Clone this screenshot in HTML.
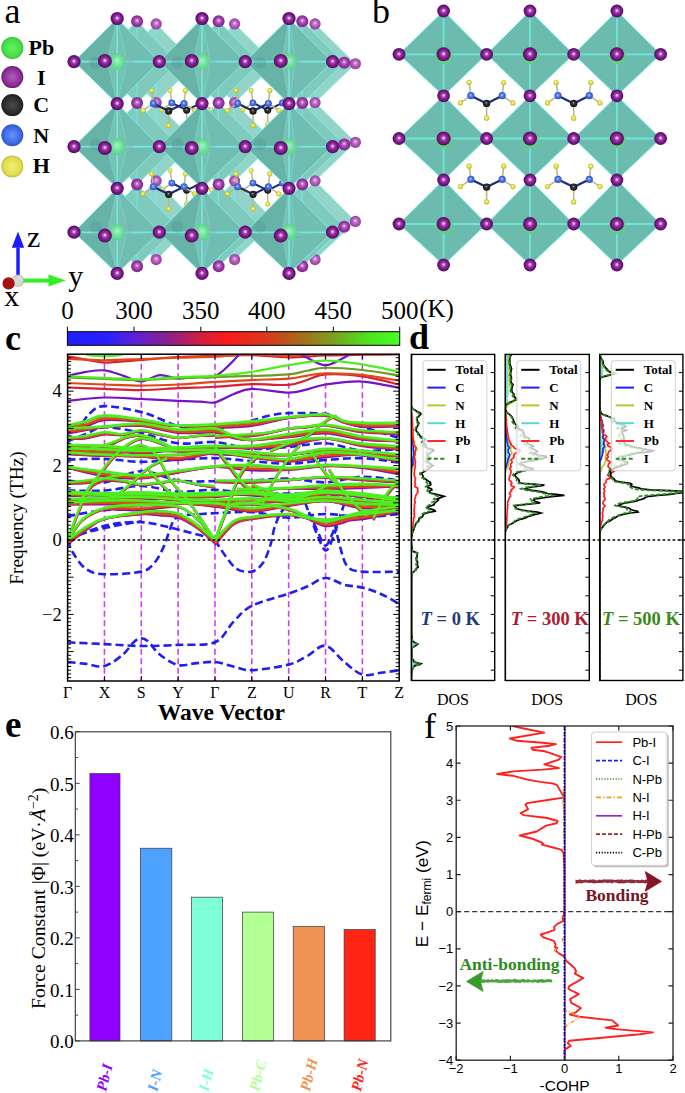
<!DOCTYPE html>
<html><head><meta charset="utf-8"><style>
html,body{margin:0;padding:0;background:#fff;}
svg{display:block;}
text{font-family:"Liberation Serif",serif;}
.sans{font-family:"Liberation Sans",sans-serif;}
</style></head><body>
<svg width="685" height="1093" viewBox="0 0 685 1093">

<defs>
<radialGradient id="gI" cx="0.5" cy="0.5" r="0.52" fx="0.5" fy="0.46">
 <stop offset="0" stop-color="#ffeaff"/><stop offset="0.1" stop-color="#f2b4f6"/><stop offset="0.3" stop-color="#a442b2"/>
 <stop offset="0.6" stop-color="#7c1c8a"/><stop offset="0.88" stop-color="#5e0e6c"/><stop offset="1" stop-color="#4a0858"/>
</radialGradient>
<radialGradient id="gIr" cx="0.5" cy="0.5" r="0.55" fx="0.5" fy="0.42">
 <stop offset="0" stop-color="#fbe6fb"/><stop offset="0.2" stop-color="#c878d0"/>
 <stop offset="0.55" stop-color="#9a38a6"/><stop offset="1" stop-color="#7a2088"/>
</radialGradient>
<radialGradient id="gIr2" cx="0.5" cy="0.5" r="0.55" fx="0.5" fy="0.42">
 <stop offset="0" stop-color="#f8e4f8"/><stop offset="0.22" stop-color="#cc88d2"/>
 <stop offset="0.6" stop-color="#ab52b4"/><stop offset="1" stop-color="#8e3a9a"/>
</radialGradient>
<radialGradient id="gPb" cx="0.5" cy="0.5" r="0.55" fx="0.5" fy="0.42">
 <stop offset="0" stop-color="#a4f8c6"/><stop offset="0.5" stop-color="#70e49c"/><stop offset="1" stop-color="#58d084"/>
</radialGradient>
<radialGradient id="gN" cx="0.5" cy="0.5" r="0.55" fx="0.45" fy="0.4">
 <stop offset="0" stop-color="#d8e4ff"/><stop offset="0.3" stop-color="#5a86f0"/><stop offset="1" stop-color="#2a48b8"/>
</radialGradient>
<radialGradient id="gC" cx="0.5" cy="0.5" r="0.55" fx="0.45" fy="0.4">
 <stop offset="0" stop-color="#b0b0b0"/><stop offset="0.3" stop-color="#3a3a3a"/><stop offset="1" stop-color="#0a0a0a"/>
</radialGradient>
<radialGradient id="gH" cx="0.5" cy="0.5" r="0.55" fx="0.45" fy="0.4">
 <stop offset="0" stop-color="#ffffd8"/><stop offset="0.35" stop-color="#ecec50"/><stop offset="1" stop-color="#b8b020"/>
</radialGradient>
<radialGradient id="lPb" cx="0.5" cy="0.5" r="0.5">
 <stop offset="0" stop-color="#66f066"/><stop offset="0.8" stop-color="#44e044"/><stop offset="1" stop-color="#38b838"/>
</radialGradient>
<radialGradient id="lI" cx="0.5" cy="0.5" r="0.5">
 <stop offset="0" stop-color="#b060b8"/><stop offset="0.8" stop-color="#8a2a96"/><stop offset="1" stop-color="#6a1a76"/>
</radialGradient>
<radialGradient id="lC" cx="0.5" cy="0.5" r="0.5">
 <stop offset="0" stop-color="#4a4a4a"/><stop offset="0.8" stop-color="#2a2a2a"/><stop offset="1" stop-color="#1a1a1a"/>
</radialGradient>
<radialGradient id="lN" cx="0.5" cy="0.5" r="0.5">
 <stop offset="0" stop-color="#6a90ff"/><stop offset="0.8" stop-color="#3a68e0"/><stop offset="1" stop-color="#2a50c0"/>
</radialGradient>
<radialGradient id="lH" cx="0.5" cy="0.5" r="0.5">
 <stop offset="0" stop-color="#f0f070"/><stop offset="0.8" stop-color="#e0dc50"/><stop offset="1" stop-color="#c0bc38"/>
</radialGradient>
<linearGradient id="cbar" x1="0" y1="0" x2="1" y2="0">
 <stop offset="0" stop-color="#1f1fff"/><stop offset="0.12" stop-color="#2a20f8"/><stop offset="0.2" stop-color="#5a22d8"/>
 <stop offset="0.3" stop-color="#8a2090"/><stop offset="0.4" stop-color="#d02040"/><stop offset="0.48" stop-color="#f81c1c"/>
 <stop offset="0.6" stop-color="#d83a1c"/><stop offset="0.7" stop-color="#a86a1c"/><stop offset="0.8" stop-color="#7aa020"/>
 <stop offset="0.9" stop-color="#50e020"/><stop offset="1" stop-color="#44ff22"/>
</linearGradient>
</defs>
<g id="pa">
<path d="M156.2,23.93 L195.13,63.77 L156.2,102.59 L116.26,63.77 Z" fill="#93d3c8"/>
<path d="M156.2,23.93 L195.13,63.77 L156.2,102.59 L116.26,63.77 Z" fill="none" stroke="#80efe6" stroke-width="1" opacity="0.9"/>
<path d="M116.26,63.77 L195.13,63.77 M156.2,23.93 L156.2,102.59" fill="none" stroke="#74ece2" stroke-width="1.1" opacity="0.9"/>
<path d="M146.74,63.24 L156.2,23.93 M146.74,63.24 L156.2,102.59 M146.74,63.24 L116.26,63.77 M146.74,63.24 L195.13,63.77" fill="none" stroke="#7fe6de" stroke-width="0.7" opacity="0.6"/>
<path d="M156.2,102.59 L195.13,142.33 L156.2,180.87 L116.26,142.33 Z" fill="#93d3c8"/>
<path d="M156.2,102.59 L195.13,142.33 L156.2,180.87 L116.26,142.33 Z" fill="none" stroke="#80efe6" stroke-width="1" opacity="0.9"/>
<path d="M116.26,142.33 L195.13,142.33 M156.2,102.59 L156.2,180.87" fill="none" stroke="#74ece2" stroke-width="1.1" opacity="0.9"/>
<path d="M146.74,143.37 L156.2,102.59 M146.74,143.37 L156.2,180.87 M146.74,143.37 L116.26,142.33 M146.74,143.37 L195.13,142.33" fill="none" stroke="#7fe6de" stroke-width="0.7" opacity="0.6"/>
<path d="M156.2,180.87 L195.13,221.45 L156.2,259.53 L116.26,221.45 Z" fill="#93d3c8"/>
<path d="M156.2,180.87 L195.13,221.45 L156.2,259.53 L116.26,221.45 Z" fill="none" stroke="#80efe6" stroke-width="1" opacity="0.9"/>
<path d="M116.26,221.45 L195.13,221.45 M156.2,180.87 L156.2,259.53" fill="none" stroke="#74ece2" stroke-width="1.1" opacity="0.9"/>
<path d="M146.74,224.06 L156.2,180.87 M146.74,224.06 L156.2,259.53 M146.74,224.06 L116.26,221.45 M146.74,224.06 L195.13,221.45" fill="none" stroke="#7fe6de" stroke-width="0.7" opacity="0.6"/>
<path d="M234.62,23.93 L274.56,63.77 L234.62,102.59 L195.13,63.77 Z" fill="#93d3c8"/>
<path d="M234.62,23.93 L274.56,63.77 L234.62,102.59 L195.13,63.77 Z" fill="none" stroke="#80efe6" stroke-width="1" opacity="0.9"/>
<path d="M195.13,63.77 L274.56,63.77 M234.62,23.93 L234.62,102.59" fill="none" stroke="#74ece2" stroke-width="1.1" opacity="0.9"/>
<path d="M226.7,63.24 L234.62,23.93 M226.7,63.24 L234.62,102.59 M226.7,63.24 L195.13,63.77 M226.7,63.24 L274.56,63.77" fill="none" stroke="#7fe6de" stroke-width="0.7" opacity="0.6"/>
<path d="M234.62,102.59 L274.56,142.33 L234.62,180.87 L195.13,142.33 Z" fill="#93d3c8"/>
<path d="M234.62,102.59 L274.56,142.33 L234.62,180.87 L195.13,142.33 Z" fill="none" stroke="#80efe6" stroke-width="1" opacity="0.9"/>
<path d="M195.13,142.33 L274.56,142.33 M234.62,102.59 L234.62,180.87" fill="none" stroke="#74ece2" stroke-width="1.1" opacity="0.9"/>
<path d="M226.7,143.37 L234.62,102.59 M226.7,143.37 L234.62,180.87 M226.7,143.37 L195.13,142.33 M226.7,143.37 L274.56,142.33" fill="none" stroke="#7fe6de" stroke-width="0.7" opacity="0.6"/>
<path d="M234.62,180.87 L274.56,221.45 L234.62,259.53 L195.13,221.45 Z" fill="#93d3c8"/>
<path d="M234.62,180.87 L274.56,221.45 L234.62,259.53 L195.13,221.45 Z" fill="none" stroke="#80efe6" stroke-width="1" opacity="0.9"/>
<path d="M195.13,221.45 L274.56,221.45 M234.62,180.87 L234.62,259.53" fill="none" stroke="#74ece2" stroke-width="1.1" opacity="0.9"/>
<path d="M226.7,224.06 L234.62,180.87 M226.7,224.06 L234.62,259.53 M226.7,224.06 L195.13,221.45 M226.7,224.06 L274.56,221.45" fill="none" stroke="#7fe6de" stroke-width="0.7" opacity="0.6"/>
<path d="M315.06,23.93 L355.38,63.77 L315.06,102.59 L274.56,63.77 Z" fill="#93d3c8"/>
<path d="M315.06,23.93 L355.38,63.77 L315.06,102.59 L274.56,63.77 Z" fill="none" stroke="#80efe6" stroke-width="1" opacity="0.9"/>
<path d="M274.56,63.77 L355.38,63.77 M315.06,23.93 L315.06,102.59" fill="none" stroke="#74ece2" stroke-width="1.1" opacity="0.9"/>
<path d="M308.74,63.24 L315.06,23.93 M308.74,63.24 L315.06,102.59 M308.74,63.24 L274.56,63.77 M308.74,63.24 L355.38,63.77" fill="none" stroke="#7fe6de" stroke-width="0.7" opacity="0.6"/>
<path d="M315.06,102.59 L355.38,142.33 L315.06,180.87 L274.56,142.33 Z" fill="#93d3c8"/>
<path d="M315.06,102.59 L355.38,142.33 L315.06,180.87 L274.56,142.33 Z" fill="none" stroke="#80efe6" stroke-width="1" opacity="0.9"/>
<path d="M274.56,142.33 L355.38,142.33 M315.06,102.59 L315.06,180.87" fill="none" stroke="#74ece2" stroke-width="1.1" opacity="0.9"/>
<path d="M308.74,143.37 L315.06,102.59 M308.74,143.37 L315.06,180.87 M308.74,143.37 L274.56,142.33 M308.74,143.37 L355.38,142.33" fill="none" stroke="#7fe6de" stroke-width="0.7" opacity="0.6"/>
<path d="M315.06,180.87 L355.38,221.45 L315.06,259.53 L274.56,221.45 Z" fill="#93d3c8"/>
<path d="M315.06,180.87 L355.38,221.45 L315.06,259.53 L274.56,221.45 Z" fill="none" stroke="#80efe6" stroke-width="1" opacity="0.9"/>
<path d="M274.56,221.45 L355.38,221.45 M315.06,180.87 L315.06,259.53" fill="none" stroke="#74ece2" stroke-width="1.1" opacity="0.9"/>
<path d="M308.74,224.06 L315.06,180.87 M308.74,224.06 L315.06,259.53 M308.74,224.06 L274.56,221.45 M308.74,224.06 L355.38,221.45" fill="none" stroke="#7fe6de" stroke-width="0.7" opacity="0.6"/>
<circle cx="116.26" cy="63.77" r="5.6" fill="url(#gIr2)"/>
<circle cx="116.26" cy="142.33" r="5.6" fill="url(#gIr2)"/>
<circle cx="116.26" cy="221.45" r="5.6" fill="url(#gIr2)"/>
<circle cx="156.2" cy="23.93" r="5.6" fill="url(#gIr2)"/>
<circle cx="156.2" cy="102.59" r="5.6" fill="url(#gIr2)"/>
<circle cx="156.2" cy="180.87" r="5.6" fill="url(#gIr2)"/>
<circle cx="156.2" cy="259.53" r="5.6" fill="url(#gIr2)"/>
<circle cx="234.62" cy="23.93" r="5.6" fill="url(#gIr2)"/>
<circle cx="234.62" cy="102.59" r="5.6" fill="url(#gIr2)"/>
<circle cx="234.62" cy="180.87" r="5.6" fill="url(#gIr2)"/>
<circle cx="234.62" cy="259.53" r="5.6" fill="url(#gIr2)"/>
<circle cx="315.06" cy="23.93" r="5.6" fill="url(#gIr2)"/>
<circle cx="315.06" cy="102.59" r="5.6" fill="url(#gIr2)"/>
<circle cx="315.06" cy="180.87" r="5.6" fill="url(#gIr2)"/>
<circle cx="315.06" cy="259.53" r="5.6" fill="url(#gIr2)"/>
<circle cx="355.38" cy="63.77" r="5.6" fill="url(#gIr2)"/>
<circle cx="355.38" cy="142.33" r="5.6" fill="url(#gIr2)"/>
<circle cx="355.38" cy="221.45" r="5.6" fill="url(#gIr2)"/>
<line x1="171.82" y1="102.92" x2="170.12" y2="90.48" stroke="#b8b890" stroke-width="1.51"/>
<line x1="171.82" y1="102.92" x2="161.92" y2="109.71" stroke="#b8b890" stroke-width="1.51"/>
<line x1="201.33" y1="102.92" x2="202.75" y2="90.48" stroke="#b8b890" stroke-width="1.51"/>
<line x1="201.33" y1="102.92" x2="211.42" y2="109.71" stroke="#b8b890" stroke-width="1.51"/>
<line x1="186.62" y1="110.18" x2="186.62" y2="124.14" stroke="#b8b890" stroke-width="1.51"/>
<path d="M171.82,102.92 L186.62,110.18 L201.33,102.92" fill="none" stroke="#1c2c7c" stroke-width="2.07"/>
<circle cx="170.12" cy="90.48" r="2.45" fill="url(#gH)"/>
<circle cx="161.92" cy="109.71" r="2.45" fill="url(#gH)"/>
<circle cx="202.75" cy="90.48" r="2.45" fill="url(#gH)"/>
<circle cx="211.42" cy="109.71" r="2.45" fill="url(#gH)"/>
<circle cx="186.62" cy="124.14" r="2.45" fill="url(#gH)"/>
<circle cx="171.82" cy="102.92" r="3.39" fill="url(#gN)"/>
<circle cx="201.33" cy="102.92" r="3.39" fill="url(#gN)"/>
<circle cx="186.62" cy="110.18" r="3.49" fill="url(#gC)"/>
<line x1="171.82" y1="183.05" x2="170.12" y2="170.6" stroke="#b8b890" stroke-width="1.51"/>
<line x1="171.82" y1="183.05" x2="161.92" y2="189.84" stroke="#b8b890" stroke-width="1.51"/>
<line x1="201.33" y1="183.05" x2="202.75" y2="170.6" stroke="#b8b890" stroke-width="1.51"/>
<line x1="201.33" y1="183.05" x2="211.42" y2="189.84" stroke="#b8b890" stroke-width="1.51"/>
<line x1="186.62" y1="190.31" x2="186.62" y2="204.27" stroke="#b8b890" stroke-width="1.51"/>
<path d="M171.82,183.05 L186.62,190.31 L201.33,183.05" fill="none" stroke="#1c2c7c" stroke-width="2.07"/>
<circle cx="170.12" cy="170.6" r="2.45" fill="url(#gH)"/>
<circle cx="161.92" cy="189.84" r="2.45" fill="url(#gH)"/>
<circle cx="202.75" cy="170.6" r="2.45" fill="url(#gH)"/>
<circle cx="211.42" cy="189.84" r="2.45" fill="url(#gH)"/>
<circle cx="186.62" cy="204.27" r="2.45" fill="url(#gH)"/>
<circle cx="171.82" cy="183.05" r="3.39" fill="url(#gN)"/>
<circle cx="201.33" cy="183.05" r="3.39" fill="url(#gN)"/>
<circle cx="186.62" cy="190.31" r="3.49" fill="url(#gC)"/>
<line x1="252.91" y1="102.92" x2="251.22" y2="90.48" stroke="#b8b890" stroke-width="1.51"/>
<line x1="252.91" y1="102.92" x2="243.01" y2="109.71" stroke="#b8b890" stroke-width="1.51"/>
<line x1="282.43" y1="102.92" x2="283.84" y2="90.48" stroke="#b8b890" stroke-width="1.51"/>
<line x1="282.43" y1="102.92" x2="292.52" y2="109.71" stroke="#b8b890" stroke-width="1.51"/>
<line x1="267.72" y1="110.18" x2="267.72" y2="124.14" stroke="#b8b890" stroke-width="1.51"/>
<path d="M252.91,102.92 L267.72,110.18 L282.43,102.92" fill="none" stroke="#1c2c7c" stroke-width="2.07"/>
<circle cx="251.22" cy="90.48" r="2.45" fill="url(#gH)"/>
<circle cx="243.01" cy="109.71" r="2.45" fill="url(#gH)"/>
<circle cx="283.84" cy="90.48" r="2.45" fill="url(#gH)"/>
<circle cx="292.52" cy="109.71" r="2.45" fill="url(#gH)"/>
<circle cx="267.72" cy="124.14" r="2.45" fill="url(#gH)"/>
<circle cx="252.91" cy="102.92" r="3.39" fill="url(#gN)"/>
<circle cx="282.43" cy="102.92" r="3.39" fill="url(#gN)"/>
<circle cx="267.72" cy="110.18" r="3.49" fill="url(#gC)"/>
<line x1="252.91" y1="183.05" x2="251.22" y2="170.6" stroke="#b8b890" stroke-width="1.51"/>
<line x1="252.91" y1="183.05" x2="243.01" y2="189.84" stroke="#b8b890" stroke-width="1.51"/>
<line x1="282.43" y1="183.05" x2="283.84" y2="170.6" stroke="#b8b890" stroke-width="1.51"/>
<line x1="282.43" y1="183.05" x2="292.52" y2="189.84" stroke="#b8b890" stroke-width="1.51"/>
<line x1="267.72" y1="190.31" x2="267.72" y2="204.27" stroke="#b8b890" stroke-width="1.51"/>
<path d="M252.91,183.05 L267.72,190.31 L282.43,183.05" fill="none" stroke="#1c2c7c" stroke-width="2.07"/>
<circle cx="251.22" cy="170.6" r="2.45" fill="url(#gH)"/>
<circle cx="243.01" cy="189.84" r="2.45" fill="url(#gH)"/>
<circle cx="283.84" cy="170.6" r="2.45" fill="url(#gH)"/>
<circle cx="292.52" cy="189.84" r="2.45" fill="url(#gH)"/>
<circle cx="267.72" cy="204.27" r="2.45" fill="url(#gH)"/>
<circle cx="252.91" cy="183.05" r="3.39" fill="url(#gN)"/>
<circle cx="282.43" cy="183.05" r="3.39" fill="url(#gN)"/>
<circle cx="267.72" cy="190.31" r="3.49" fill="url(#gC)"/>
<path d="M137.08,21.27 L177.57,62.7 L137.08,103.08 L95.54,62.7 Z" fill="#80c9bd"/>
<path d="M137.08,21.27 L177.57,62.7 L137.08,103.08 L95.54,62.7 Z" fill="none" stroke="#80efe6" stroke-width="1" opacity="0.9"/>
<path d="M95.54,62.7 L177.57,62.7 M137.08,21.27 L137.08,103.08" fill="none" stroke="#74ece2" stroke-width="1.1" opacity="0.9"/>
<path d="M127.24,62.16 L137.08,21.27 M127.24,62.16 L137.08,103.08 M127.24,62.16 L95.54,62.7 M127.24,62.16 L177.57,62.7" fill="none" stroke="#7fe6de" stroke-width="0.7" opacity="0.6"/>
<path d="M137.08,103.08 L177.57,144.42 L137.08,184.51 L95.54,144.42 Z" fill="#80c9bd"/>
<path d="M137.08,103.08 L177.57,144.42 L137.08,184.51 L95.54,144.42 Z" fill="none" stroke="#80efe6" stroke-width="1" opacity="0.9"/>
<path d="M95.54,144.42 L177.57,144.42 M137.08,103.08 L137.08,184.51" fill="none" stroke="#74ece2" stroke-width="1.1" opacity="0.9"/>
<path d="M127.24,145.5 L137.08,103.08 M127.24,145.5 L137.08,184.51 M127.24,145.5 L95.54,144.42 M127.24,145.5 L177.57,144.42" fill="none" stroke="#7fe6de" stroke-width="0.7" opacity="0.6"/>
<path d="M137.08,184.51 L177.57,226.72 L137.08,266.33 L95.54,226.72 Z" fill="#80c9bd"/>
<path d="M137.08,184.51 L177.57,226.72 L137.08,266.33 L95.54,226.72 Z" fill="none" stroke="#80efe6" stroke-width="1" opacity="0.9"/>
<path d="M95.54,226.72 L177.57,226.72 M137.08,184.51 L137.08,266.33" fill="none" stroke="#74ece2" stroke-width="1.1" opacity="0.9"/>
<path d="M127.24,229.43 L137.08,184.51 M127.24,229.43 L137.08,266.33 M127.24,229.43 L95.54,226.72 M127.24,229.43 L177.57,226.72" fill="none" stroke="#7fe6de" stroke-width="0.7" opacity="0.6"/>
<path d="M218.63,21.27 L260.17,62.7 L218.63,103.08 L177.57,62.7 Z" fill="#80c9bd"/>
<path d="M218.63,21.27 L260.17,62.7 L218.63,103.08 L177.57,62.7 Z" fill="none" stroke="#80efe6" stroke-width="1" opacity="0.9"/>
<path d="M177.57,62.7 L260.17,62.7 M218.63,21.27 L218.63,103.08" fill="none" stroke="#74ece2" stroke-width="1.1" opacity="0.9"/>
<path d="M210.39,62.16 L218.63,21.27 M210.39,62.16 L218.63,103.08 M210.39,62.16 L177.57,62.7 M210.39,62.16 L260.17,62.7" fill="none" stroke="#7fe6de" stroke-width="0.7" opacity="0.6"/>
<path d="M218.63,103.08 L260.17,144.42 L218.63,184.51 L177.57,144.42 Z" fill="#80c9bd"/>
<path d="M218.63,103.08 L260.17,144.42 L218.63,184.51 L177.57,144.42 Z" fill="none" stroke="#80efe6" stroke-width="1" opacity="0.9"/>
<path d="M177.57,144.42 L260.17,144.42 M218.63,103.08 L218.63,184.51" fill="none" stroke="#74ece2" stroke-width="1.1" opacity="0.9"/>
<path d="M210.39,145.5 L218.63,103.08 M210.39,145.5 L218.63,184.51 M210.39,145.5 L177.57,144.42 M210.39,145.5 L260.17,144.42" fill="none" stroke="#7fe6de" stroke-width="0.7" opacity="0.6"/>
<path d="M218.63,184.51 L260.17,226.72 L218.63,266.33 L177.57,226.72 Z" fill="#80c9bd"/>
<path d="M218.63,184.51 L260.17,226.72 L218.63,266.33 L177.57,226.72 Z" fill="none" stroke="#80efe6" stroke-width="1" opacity="0.9"/>
<path d="M177.57,226.72 L260.17,226.72 M218.63,184.51 L218.63,266.33" fill="none" stroke="#74ece2" stroke-width="1.1" opacity="0.9"/>
<path d="M210.39,229.43 L218.63,184.51 M210.39,229.43 L218.63,266.33 M210.39,229.43 L177.57,226.72 M210.39,229.43 L260.17,226.72" fill="none" stroke="#7fe6de" stroke-width="0.7" opacity="0.6"/>
<path d="M302.29,21.27 L344.21,62.7 L302.29,103.08 L260.17,62.7 Z" fill="#80c9bd"/>
<path d="M302.29,21.27 L344.21,62.7 L302.29,103.08 L260.17,62.7 Z" fill="none" stroke="#80efe6" stroke-width="1" opacity="0.9"/>
<path d="M260.17,62.7 L344.21,62.7 M302.29,21.27 L302.29,103.08" fill="none" stroke="#74ece2" stroke-width="1.1" opacity="0.9"/>
<path d="M295.71,62.16 L302.29,21.27 M295.71,62.16 L302.29,103.08 M295.71,62.16 L260.17,62.7 M295.71,62.16 L344.21,62.7" fill="none" stroke="#7fe6de" stroke-width="0.7" opacity="0.6"/>
<path d="M302.29,103.08 L344.21,144.42 L302.29,184.51 L260.17,144.42 Z" fill="#80c9bd"/>
<path d="M302.29,103.08 L344.21,144.42 L302.29,184.51 L260.17,144.42 Z" fill="none" stroke="#80efe6" stroke-width="1" opacity="0.9"/>
<path d="M260.17,144.42 L344.21,144.42 M302.29,103.08 L302.29,184.51" fill="none" stroke="#74ece2" stroke-width="1.1" opacity="0.9"/>
<path d="M295.71,145.5 L302.29,103.08 M295.71,145.5 L302.29,184.51 M295.71,145.5 L260.17,144.42 M295.71,145.5 L344.21,144.42" fill="none" stroke="#7fe6de" stroke-width="0.7" opacity="0.6"/>
<path d="M302.29,184.51 L344.21,226.72 L302.29,266.33 L260.17,226.72 Z" fill="#80c9bd"/>
<path d="M302.29,184.51 L344.21,226.72 L302.29,266.33 L260.17,226.72 Z" fill="none" stroke="#80efe6" stroke-width="1" opacity="0.9"/>
<path d="M260.17,226.72 L344.21,226.72 M302.29,184.51 L302.29,266.33" fill="none" stroke="#74ece2" stroke-width="1.1" opacity="0.9"/>
<path d="M295.71,229.43 L302.29,184.51 M295.71,229.43 L302.29,266.33 M295.71,229.43 L260.17,226.72 M295.71,229.43 L344.21,226.72" fill="none" stroke="#7fe6de" stroke-width="0.7" opacity="0.6"/>
<circle cx="95.54" cy="62.7" r="6" fill="url(#gIr)"/>
<circle cx="95.54" cy="144.42" r="6" fill="url(#gIr)"/>
<circle cx="95.54" cy="226.72" r="6" fill="url(#gIr)"/>
<circle cx="137.08" cy="21.27" r="6" fill="url(#gIr)"/>
<circle cx="137.08" cy="103.08" r="6" fill="url(#gIr)"/>
<circle cx="137.08" cy="184.51" r="6" fill="url(#gIr)"/>
<circle cx="137.08" cy="266.33" r="6" fill="url(#gIr)"/>
<circle cx="218.63" cy="21.27" r="6" fill="url(#gIr)"/>
<circle cx="218.63" cy="103.08" r="6" fill="url(#gIr)"/>
<circle cx="218.63" cy="184.51" r="6" fill="url(#gIr)"/>
<circle cx="218.63" cy="266.33" r="6" fill="url(#gIr)"/>
<circle cx="302.29" cy="21.27" r="6" fill="url(#gIr)"/>
<circle cx="302.29" cy="103.08" r="6" fill="url(#gIr)"/>
<circle cx="302.29" cy="184.51" r="6" fill="url(#gIr)"/>
<circle cx="302.29" cy="266.33" r="6" fill="url(#gIr)"/>
<circle cx="344.21" cy="62.7" r="6" fill="url(#gIr)"/>
<circle cx="344.21" cy="144.42" r="6" fill="url(#gIr)"/>
<circle cx="344.21" cy="226.72" r="6" fill="url(#gIr)"/>
<line x1="153.32" y1="103.44" x2="151.56" y2="90.49" stroke="#b8b890" stroke-width="1.57"/>
<line x1="153.32" y1="103.44" x2="143.03" y2="110.5" stroke="#b8b890" stroke-width="1.57"/>
<line x1="184.02" y1="103.44" x2="185.49" y2="90.49" stroke="#b8b890" stroke-width="1.57"/>
<line x1="184.02" y1="103.44" x2="194.51" y2="110.5" stroke="#b8b890" stroke-width="1.57"/>
<line x1="168.72" y1="110.99" x2="168.72" y2="125.5" stroke="#b8b890" stroke-width="1.57"/>
<path d="M153.32,103.44 L168.72,110.99 L184.02,103.44" fill="none" stroke="#1c2c7c" stroke-width="2.16"/>
<circle cx="151.56" cy="90.49" r="2.55" fill="url(#gH)"/>
<circle cx="143.03" cy="110.5" r="2.55" fill="url(#gH)"/>
<circle cx="185.49" cy="90.49" r="2.55" fill="url(#gH)"/>
<circle cx="194.51" cy="110.5" r="2.55" fill="url(#gH)"/>
<circle cx="168.72" cy="125.5" r="2.55" fill="url(#gH)"/>
<circle cx="153.32" cy="103.44" r="3.53" fill="url(#gN)"/>
<circle cx="184.02" cy="103.44" r="3.53" fill="url(#gN)"/>
<circle cx="168.72" cy="110.99" r="3.63" fill="url(#gC)"/>
<line x1="153.32" y1="186.78" x2="151.56" y2="173.84" stroke="#b8b890" stroke-width="1.57"/>
<line x1="153.32" y1="186.78" x2="143.03" y2="193.84" stroke="#b8b890" stroke-width="1.57"/>
<line x1="184.02" y1="186.78" x2="185.49" y2="173.84" stroke="#b8b890" stroke-width="1.57"/>
<line x1="184.02" y1="186.78" x2="194.51" y2="193.84" stroke="#b8b890" stroke-width="1.57"/>
<line x1="168.72" y1="194.33" x2="168.72" y2="208.84" stroke="#b8b890" stroke-width="1.57"/>
<path d="M153.32,186.78 L168.72,194.33 L184.02,186.78" fill="none" stroke="#1c2c7c" stroke-width="2.16"/>
<circle cx="151.56" cy="173.84" r="2.55" fill="url(#gH)"/>
<circle cx="143.03" cy="193.84" r="2.55" fill="url(#gH)"/>
<circle cx="185.49" cy="173.84" r="2.55" fill="url(#gH)"/>
<circle cx="194.51" cy="193.84" r="2.55" fill="url(#gH)"/>
<circle cx="168.72" cy="208.84" r="2.55" fill="url(#gH)"/>
<circle cx="153.32" cy="186.78" r="3.53" fill="url(#gN)"/>
<circle cx="184.02" cy="186.78" r="3.53" fill="url(#gN)"/>
<circle cx="168.72" cy="194.33" r="3.63" fill="url(#gC)"/>
<line x1="237.66" y1="103.44" x2="235.89" y2="90.49" stroke="#b8b890" stroke-width="1.57"/>
<line x1="237.66" y1="103.44" x2="227.36" y2="110.5" stroke="#b8b890" stroke-width="1.57"/>
<line x1="268.35" y1="103.44" x2="269.82" y2="90.49" stroke="#b8b890" stroke-width="1.57"/>
<line x1="268.35" y1="103.44" x2="278.84" y2="110.5" stroke="#b8b890" stroke-width="1.57"/>
<line x1="253.05" y1="110.99" x2="253.05" y2="125.5" stroke="#b8b890" stroke-width="1.57"/>
<path d="M237.66,103.44 L253.05,110.99 L268.35,103.44" fill="none" stroke="#1c2c7c" stroke-width="2.16"/>
<circle cx="235.89" cy="90.49" r="2.55" fill="url(#gH)"/>
<circle cx="227.36" cy="110.5" r="2.55" fill="url(#gH)"/>
<circle cx="269.82" cy="90.49" r="2.55" fill="url(#gH)"/>
<circle cx="278.84" cy="110.5" r="2.55" fill="url(#gH)"/>
<circle cx="253.05" cy="125.5" r="2.55" fill="url(#gH)"/>
<circle cx="237.66" cy="103.44" r="3.53" fill="url(#gN)"/>
<circle cx="268.35" cy="103.44" r="3.53" fill="url(#gN)"/>
<circle cx="253.05" cy="110.99" r="3.63" fill="url(#gC)"/>
<line x1="237.66" y1="186.78" x2="235.89" y2="173.84" stroke="#b8b890" stroke-width="1.57"/>
<line x1="237.66" y1="186.78" x2="227.36" y2="193.84" stroke="#b8b890" stroke-width="1.57"/>
<line x1="268.35" y1="186.78" x2="269.82" y2="173.84" stroke="#b8b890" stroke-width="1.57"/>
<line x1="268.35" y1="186.78" x2="278.84" y2="193.84" stroke="#b8b890" stroke-width="1.57"/>
<line x1="253.05" y1="194.33" x2="253.05" y2="208.84" stroke="#b8b890" stroke-width="1.57"/>
<path d="M237.66,186.78 L253.05,194.33 L268.35,186.78" fill="none" stroke="#1c2c7c" stroke-width="2.16"/>
<circle cx="235.89" cy="173.84" r="2.55" fill="url(#gH)"/>
<circle cx="227.36" cy="193.84" r="2.55" fill="url(#gH)"/>
<circle cx="269.82" cy="173.84" r="2.55" fill="url(#gH)"/>
<circle cx="278.84" cy="193.84" r="2.55" fill="url(#gH)"/>
<circle cx="253.05" cy="208.84" r="2.55" fill="url(#gH)"/>
<circle cx="237.66" cy="186.78" r="3.53" fill="url(#gN)"/>
<circle cx="268.35" cy="186.78" r="3.53" fill="url(#gN)"/>
<circle cx="253.05" cy="194.33" r="3.63" fill="url(#gC)"/>
<path d="M117.2,18.5 L159.3,61.6 L117.2,103.6 L74,61.6 Z" fill="#6cbcaf"/>
<path d="M117.2,18.5 L74,61.6 L117.2,103.6 L106.96,61.03 Z" fill="#000000" opacity="0.045"/>
<path d="M117.2,18.5 L106.96,61.03 L117.2,103.6 L127.24,62.16 Z" fill="#ffffff" opacity="0.07"/>
<path d="M117.2,18.5 L127.24,62.16 L117.2,103.6 L159.3,61.6 Z" fill="#ffffff" opacity="0.03"/>
<path d="M117.2,18.5 L127.24,62.16 L117.2,103.6" fill="none" stroke="#7fe6de" stroke-width="0.7" opacity="0.6"/>
<path d="M117.2,18.5 L159.3,61.6 L117.2,103.6 L74,61.6 Z" fill="none" stroke="#80efe6" stroke-width="1" opacity="0.9"/>
<path d="M74,61.6 L159.3,61.6 M117.2,18.5 L117.2,103.6" fill="none" stroke="#74ece2" stroke-width="1.6" opacity="0.9"/>
<path d="M106.96,61.03 L117.2,18.5 M106.96,61.03 L117.2,103.6 M106.96,61.03 L74,61.6 M106.96,61.03 L159.3,61.6" fill="none" stroke="#7fe6de" stroke-width="0.7" opacity="0.6"/>
<path d="M117.2,103.6 L159.3,146.6 L117.2,188.3 L74,146.6 Z" fill="#6cbcaf"/>
<path d="M117.2,103.6 L74,146.6 L117.2,188.3 L106.96,147.72 Z" fill="#000000" opacity="0.045"/>
<path d="M117.2,103.6 L106.96,147.72 L117.2,188.3 L127.24,145.5 Z" fill="#ffffff" opacity="0.07"/>
<path d="M117.2,103.6 L127.24,145.5 L117.2,188.3 L159.3,146.6 Z" fill="#ffffff" opacity="0.03"/>
<path d="M117.2,103.6 L127.24,145.5 L117.2,188.3" fill="none" stroke="#7fe6de" stroke-width="0.7" opacity="0.6"/>
<path d="M117.2,103.6 L159.3,146.6 L117.2,188.3 L74,146.6 Z" fill="none" stroke="#80efe6" stroke-width="1" opacity="0.9"/>
<path d="M74,146.6 L159.3,146.6 M117.2,103.6 L117.2,188.3" fill="none" stroke="#74ece2" stroke-width="1.6" opacity="0.9"/>
<path d="M106.96,147.72 L117.2,103.6 M106.96,147.72 L117.2,188.3 M106.96,147.72 L74,146.6 M106.96,147.72 L159.3,146.6" fill="none" stroke="#7fe6de" stroke-width="0.7" opacity="0.6"/>
<path d="M117.2,188.3 L159.3,232.2 L117.2,273.4 L74,232.2 Z" fill="#6cbcaf"/>
<path d="M117.2,188.3 L74,232.2 L117.2,273.4 L106.96,235.02 Z" fill="#000000" opacity="0.045"/>
<path d="M117.2,188.3 L106.96,235.02 L117.2,273.4 L127.24,229.43 Z" fill="#ffffff" opacity="0.07"/>
<path d="M117.2,188.3 L127.24,229.43 L117.2,273.4 L159.3,232.2 Z" fill="#ffffff" opacity="0.03"/>
<path d="M117.2,188.3 L127.24,229.43 L117.2,273.4" fill="none" stroke="#7fe6de" stroke-width="0.7" opacity="0.6"/>
<path d="M117.2,188.3 L159.3,232.2 L117.2,273.4 L74,232.2 Z" fill="none" stroke="#80efe6" stroke-width="1" opacity="0.9"/>
<path d="M74,232.2 L159.3,232.2 M117.2,188.3 L117.2,273.4" fill="none" stroke="#74ece2" stroke-width="1.6" opacity="0.9"/>
<path d="M106.96,235.02 L117.2,188.3 M106.96,235.02 L117.2,273.4 M106.96,235.02 L74,232.2 M106.96,235.02 L159.3,232.2" fill="none" stroke="#7fe6de" stroke-width="0.7" opacity="0.6"/>
<path d="M202,18.5 L245.2,61.6 L202,103.6 L159.3,61.6 Z" fill="#6cbcaf"/>
<path d="M202,18.5 L159.3,61.6 L202,103.6 L193.44,61.03 Z" fill="#000000" opacity="0.045"/>
<path d="M202,18.5 L193.44,61.03 L202,103.6 L210.39,62.16 Z" fill="#ffffff" opacity="0.07"/>
<path d="M202,18.5 L210.39,62.16 L202,103.6 L245.2,61.6 Z" fill="#ffffff" opacity="0.03"/>
<path d="M202,18.5 L210.39,62.16 L202,103.6" fill="none" stroke="#7fe6de" stroke-width="0.7" opacity="0.6"/>
<path d="M202,18.5 L245.2,61.6 L202,103.6 L159.3,61.6 Z" fill="none" stroke="#80efe6" stroke-width="1" opacity="0.9"/>
<path d="M159.3,61.6 L245.2,61.6 M202,18.5 L202,103.6" fill="none" stroke="#74ece2" stroke-width="1.6" opacity="0.9"/>
<path d="M193.44,61.03 L202,18.5 M193.44,61.03 L202,103.6 M193.44,61.03 L159.3,61.6 M193.44,61.03 L245.2,61.6" fill="none" stroke="#7fe6de" stroke-width="0.7" opacity="0.6"/>
<path d="M202,103.6 L245.2,146.6 L202,188.3 L159.3,146.6 Z" fill="#6cbcaf"/>
<path d="M202,103.6 L159.3,146.6 L202,188.3 L193.44,147.72 Z" fill="#000000" opacity="0.045"/>
<path d="M202,103.6 L193.44,147.72 L202,188.3 L210.39,145.5 Z" fill="#ffffff" opacity="0.07"/>
<path d="M202,103.6 L210.39,145.5 L202,188.3 L245.2,146.6 Z" fill="#ffffff" opacity="0.03"/>
<path d="M202,103.6 L210.39,145.5 L202,188.3" fill="none" stroke="#7fe6de" stroke-width="0.7" opacity="0.6"/>
<path d="M202,103.6 L245.2,146.6 L202,188.3 L159.3,146.6 Z" fill="none" stroke="#80efe6" stroke-width="1" opacity="0.9"/>
<path d="M159.3,146.6 L245.2,146.6 M202,103.6 L202,188.3" fill="none" stroke="#74ece2" stroke-width="1.6" opacity="0.9"/>
<path d="M193.44,147.72 L202,103.6 M193.44,147.72 L202,188.3 M193.44,147.72 L159.3,146.6 M193.44,147.72 L245.2,146.6" fill="none" stroke="#7fe6de" stroke-width="0.7" opacity="0.6"/>
<path d="M202,188.3 L245.2,232.2 L202,273.4 L159.3,232.2 Z" fill="#6cbcaf"/>
<path d="M202,188.3 L159.3,232.2 L202,273.4 L193.44,235.02 Z" fill="#000000" opacity="0.045"/>
<path d="M202,188.3 L193.44,235.02 L202,273.4 L210.39,229.43 Z" fill="#ffffff" opacity="0.07"/>
<path d="M202,188.3 L210.39,229.43 L202,273.4 L245.2,232.2 Z" fill="#ffffff" opacity="0.03"/>
<path d="M202,188.3 L210.39,229.43 L202,273.4" fill="none" stroke="#7fe6de" stroke-width="0.7" opacity="0.6"/>
<path d="M202,188.3 L245.2,232.2 L202,273.4 L159.3,232.2 Z" fill="none" stroke="#80efe6" stroke-width="1" opacity="0.9"/>
<path d="M159.3,232.2 L245.2,232.2 M202,188.3 L202,273.4" fill="none" stroke="#74ece2" stroke-width="1.6" opacity="0.9"/>
<path d="M193.44,235.02 L202,188.3 M193.44,235.02 L202,273.4 M193.44,235.02 L159.3,232.2 M193.44,235.02 L245.2,232.2" fill="none" stroke="#7fe6de" stroke-width="0.7" opacity="0.6"/>
<path d="M289,18.5 L332.6,61.6 L289,103.6 L245.2,61.6 Z" fill="#6cbcaf"/>
<path d="M289,18.5 L245.2,61.6 L289,103.6 L282.16,61.03 Z" fill="#000000" opacity="0.045"/>
<path d="M289,18.5 L282.16,61.03 L289,103.6 L295.71,62.16 Z" fill="#ffffff" opacity="0.07"/>
<path d="M289,18.5 L295.71,62.16 L289,103.6 L332.6,61.6 Z" fill="#ffffff" opacity="0.03"/>
<path d="M289,18.5 L295.71,62.16 L289,103.6" fill="none" stroke="#7fe6de" stroke-width="0.7" opacity="0.6"/>
<path d="M289,18.5 L332.6,61.6 L289,103.6 L245.2,61.6 Z" fill="none" stroke="#80efe6" stroke-width="1" opacity="0.9"/>
<path d="M245.2,61.6 L332.6,61.6 M289,18.5 L289,103.6" fill="none" stroke="#74ece2" stroke-width="1.6" opacity="0.9"/>
<path d="M282.16,61.03 L289,18.5 M282.16,61.03 L289,103.6 M282.16,61.03 L245.2,61.6 M282.16,61.03 L332.6,61.6" fill="none" stroke="#7fe6de" stroke-width="0.7" opacity="0.6"/>
<path d="M289,103.6 L332.6,146.6 L289,188.3 L245.2,146.6 Z" fill="#6cbcaf"/>
<path d="M289,103.6 L245.2,146.6 L289,188.3 L282.16,147.72 Z" fill="#000000" opacity="0.045"/>
<path d="M289,103.6 L282.16,147.72 L289,188.3 L295.71,145.5 Z" fill="#ffffff" opacity="0.07"/>
<path d="M289,103.6 L295.71,145.5 L289,188.3 L332.6,146.6 Z" fill="#ffffff" opacity="0.03"/>
<path d="M289,103.6 L295.71,145.5 L289,188.3" fill="none" stroke="#7fe6de" stroke-width="0.7" opacity="0.6"/>
<path d="M289,103.6 L332.6,146.6 L289,188.3 L245.2,146.6 Z" fill="none" stroke="#80efe6" stroke-width="1" opacity="0.9"/>
<path d="M245.2,146.6 L332.6,146.6 M289,103.6 L289,188.3" fill="none" stroke="#74ece2" stroke-width="1.6" opacity="0.9"/>
<path d="M282.16,147.72 L289,103.6 M282.16,147.72 L289,188.3 M282.16,147.72 L245.2,146.6 M282.16,147.72 L332.6,146.6" fill="none" stroke="#7fe6de" stroke-width="0.7" opacity="0.6"/>
<path d="M289,188.3 L332.6,232.2 L289,273.4 L245.2,232.2 Z" fill="#6cbcaf"/>
<path d="M289,188.3 L245.2,232.2 L289,273.4 L282.16,235.02 Z" fill="#000000" opacity="0.045"/>
<path d="M289,188.3 L282.16,235.02 L289,273.4 L295.71,229.43 Z" fill="#ffffff" opacity="0.07"/>
<path d="M289,188.3 L295.71,229.43 L289,273.4 L332.6,232.2 Z" fill="#ffffff" opacity="0.03"/>
<path d="M289,188.3 L295.71,229.43 L289,273.4" fill="none" stroke="#7fe6de" stroke-width="0.7" opacity="0.6"/>
<path d="M289,188.3 L332.6,232.2 L289,273.4 L245.2,232.2 Z" fill="none" stroke="#80efe6" stroke-width="1" opacity="0.9"/>
<path d="M245.2,232.2 L332.6,232.2 M289,188.3 L289,273.4" fill="none" stroke="#74ece2" stroke-width="1.6" opacity="0.9"/>
<path d="M282.16,235.02 L289,188.3 M282.16,235.02 L289,273.4 M282.16,235.02 L245.2,232.2 M282.16,235.02 L332.6,232.2" fill="none" stroke="#7fe6de" stroke-width="0.7" opacity="0.6"/>
<circle cx="177.57" cy="62.7" r="6" fill="#4a8c94" opacity="0.28"/>
<circle cx="177.57" cy="144.42" r="6" fill="#4a8c94" opacity="0.28"/>
<circle cx="177.57" cy="226.72" r="6" fill="#4a8c94" opacity="0.28"/>
<circle cx="260.17" cy="62.7" r="6" fill="#4a8c94" opacity="0.28"/>
<circle cx="260.17" cy="144.42" r="6" fill="#4a8c94" opacity="0.28"/>
<circle cx="260.17" cy="226.72" r="6" fill="#4a8c94" opacity="0.28"/>
<circle cx="95.54" cy="62.7" r="6" fill="#4a8c94" opacity="0.28"/>
<circle cx="95.54" cy="144.42" r="6" fill="#4a8c94" opacity="0.28"/>
<circle cx="95.54" cy="226.72" r="6" fill="#4a8c94" opacity="0.28"/>
<circle cx="127.24" cy="62.16" r="6" fill="#8aa8c0" opacity="0.35"/>
<circle cx="117.2" cy="61.6" r="8.1" fill="url(#gPb)" opacity="0.95"/>
<circle cx="104.89" cy="60.92" r="7.0" fill="url(#gI)"/>
<circle cx="127.24" cy="145.5" r="6" fill="#8aa8c0" opacity="0.35"/>
<circle cx="117.2" cy="146.6" r="8.1" fill="url(#gPb)" opacity="0.95"/>
<circle cx="104.89" cy="147.95" r="7.0" fill="url(#gI)"/>
<circle cx="127.24" cy="229.43" r="6" fill="#8aa8c0" opacity="0.35"/>
<circle cx="117.2" cy="232.2" r="8.1" fill="url(#gPb)" opacity="0.95"/>
<circle cx="104.89" cy="235.59" r="7.0" fill="url(#gI)"/>
<circle cx="210.39" cy="62.16" r="6" fill="#8aa8c0" opacity="0.35"/>
<circle cx="202" cy="61.6" r="8.1" fill="url(#gPb)" opacity="0.95"/>
<circle cx="191.71" cy="60.92" r="7.0" fill="url(#gI)"/>
<circle cx="210.39" cy="145.5" r="6" fill="#8aa8c0" opacity="0.35"/>
<circle cx="202" cy="146.6" r="8.1" fill="url(#gPb)" opacity="0.95"/>
<circle cx="191.71" cy="147.95" r="7.0" fill="url(#gI)"/>
<circle cx="210.39" cy="229.43" r="6" fill="#8aa8c0" opacity="0.35"/>
<circle cx="202" cy="232.2" r="8.1" fill="url(#gPb)" opacity="0.95"/>
<circle cx="191.71" cy="235.59" r="7.0" fill="url(#gI)"/>
<circle cx="295.71" cy="62.16" r="6" fill="#8aa8c0" opacity="0.35"/>
<circle cx="289" cy="61.6" r="8.1" fill="url(#gPb)" opacity="0.95"/>
<circle cx="280.77" cy="60.92" r="7.0" fill="url(#gI)"/>
<circle cx="295.71" cy="145.5" r="6" fill="#8aa8c0" opacity="0.35"/>
<circle cx="289" cy="146.6" r="8.1" fill="url(#gPb)" opacity="0.95"/>
<circle cx="280.77" cy="147.95" r="7.0" fill="url(#gI)"/>
<circle cx="295.71" cy="229.43" r="6" fill="#8aa8c0" opacity="0.35"/>
<circle cx="289" cy="232.2" r="8.1" fill="url(#gPb)" opacity="0.95"/>
<circle cx="280.77" cy="235.59" r="7.0" fill="url(#gI)"/>
<circle cx="74" cy="61.6" r="6.6" fill="url(#gI)"/>
<circle cx="74" cy="146.6" r="6.6" fill="url(#gI)"/>
<circle cx="74" cy="232.2" r="6.6" fill="url(#gI)"/>
<circle cx="117.2" cy="18.5" r="6.6" fill="url(#gI)"/>
<circle cx="117.2" cy="103.6" r="6.6" fill="url(#gI)"/>
<circle cx="117.2" cy="188.3" r="6.6" fill="url(#gI)"/>
<circle cx="117.2" cy="273.4" r="6.6" fill="url(#gI)"/>
<circle cx="159.3" cy="61.6" r="6.6" fill="url(#gI)"/>
<circle cx="159.3" cy="146.6" r="6.6" fill="url(#gI)"/>
<circle cx="159.3" cy="232.2" r="6.6" fill="url(#gI)"/>
<circle cx="202" cy="18.5" r="6.6" fill="url(#gI)"/>
<circle cx="202" cy="103.6" r="6.6" fill="url(#gI)"/>
<circle cx="202" cy="188.3" r="6.6" fill="url(#gI)"/>
<circle cx="202" cy="273.4" r="6.6" fill="url(#gI)"/>
<circle cx="245.2" cy="61.6" r="6.6" fill="url(#gI)"/>
<circle cx="245.2" cy="146.6" r="6.6" fill="url(#gI)"/>
<circle cx="245.2" cy="232.2" r="6.6" fill="url(#gI)"/>
<circle cx="289" cy="18.5" r="6.6" fill="url(#gI)"/>
<circle cx="289" cy="103.6" r="6.6" fill="url(#gI)"/>
<circle cx="289" cy="188.3" r="6.6" fill="url(#gI)"/>
<circle cx="289" cy="273.4" r="6.6" fill="url(#gI)"/>
<circle cx="332.6" cy="61.6" r="6.6" fill="url(#gI)"/>
<circle cx="332.6" cy="146.6" r="6.6" fill="url(#gI)"/>
<circle cx="332.6" cy="232.2" r="6.6" fill="url(#gI)"/>
<circle cx="12.3" cy="47.9" r="11" fill="url(#lPb)"/>
<text x="41.3" y="54.8" font-size="22" font-weight="bold" text-anchor="middle">Pb</text>
<circle cx="12.3" cy="77.1" r="11" fill="url(#lI)"/>
<text x="41.3" y="84.5" font-size="22" font-weight="bold" text-anchor="middle">I</text>
<circle cx="12.3" cy="105.1" r="11" fill="url(#lC)"/>
<text x="41.3" y="111.5" font-size="22" font-weight="bold" text-anchor="middle">C</text>
<circle cx="12.3" cy="135.3" r="11" fill="url(#lN)"/>
<text x="41.3" y="142.6" font-size="22" font-weight="bold" text-anchor="middle">N</text>
<circle cx="12.3" cy="166.4" r="11" fill="url(#lH)"/>
<text x="41.3" y="172.8" font-size="22" font-weight="bold" text-anchor="middle">H</text>
<path d="M16.3,276 L16.3,247.5 L19.7,247.5 L19.7,276 Z" fill="#1a1aff"/>
<path d="M11.8,247.8 L18,231.4 L24.2,247.8 Z" fill="#1a1aff"/>
<path d="M23,278.6 L49,278.6 L49,282.6 L23,282.6 Z" fill="#33ee22"/>
<path d="M48.5,274.6 L65.8,280.6 L48.5,286.6 Z" fill="#33ee22"/>
<circle cx="18" cy="280.6" r="5.8" fill="#d8d8d8" stroke="#999" stroke-width="0.6"/>
<circle cx="8.6" cy="283.4" r="6.1" fill="#a81010"/>
<text x="27" y="247.4" font-size="30">z</text>
<text x="68.3" y="286.4" font-size="30">y</text>
<text x="4.2" y="305.9" font-size="30">x</text>
<text x="4.5" y="23" font-size="36">a</text>
<text x="372" y="23.3" font-size="36">b</text>
</g>
<g id="pb">
<path d="M443.6,11 L486.6,54.3 L443.6,95.8 L399,54.3 Z" fill="#6bbcaf" stroke="#80efe6" stroke-width="1"/>
<path d="M399,54.3 L486.6,54.3 M443.6,11 L443.6,95.8" stroke="#72e4d6" stroke-width="1.8"/>
<path d="M443.6,95.8 L486.6,138.5 L443.6,180 L399,138.5 Z" fill="#6bbcaf" stroke="#80efe6" stroke-width="1"/>
<path d="M399,138.5 L486.6,138.5 M443.6,95.8 L443.6,180" stroke="#72e4d6" stroke-width="1.8"/>
<path d="M443.6,180 L486.6,224 L443.6,265 L399,224 Z" fill="#6bbcaf" stroke="#80efe6" stroke-width="1"/>
<path d="M399,224 L486.6,224 M443.6,180 L443.6,265" stroke="#72e4d6" stroke-width="1.8"/>
<path d="M530,11 L573.7,54.3 L530,95.8 L486.6,54.3 Z" fill="#6bbcaf" stroke="#80efe6" stroke-width="1"/>
<path d="M486.6,54.3 L573.7,54.3 M530,11 L530,95.8" stroke="#72e4d6" stroke-width="1.8"/>
<path d="M530,95.8 L573.7,138.5 L530,180 L486.6,138.5 Z" fill="#6bbcaf" stroke="#80efe6" stroke-width="1"/>
<path d="M486.6,138.5 L573.7,138.5 M530,95.8 L530,180" stroke="#72e4d6" stroke-width="1.8"/>
<path d="M530,180 L573.7,224 L530,265 L486.6,224 Z" fill="#6bbcaf" stroke="#80efe6" stroke-width="1"/>
<path d="M486.6,224 L573.7,224 M530,180 L530,265" stroke="#72e4d6" stroke-width="1.8"/>
<path d="M616.9,11 L660.6,54.3 L616.9,95.8 L573.7,54.3 Z" fill="#6bbcaf" stroke="#80efe6" stroke-width="1"/>
<path d="M573.7,54.3 L660.6,54.3 M616.9,11 L616.9,95.8" stroke="#72e4d6" stroke-width="1.8"/>
<path d="M616.9,95.8 L660.6,138.5 L616.9,180 L573.7,138.5 Z" fill="#6bbcaf" stroke="#80efe6" stroke-width="1"/>
<path d="M573.7,138.5 L660.6,138.5 M616.9,95.8 L616.9,180" stroke="#72e4d6" stroke-width="1.8"/>
<path d="M616.9,180 L660.6,224 L616.9,265 L573.7,224 Z" fill="#6bbcaf" stroke="#80efe6" stroke-width="1"/>
<path d="M573.7,224 L660.6,224 M616.9,180 L616.9,265" stroke="#72e4d6" stroke-width="1.8"/>
<circle cx="444" cy="55.8" r="8.6" fill="#5ed07e" opacity="0.9"/>
<circle cx="444" cy="140" r="8.6" fill="#5ed07e" opacity="0.9"/>
<circle cx="444" cy="225.5" r="8.6" fill="#5ed07e" opacity="0.9"/>
<circle cx="530.4" cy="55.8" r="8.6" fill="#5ed07e" opacity="0.9"/>
<circle cx="530.4" cy="140" r="8.6" fill="#5ed07e" opacity="0.9"/>
<circle cx="530.4" cy="225.5" r="8.6" fill="#5ed07e" opacity="0.9"/>
<circle cx="617.3" cy="55.8" r="8.6" fill="#5ed07e" opacity="0.9"/>
<circle cx="617.3" cy="140" r="8.6" fill="#5ed07e" opacity="0.9"/>
<circle cx="617.3" cy="225.5" r="8.6" fill="#5ed07e" opacity="0.9"/>
<circle cx="399" cy="54.3" r="6.4" fill="url(#gI)"/>
<circle cx="399" cy="138.5" r="6.4" fill="url(#gI)"/>
<circle cx="399" cy="224" r="6.4" fill="url(#gI)"/>
<circle cx="443.6" cy="11" r="6.4" fill="url(#gI)"/>
<circle cx="443.6" cy="95.8" r="6.4" fill="url(#gI)"/>
<circle cx="443.6" cy="180" r="6.4" fill="url(#gI)"/>
<circle cx="443.6" cy="265" r="6.4" fill="url(#gI)"/>
<circle cx="486.6" cy="54.3" r="6.4" fill="url(#gI)"/>
<circle cx="486.6" cy="138.5" r="6.4" fill="url(#gI)"/>
<circle cx="486.6" cy="224" r="6.4" fill="url(#gI)"/>
<circle cx="530" cy="11" r="6.4" fill="url(#gI)"/>
<circle cx="530" cy="95.8" r="6.4" fill="url(#gI)"/>
<circle cx="530" cy="180" r="6.4" fill="url(#gI)"/>
<circle cx="530" cy="265" r="6.4" fill="url(#gI)"/>
<circle cx="573.7" cy="54.3" r="6.4" fill="url(#gI)"/>
<circle cx="573.7" cy="138.5" r="6.4" fill="url(#gI)"/>
<circle cx="573.7" cy="224" r="6.4" fill="url(#gI)"/>
<circle cx="616.9" cy="11" r="6.4" fill="url(#gI)"/>
<circle cx="616.9" cy="95.8" r="6.4" fill="url(#gI)"/>
<circle cx="616.9" cy="180" r="6.4" fill="url(#gI)"/>
<circle cx="616.9" cy="265" r="6.4" fill="url(#gI)"/>
<circle cx="660.6" cy="54.3" r="6.4" fill="url(#gI)"/>
<circle cx="660.6" cy="138.5" r="6.4" fill="url(#gI)"/>
<circle cx="660.6" cy="224" r="6.4" fill="url(#gI)"/>
<circle cx="443.6" cy="54.3" r="7.0" fill="url(#gI)"/>
<circle cx="443.6" cy="138.5" r="7.0" fill="url(#gI)"/>
<circle cx="443.6" cy="224" r="7.0" fill="url(#gI)"/>
<circle cx="530" cy="54.3" r="7.0" fill="url(#gI)"/>
<circle cx="530" cy="138.5" r="7.0" fill="url(#gI)"/>
<circle cx="530" cy="224" r="7.0" fill="url(#gI)"/>
<circle cx="616.9" cy="54.3" r="7.0" fill="url(#gI)"/>
<circle cx="616.9" cy="138.5" r="7.0" fill="url(#gI)"/>
<circle cx="616.9" cy="224" r="7.0" fill="url(#gI)"/>
<line x1="470.9" y1="95.7" x2="469.1" y2="82.5" stroke="#b8b890" stroke-width="1.6"/>
<line x1="470.9" y1="95.7" x2="460.4" y2="102.9" stroke="#b8b890" stroke-width="1.6"/>
<line x1="502.2" y1="95.7" x2="503.7" y2="82.5" stroke="#b8b890" stroke-width="1.6"/>
<line x1="502.2" y1="95.7" x2="512.9" y2="102.9" stroke="#b8b890" stroke-width="1.6"/>
<line x1="486.6" y1="103.4" x2="486.6" y2="118.2" stroke="#b8b890" stroke-width="1.6"/>
<path d="M470.9,95.7 L486.6,103.4 L502.2,95.7" fill="none" stroke="#1c2c7c" stroke-width="2.2"/>
<circle cx="469.1" cy="82.5" r="2.6" fill="url(#gH)"/>
<circle cx="460.4" cy="102.9" r="2.6" fill="url(#gH)"/>
<circle cx="503.7" cy="82.5" r="2.6" fill="url(#gH)"/>
<circle cx="512.9" cy="102.9" r="2.6" fill="url(#gH)"/>
<circle cx="486.6" cy="118.2" r="2.6" fill="url(#gH)"/>
<circle cx="470.9" cy="95.7" r="3.6" fill="url(#gN)"/>
<circle cx="502.2" cy="95.7" r="3.6" fill="url(#gN)"/>
<circle cx="486.6" cy="103.4" r="3.7" fill="url(#gC)"/>
<line x1="470.9" y1="179.4" x2="469.1" y2="166.2" stroke="#b8b890" stroke-width="1.6"/>
<line x1="470.9" y1="179.4" x2="460.4" y2="186.6" stroke="#b8b890" stroke-width="1.6"/>
<line x1="502.2" y1="179.4" x2="503.7" y2="166.2" stroke="#b8b890" stroke-width="1.6"/>
<line x1="502.2" y1="179.4" x2="512.9" y2="186.6" stroke="#b8b890" stroke-width="1.6"/>
<line x1="486.6" y1="187.1" x2="486.6" y2="201.9" stroke="#b8b890" stroke-width="1.6"/>
<path d="M470.9,179.4 L486.6,187.1 L502.2,179.4" fill="none" stroke="#1c2c7c" stroke-width="2.2"/>
<circle cx="469.1" cy="166.2" r="2.6" fill="url(#gH)"/>
<circle cx="460.4" cy="186.6" r="2.6" fill="url(#gH)"/>
<circle cx="503.7" cy="166.2" r="2.6" fill="url(#gH)"/>
<circle cx="512.9" cy="186.6" r="2.6" fill="url(#gH)"/>
<circle cx="486.6" cy="201.9" r="2.6" fill="url(#gH)"/>
<circle cx="470.9" cy="179.4" r="3.6" fill="url(#gN)"/>
<circle cx="502.2" cy="179.4" r="3.6" fill="url(#gN)"/>
<circle cx="486.6" cy="187.1" r="3.7" fill="url(#gC)"/>
<line x1="558" y1="95.7" x2="556.2" y2="82.5" stroke="#b8b890" stroke-width="1.6"/>
<line x1="558" y1="95.7" x2="547.5" y2="102.9" stroke="#b8b890" stroke-width="1.6"/>
<line x1="589.3" y1="95.7" x2="590.8" y2="82.5" stroke="#b8b890" stroke-width="1.6"/>
<line x1="589.3" y1="95.7" x2="600" y2="102.9" stroke="#b8b890" stroke-width="1.6"/>
<line x1="573.7" y1="103.4" x2="573.7" y2="118.2" stroke="#b8b890" stroke-width="1.6"/>
<path d="M558,95.7 L573.7,103.4 L589.3,95.7" fill="none" stroke="#1c2c7c" stroke-width="2.2"/>
<circle cx="556.2" cy="82.5" r="2.6" fill="url(#gH)"/>
<circle cx="547.5" cy="102.9" r="2.6" fill="url(#gH)"/>
<circle cx="590.8" cy="82.5" r="2.6" fill="url(#gH)"/>
<circle cx="600" cy="102.9" r="2.6" fill="url(#gH)"/>
<circle cx="573.7" cy="118.2" r="2.6" fill="url(#gH)"/>
<circle cx="558" cy="95.7" r="3.6" fill="url(#gN)"/>
<circle cx="589.3" cy="95.7" r="3.6" fill="url(#gN)"/>
<circle cx="573.7" cy="103.4" r="3.7" fill="url(#gC)"/>
<line x1="558" y1="179.4" x2="556.2" y2="166.2" stroke="#b8b890" stroke-width="1.6"/>
<line x1="558" y1="179.4" x2="547.5" y2="186.6" stroke="#b8b890" stroke-width="1.6"/>
<line x1="589.3" y1="179.4" x2="590.8" y2="166.2" stroke="#b8b890" stroke-width="1.6"/>
<line x1="589.3" y1="179.4" x2="600" y2="186.6" stroke="#b8b890" stroke-width="1.6"/>
<line x1="573.7" y1="187.1" x2="573.7" y2="201.9" stroke="#b8b890" stroke-width="1.6"/>
<path d="M558,179.4 L573.7,187.1 L589.3,179.4" fill="none" stroke="#1c2c7c" stroke-width="2.2"/>
<circle cx="556.2" cy="166.2" r="2.6" fill="url(#gH)"/>
<circle cx="547.5" cy="186.6" r="2.6" fill="url(#gH)"/>
<circle cx="590.8" cy="166.2" r="2.6" fill="url(#gH)"/>
<circle cx="600" cy="186.6" r="2.6" fill="url(#gH)"/>
<circle cx="573.7" cy="201.9" r="2.6" fill="url(#gH)"/>
<circle cx="558" cy="179.4" r="3.6" fill="url(#gN)"/>
<circle cx="589.3" cy="179.4" r="3.6" fill="url(#gN)"/>
<circle cx="573.7" cy="187.1" r="3.7" fill="url(#gC)"/>
</g>
<g id="pc">
<defs><clipPath id="clipc"><rect x="67.6" y="354.2" width="331.6" height="326.8"/></clipPath></defs>
<g clip-path="url(#clipc)">
<path d="M104.44,354.2 V681 M141.29,354.2 V681 M178.13,354.2 V681 M214.98,354.2 V681 M251.82,354.2 V681 M288.67,354.2 V681 M325.51,354.2 V681 M362.36,354.2 V681" stroke="#d23ef0" stroke-width="1.6" stroke-dasharray="6,3.5"/>
<path d="M67.6,662.02C70.67,662.33 79.88,663.19 86.02,663.88C92.16,664.56 98.3,667.66 104.44,666.11C110.59,664.56 117.95,658.61 122.87,654.58C127.78,650.55 130.85,644.66 133.92,641.93C136.99,639.2 138.83,638.21 141.29,638.21C143.75,638.21 145.59,639.2 148.66,641.93C151.73,644.66 154.8,650.73 159.71,654.58C164.62,658.42 171.99,663.57 178.13,664.99C184.27,666.42 190.41,663.63 196.56,663.13C202.7,662.64 208.84,661.46 214.98,662.02C221.12,662.57 227.26,665.12 233.4,666.48C239.54,667.84 242.61,670.51 251.82,670.2C261.03,669.89 279.46,666.98 288.67,664.62C297.88,662.26 300.95,659.23 307.09,656.06C313.23,652.9 319.37,644.72 325.51,645.65C331.65,646.58 337.79,656.81 343.93,661.64C350.07,666.48 356.21,672.8 362.36,674.66C368.5,676.52 374.64,673.55 380.78,672.8C386.92,672.06 396.13,670.63 399.2,670.2" fill="none" stroke="#1f1ff0" stroke-width="2.6" stroke-dasharray="8,4" stroke-linecap="butt"/>
<path d="M67.6,642.3C73.74,642.61 92.16,643.54 104.44,644.16C116.73,644.78 129.01,645.9 141.29,646.02C153.57,646.14 165.85,645.52 178.13,644.9C190.41,644.28 205.77,646.14 214.98,642.3C224.19,638.46 227.26,627.92 233.4,621.84C239.54,615.76 242.61,610.56 251.82,605.84C261.03,601.13 279.46,596.79 288.67,593.57C297.88,590.34 300.95,589.1 307.09,586.5C313.23,583.9 319.37,578.25 325.51,577.94C331.65,577.63 337.79,583.03 343.93,584.64C350.07,586.25 356.21,586.07 362.36,587.62C368.5,589.17 374.64,591.21 380.78,593.94C386.92,596.67 396.13,602.31 399.2,603.98" fill="none" stroke="#1f1ff0" stroke-width="2.6" stroke-dasharray="8,4" stroke-linecap="butt"/>
<path d="M67.6,540C68.52,542.17 70.06,548.18 73.13,553.02C76.2,557.86 80.8,565.48 86.02,569.02C91.24,572.55 95.23,573.79 104.44,574.22C113.66,574.66 133,573.48 141.29,571.62C149.58,569.76 150.5,567.09 154.18,563.06C157.87,559.03 160.94,552.52 163.4,547.44C165.85,542.36 167.08,537.21 168.92,532.56C170.76,527.91 171.69,522.76 174.45,519.54C177.21,516.32 183.66,514.27 185.5,513.22" fill="none" stroke="#1f1ff0" stroke-width="2.6" stroke-dasharray="8,4" stroke-linecap="butt"/>
<path d="M214.98,540C216.82,542.79 222.35,551.9 226.03,556.74C229.72,561.58 232.79,566.54 237.08,569.02C241.38,571.5 247.52,572.61 251.82,571.62C256.12,570.63 259.81,567.4 262.88,563.06C265.95,558.72 268.28,551.59 270.24,545.58C272.21,539.57 272.82,532.56 274.67,526.98C276.51,521.4 278.96,515.82 281.3,512.1C283.63,508.38 287.44,505.9 288.67,504.66" fill="none" stroke="#1f1ff0" stroke-width="2.6" stroke-dasharray="8,4" stroke-linecap="butt"/>
<path d="M308.93,512.1C310.47,515.51 315.38,526.98 318.14,532.56C320.91,538.14 323.05,545.58 325.51,545.58C327.97,545.58 330.42,537.83 332.88,532.56C335.34,527.29 339.02,517.06 340.25,513.96" fill="none" stroke="#1f1ff0" stroke-width="2.6" stroke-dasharray="8,4" stroke-linecap="butt"/>
<path d="M305.25,502.8C307.09,507.76 312.92,524.62 316.3,532.56C319.68,540.5 322.75,549.49 325.51,550.42C328.27,551.35 330.73,542.98 332.88,538.14C335.03,533.3 336.56,526.98 338.41,521.4C340.25,515.82 343.01,507.45 343.93,504.66" fill="none" stroke="#1f1ff0" stroke-width="2.6" stroke-dasharray="8,4" stroke-linecap="butt"/>
<path d="M334.72,523.26C335.64,527.29 338.1,540.19 340.25,547.44C342.4,554.69 343.93,562.75 347.62,566.78C351.3,570.81 353.76,570.81 362.36,571.62C370.95,572.43 393.06,571.62 399.2,571.62" fill="none" stroke="#1f1ff0" stroke-width="2.6" stroke-dasharray="8,4" stroke-linecap="butt"/>
<path d="M67.6,540C73.74,537.64 92.16,528.84 104.44,525.86C116.73,522.89 129.01,521.52 141.29,522.14C153.57,522.76 165.85,526.73 178.13,529.58C190.41,532.44 208.84,537.64 214.98,539.26" fill="none" stroke="#1f1ff0" stroke-width="2.6" stroke-dasharray="8,4" stroke-linecap="butt"/>
<path d="M67.6,538.14C70.67,537.21 79.88,534.23 86.02,532.56C92.16,530.89 98.3,529.46 104.44,528.1C110.59,526.73 116.73,525.49 122.87,524.38C129.01,523.26 138.22,521.9 141.29,521.4" fill="none" stroke="#1f1ff0" stroke-width="2.6" stroke-dasharray="8,4" stroke-linecap="butt"/>
<path d="M67.6,442.16C69.44,439.87 74.97,433.17 78.65,428.4C82.34,423.63 85.41,417.24 89.71,413.52C94.01,409.8 95.85,406.33 104.44,406.08C113.04,405.83 132.08,409.92 141.29,412.03C150.5,414.14 153.57,416.37 159.71,418.73C165.85,421.08 171.99,424.56 178.13,426.17C184.27,427.78 190.41,427.72 196.56,428.4C202.7,429.08 208.84,430.88 214.98,430.26C221.12,429.64 227.26,426.29 233.4,424.68C239.54,423.07 245.68,422.14 251.82,420.59C257.96,419.04 264.1,416.62 270.24,415.38C276.39,414.14 279.46,413.4 288.67,413.15C297.88,412.9 316.3,412.59 325.51,413.89C334.72,415.19 337.79,418.79 343.93,420.96C350.07,423.13 353.14,424.06 362.36,426.91C371.57,429.76 393.06,436.21 399.2,438.07" fill="none" stroke="#1f1ff0" stroke-width="2.6" stroke-dasharray="8,4" stroke-linecap="butt"/>
<path d="M67.6,441.42C70.67,440.18 79.88,436.34 86.02,433.98C92.16,431.62 95.23,427.47 104.44,427.28C113.66,427.1 129.01,430.2 141.29,432.86C153.57,435.53 165.85,441.73 178.13,443.28C190.41,444.83 202.7,441.23 214.98,442.16C227.26,443.09 239.54,448.05 251.82,448.86C264.1,449.67 276.39,447.93 288.67,447C300.95,446.07 313.23,442.66 325.51,443.28C337.79,443.9 350.07,449.79 362.36,450.72C374.64,451.65 393.06,449.17 399.2,448.86" fill="none" stroke="#1f1ff0" stroke-width="2.6" stroke-dasharray="8,4" stroke-linecap="butt"/>
<path d="M67.6,459.65C73.74,459.52 92.16,458.53 104.44,458.9C116.73,459.28 129.01,461.76 141.29,461.88C153.57,462 165.85,460.27 178.13,459.65C190.41,459.03 202.7,457.91 214.98,458.16C227.26,458.41 239.54,460.21 251.82,461.14C264.1,462.07 276.39,463.93 288.67,463.74C300.95,463.55 313.23,460.95 325.51,460.02C337.79,459.09 350.07,457.73 362.36,458.16C374.64,458.59 393.06,461.88 399.2,462.62" fill="none" stroke="#1f1ff0" stroke-width="2.6" stroke-dasharray="8,4" stroke-linecap="butt"/>
<path d="M67.6,490.52C73.74,490.52 92.16,491.27 104.44,490.52C116.73,489.78 129.01,485.87 141.29,486.06C153.57,486.25 165.85,491.02 178.13,491.64C190.41,492.26 202.7,489.47 214.98,489.78C227.26,490.09 239.54,492.88 251.82,493.5C264.1,494.12 276.39,493.19 288.67,493.5C300.95,493.81 313.23,494.43 325.51,495.36C337.79,496.29 350.07,498.77 362.36,499.08C374.64,499.39 393.06,497.53 399.2,497.22" fill="none" stroke="#1f1ff0" stroke-width="2.6" stroke-dasharray="8,4" stroke-linecap="butt"/>
<path d="M67.6,516.19C73.74,515.2 92.16,511.29 104.44,510.24C116.73,509.19 129.01,509.12 141.29,509.87C153.57,510.61 165.85,514.15 178.13,514.7C190.41,515.26 202.7,513.65 214.98,513.22C227.26,512.78 239.54,511.36 251.82,512.1C264.1,512.84 276.39,517.37 288.67,517.68C300.95,517.99 313.23,514.02 325.51,513.96C337.79,513.9 350.07,517.31 362.36,517.31C374.64,517.31 393.06,514.52 399.2,513.96" fill="none" stroke="#1f1ff0" stroke-width="2.6" stroke-dasharray="8,4" stroke-linecap="butt"/>
<path d="M67.6,480.48C73.74,480.79 92.16,483.89 104.44,482.34C116.73,480.79 129.01,471.49 141.29,471.18C153.57,470.87 165.85,478.81 178.13,480.48C190.41,482.15 202.7,481.22 214.98,481.22C227.26,481.22 239.54,480.91 251.82,480.48C264.1,480.05 276.39,478.31 288.67,478.62C300.95,478.93 313.23,482.65 325.51,482.34C337.79,482.03 350.07,477.07 362.36,476.76C374.64,476.45 393.06,479.86 399.2,480.48" fill="none" stroke="#1f1ff0" stroke-width="2.6" stroke-dasharray="8,4" stroke-linecap="butt"/>
<path d="M67.6,356.23C70.67,356.79 79.88,358.53 86.02,359.58C92.16,360.63 98.3,362.25 104.44,362.56C110.59,362.87 116.73,361.87 122.87,361.44C129.01,361.01 132.08,360.7 141.29,359.95C150.5,359.21 165.85,357.66 178.13,356.98C190.41,356.29 202.7,356.17 214.98,355.86C227.26,355.55 239.54,354.87 251.82,355.12C264.1,355.36 276.39,357.29 288.67,357.35C300.95,357.41 313.23,355.92 325.51,355.49C337.79,355.05 350.07,354.93 362.36,354.74C374.64,354.56 393.06,354.43 399.2,354.37" fill="none" stroke="#d82034" stroke-width="2.2" stroke-linecap="butt"/>
<path d="M67.6,358.84C70.67,358.96 79.88,359.33 86.02,359.58C92.16,359.83 95.23,360.39 104.44,360.32C113.66,360.26 129.01,359.64 141.29,359.21C153.57,358.77 165.85,358.15 178.13,357.72C190.41,357.29 202.7,357.16 214.98,356.6C227.26,356.05 239.54,354.5 251.82,354.37C264.1,354.25 276.39,356.05 288.67,355.86C300.95,355.67 319.37,353.69 325.51,353.26" fill="none" stroke="#e04814" stroke-width="2.2" stroke-linecap="butt"/>
<path d="M74.97,350.28C77.43,351.09 84.79,354.12 89.71,355.12C94.62,356.11 99.53,356.23 104.44,356.23C109.36,356.23 114.27,356.11 119.18,355.12C124.09,354.12 131.46,351.09 133.92,350.28" fill="none" stroke="#4cf020" stroke-width="2.2" stroke-linecap="butt"/>
<path d="M67.6,375.95C70.67,375.27 79.88,372.79 86.02,371.86C92.16,370.93 98.3,369.75 104.44,370.37C110.59,370.99 116.73,373.72 122.87,375.58C129.01,377.44 135.15,381.59 141.29,381.53C147.43,381.47 153.57,375.7 159.71,375.2C165.85,374.71 171.99,378.24 178.13,378.55C184.27,378.86 190.41,377.44 196.56,377.06C202.7,376.69 209.45,378.43 214.98,376.32C220.5,374.21 224.8,369.07 229.72,364.42C234.63,359.77 242,351.09 244.45,348.42" fill="none" stroke="#7414c4" stroke-width="2.2" stroke-linecap="butt"/>
<path d="M292.35,348.42C294.81,349.97 301.56,354.93 307.09,357.72C312.62,360.51 319.37,365.16 325.51,365.16C331.65,365.16 338.41,360.51 343.93,357.72C349.46,354.93 356.21,349.97 358.67,348.42" fill="none" stroke="#7414c4" stroke-width="2.2" stroke-linecap="butt"/>
<path d="M67.6,400.87C73.74,400.31 92.16,397.83 104.44,397.52C116.73,397.21 129.01,398.45 141.29,399.01C153.57,399.57 168.31,400.44 178.13,400.87C187.96,401.31 194.1,401.37 200.24,401.62C206.38,401.86 209.45,403.6 214.98,402.36C220.5,401.12 227.26,396.41 233.4,394.18C239.54,391.94 242.61,389.22 251.82,388.97C261.03,388.72 279.46,392.63 288.67,392.69C297.88,392.75 300.95,390.7 307.09,389.34C313.23,387.98 316.3,385.81 325.51,384.5C334.72,383.2 350.07,380.97 362.36,381.53C374.64,382.09 393.06,386.8 399.2,387.85" fill="none" stroke="#7414c4" stroke-width="2.2" stroke-linecap="butt"/>
<path d="M67.6,387.48C73.74,387.73 92.16,388.53 104.44,388.97C116.73,389.4 129.01,390.21 141.29,390.08C153.57,389.96 165.85,388.78 178.13,388.22C190.41,387.67 202.7,387.42 214.98,386.74C227.26,386.05 239.54,384.44 251.82,384.13C264.1,383.82 279.46,385.56 288.67,384.88C297.88,384.19 300.95,381.78 307.09,380.04C313.23,378.3 316.3,375.08 325.51,374.46C334.72,373.84 350.07,374.65 362.36,376.32C374.64,377.99 393.06,383.14 399.2,384.5" fill="none" stroke="#d82034" stroke-width="2.2" stroke-linecap="butt"/>
<path d="M67.6,383.02C73.74,383.26 92.16,384.07 104.44,384.5C116.73,384.94 129.01,385.62 141.29,385.62C153.57,385.62 165.85,385.12 178.13,384.5C190.41,383.88 202.7,382.64 214.98,381.9C227.26,381.16 239.54,380.6 251.82,380.04C264.1,379.48 279.46,379.3 288.67,378.55C297.88,377.81 300.95,376.44 307.09,375.58C313.23,374.71 316.3,373.47 325.51,373.34C334.72,373.22 350.07,373.59 362.36,374.83C374.64,376.07 393.06,379.79 399.2,380.78" fill="none" stroke="#e04814" stroke-width="2.2" stroke-linecap="butt"/>
<path d="M67.6,377.44C73.74,377.68 92.16,378.49 104.44,378.92C116.73,379.36 129.01,380.16 141.29,380.04C153.57,379.92 165.85,378.68 178.13,378.18C190.41,377.68 202.7,377.44 214.98,377.06C227.26,376.69 239.54,376.38 251.82,375.95C264.1,375.51 279.46,375.33 288.67,374.46C297.88,373.59 300.95,371.86 307.09,370.74C313.23,369.62 316.3,367.89 325.51,367.76C334.72,367.64 350.07,368.69 362.36,370C374.64,371.3 393.06,374.65 399.2,375.58" fill="none" stroke="#6c9c20" stroke-width="2.2" stroke-linecap="butt"/>
<path d="M67.6,376.32C73.74,376.57 92.16,377.31 104.44,377.81C116.73,378.3 129.01,379.42 141.29,379.3C153.57,379.17 165.85,377.62 178.13,377.06C190.41,376.51 202.7,376.82 214.98,375.95C227.26,375.08 239.54,373.65 251.82,371.86C264.1,370.06 276.39,367.02 288.67,365.16C300.95,363.3 313.23,360.82 325.51,360.7C337.79,360.57 350.07,362.56 362.36,364.42C374.64,366.28 393.06,370.62 399.2,371.86" fill="none" stroke="#4cf020" stroke-width="2.2" stroke-linecap="butt"/>
<path d="M67.6,427.98C70.67,427.69 79.88,427.57 86.02,426.25C92.16,424.93 95.23,420.87 104.44,420.06C113.66,419.25 132.08,420.63 141.29,421.4C150.5,422.16 153.57,423.86 159.71,424.66C165.85,425.46 168.92,425.68 178.13,426.19C187.34,426.7 202.7,427.77 214.98,427.71C227.26,427.64 239.54,427.41 251.82,425.8C264.1,424.19 276.39,419.7 288.67,418.05C300.95,416.39 316.3,415.07 325.51,415.86C334.72,416.65 337.79,420.97 343.93,422.79C350.07,424.62 353.14,426.16 362.36,426.8C371.57,427.44 393.06,426.66 399.2,426.63" fill="none" stroke="#7414c4" stroke-width="2.2" stroke-linecap="butt"/>
<path d="M67.6,433.55C73.74,432.5 92.16,428.5 104.44,427.24C116.73,425.97 129.01,425 141.29,425.96C153.57,426.92 165.85,431.89 178.13,432.99C190.41,434.09 205.77,431.72 214.98,432.56C224.19,433.4 227.26,436.78 233.4,438.06C239.54,439.34 242.61,440.39 251.82,440.26C261.03,440.13 276.39,438.43 288.67,437.27C300.95,436.12 313.23,432.94 325.51,433.32C337.79,433.7 350.07,438.21 362.36,439.55C374.64,440.89 393.06,441.07 399.2,441.37" fill="none" stroke="#7414c4" stroke-width="2.2" stroke-linecap="butt"/>
<path d="M67.6,446.19C73.74,446.41 92.16,446.19 104.44,447.51C116.73,448.83 129.01,453.97 141.29,454.11C153.57,454.25 165.85,449.43 178.13,448.34C190.41,447.25 202.7,447.54 214.98,447.56C227.26,447.57 239.54,448.71 251.82,448.44C264.1,448.18 276.39,447.58 288.67,445.96C300.95,444.35 313.23,438.75 325.51,438.77C337.79,438.79 350.07,444.27 362.36,446.06C374.64,447.84 393.06,448.93 399.2,449.5" fill="none" stroke="#7414c4" stroke-width="2.2" stroke-linecap="butt"/>
<path d="M67.6,451.7C73.74,451.99 92.16,453.48 104.44,453.46C116.73,453.44 129.01,451.92 141.29,451.58C153.57,451.25 165.85,450.97 178.13,451.45C190.41,451.93 202.7,453.79 214.98,454.44C227.26,455.09 239.54,455.23 251.82,455.34C264.1,455.46 276.39,455.83 288.67,455.14C300.95,454.44 313.23,451.09 325.51,451.16C337.79,451.23 350.07,454.71 362.36,455.57C374.64,456.42 393.06,456.19 399.2,456.31" fill="none" stroke="#7414c4" stroke-width="2.2" stroke-linecap="butt"/>
<path d="M67.6,454.13C73.74,454.44 92.16,455.57 104.44,456C116.73,456.44 129.01,456.05 141.29,456.74C153.57,457.42 165.85,460.72 178.13,460.12C190.41,459.51 202.7,453.55 214.98,453.13C227.26,452.71 239.54,456.18 251.82,457.58C264.1,458.99 276.39,461.61 288.67,461.57C300.95,461.53 313.23,458.42 325.51,457.35C337.79,456.28 350.07,454.38 362.36,455.14C374.64,455.89 393.06,460.75 399.2,461.87" fill="none" stroke="#7414c4" stroke-width="2.2" stroke-linecap="butt"/>
<path d="M67.6,467.79C73.74,469.19 92.16,474.42 104.44,476.2C116.73,477.98 129.01,479.05 141.29,478.46C153.57,477.86 165.85,474.56 178.13,472.65C190.41,470.75 202.7,467.43 214.98,467.04C227.26,466.65 239.54,469.8 251.82,470.3C264.1,470.79 276.39,470.65 288.67,469.99C300.95,469.34 313.23,466.74 325.51,466.37C337.79,466 350.07,466.47 362.36,467.79C374.64,469.11 393.06,473.2 399.2,474.28" fill="none" stroke="#7414c4" stroke-width="2.2" stroke-linecap="butt"/>
<path d="M237.08,493.03C239.54,492.67 243.23,491.56 251.82,490.83C260.42,490.1 276.39,488.97 288.67,488.66C300.95,488.35 313.23,489.08 325.51,488.97C337.79,488.85 350.07,488.4 362.36,487.97C374.64,487.54 393.06,486.66 399.2,486.4" fill="none" stroke="#7414c4" stroke-width="2.2" stroke-linecap="butt"/>
<path d="M67.6,496.03C73.74,495.91 92.16,494.85 104.44,495.31C116.73,495.78 129.01,498.33 141.29,498.83C153.57,499.32 165.85,498.59 178.13,498.29C190.41,497.98 202.7,497.68 214.98,497C227.26,496.32 239.54,493.36 251.82,494.2C264.1,495.04 276.39,501.98 288.67,502.03C300.95,502.07 313.23,495.32 325.51,494.46C337.79,493.6 350.07,495.6 362.36,496.87C374.64,498.15 393.06,501.22 399.2,502.09" fill="none" stroke="#7414c4" stroke-width="2.2" stroke-linecap="butt"/>
<path d="M67.6,504.76C73.74,504.7 92.16,504.47 104.44,504.39C116.73,504.31 129.01,504.43 141.29,504.28C153.57,504.13 165.85,503.09 178.13,503.5C190.41,503.9 202.7,505.32 214.98,506.7C227.26,508.07 239.54,511.88 251.82,511.76C264.1,511.63 276.39,507.7 288.67,505.95C300.95,504.2 313.23,500.89 325.51,501.27C337.79,501.64 350.07,507.11 362.36,508.21C374.64,509.3 393.06,507.89 399.2,507.82" fill="none" stroke="#7414c4" stroke-width="2.2" stroke-linecap="butt"/>
<path d="M229.72,506.25C233.4,505.94 242,503.74 251.82,504.36C261.65,504.99 279.46,507.69 288.67,510.02C297.88,512.34 300.95,515.62 307.09,518.3C313.23,520.98 319.37,525.41 325.51,526.11C331.65,526.81 337.79,524.42 343.93,522.51C350.07,520.6 353.14,517.26 362.36,514.65C371.57,512.04 393.06,508.15 399.2,506.85" fill="none" stroke="#7414c4" stroke-width="2.2" stroke-linecap="butt"/>
<path d="M67.6,492.34C73.74,492.94 92.16,495.4 104.44,495.97C116.73,496.54 129.01,495.51 141.29,495.78C153.57,496.05 165.85,497.96 178.13,497.57C190.41,497.19 202.7,493.8 214.98,493.45C227.26,493.11 239.54,494.74 251.82,495.51C264.1,496.28 276.39,498.43 288.67,498.09C300.95,497.75 313.23,494.14 325.51,493.49C337.79,492.84 350.07,492.59 362.36,494.2C374.64,495.81 393.06,501.67 399.2,503.16" fill="none" stroke="#7414c4" stroke-width="2.2" stroke-linecap="butt"/>
<path d="M67.6,501.46C73.74,501.67 92.16,503.3 104.44,502.72C116.73,502.13 129.01,498.3 141.29,497.93C153.57,497.57 165.85,499.66 178.13,500.51C190.41,501.35 202.7,502.59 214.98,503.02C227.26,503.44 239.54,503.35 251.82,503.06C264.1,502.77 276.39,501.91 288.67,501.27C300.95,500.62 313.23,498.83 325.51,499.2C337.79,499.58 350.07,502.25 362.36,503.5C374.64,504.75 393.06,506.19 399.2,506.72" fill="none" stroke="#7414c4" stroke-width="2.2" stroke-linecap="butt"/>
<path d="M67.6,544.55C70.67,542.15 79.88,534.36 86.02,530.12C92.16,525.88 95.23,521.74 104.44,519.12C113.66,516.5 132.08,515.04 141.29,514.42C150.5,513.8 153.57,514.9 159.71,515.42C165.85,515.95 171.99,515.54 178.13,517.59C184.27,519.63 190.41,523.37 196.56,527.68C202.7,531.98 211.91,540.79 214.98,543.41" fill="none" stroke="#7414c4" stroke-width="2.2" stroke-linecap="butt"/>
<path d="M67.6,541.62C70.06,538.14 76.2,526.04 82.34,520.74C88.48,515.44 94.62,511.52 104.44,509.79C114.27,508.07 129.01,510.8 141.29,510.37C153.57,509.94 168.31,505.24 178.13,507.22C187.96,509.2 194.1,516.46 200.24,522.25C206.38,528.04 212.52,538.68 214.98,541.96" fill="none" stroke="#7414c4" stroke-width="2.2" stroke-linecap="butt"/>
<path d="M214.98,545.11C218.05,541.7 227.26,529 233.4,524.68C239.54,520.37 242.61,520.82 251.82,519.21C261.03,517.61 279.46,515.18 288.67,515.04C297.88,514.9 300.95,517.27 307.09,518.38C313.23,519.49 316.3,521.54 325.51,521.69C334.72,521.83 350.07,520.97 362.36,519.24C374.64,517.51 393.06,512.62 399.2,511.3" fill="none" stroke="#7414c4" stroke-width="2.2" stroke-linecap="butt"/>
<path d="M214.98,540.95C217.43,535.33 223.57,513.33 229.72,507.22C235.86,501.1 245.07,505.19 251.82,504.26C258.58,503.32 264.1,502.16 270.24,501.6C276.39,501.04 285.6,501.04 288.67,500.93" fill="none" stroke="#7414c4" stroke-width="2.2" stroke-linecap="butt"/>
<path d="M67.6,541.28C69.44,536.48 74.97,521.24 78.65,512.5C82.34,503.75 85.41,494.11 89.71,488.79C94.01,483.47 98.92,482.69 104.44,480.59C109.97,478.49 116.73,476.78 122.87,476.18C129.01,475.58 138.22,476.85 141.29,476.98" fill="none" stroke="#7414c4" stroke-width="2.2" stroke-linecap="butt"/>
<path d="M78.65,505.06C81.72,500.78 91.55,486.92 97.08,479.42C102.6,471.92 106.9,465.58 111.81,460.05C116.73,454.53 121.64,449.79 126.55,446.28C131.46,442.78 135.76,439.51 141.29,439.04C146.82,438.56 153.57,441.45 159.71,443.46C165.85,445.47 175.06,449.83 178.13,451.1" fill="none" stroke="#7414c4" stroke-width="2.2" stroke-linecap="butt"/>
<path d="M89.71,451.59C93.39,450.39 105.67,446.74 111.81,444.43C117.95,442.12 121.64,439.12 126.55,437.73C131.46,436.33 136.38,435.59 141.29,436.06C146.2,436.53 151.11,438.6 156.03,440.53C160.94,442.46 168.31,446.44 170.76,447.63" fill="none" stroke="#7414c4" stroke-width="2.2" stroke-linecap="butt"/>
<path d="M122.87,452C125.94,451.02 135.76,445.54 141.29,446.1C146.82,446.67 151.11,449.57 156.03,455.41C160.94,461.24 165.85,474.08 170.76,481.11C175.68,488.13 180.59,491.38 185.5,497.57C190.41,503.75 195.33,510.86 200.24,518.22C205.15,525.57 212.52,537.79 214.98,541.7" fill="none" stroke="#7414c4" stroke-width="2.2" stroke-linecap="butt"/>
<path d="M148.66,470.31C151.11,473.07 158.48,482.17 163.4,486.91C168.31,491.64 173.22,495.7 178.13,498.72C183.05,501.74 190.41,503.96 192.87,505.01" fill="none" stroke="#7414c4" stroke-width="2.2" stroke-linecap="butt"/>
<path d="M111.81,500.97C114.88,498.35 124.09,490.67 130.24,485.25C136.38,479.82 142.52,472.84 148.66,468.45C154.8,464.06 164.01,460.5 167.08,458.91" fill="none" stroke="#7414c4" stroke-width="2.2" stroke-linecap="butt"/>
<path d="M214.98,541.7C216.82,536.89 222.65,521.92 226.03,512.82C229.41,503.72 232.17,494.21 235.24,487.1C238.31,479.99 240.46,475.34 244.45,470.16C248.44,464.99 256.73,458.41 259.19,456.06" fill="none" stroke="#7414c4" stroke-width="2.2" stroke-linecap="butt"/>
<path d="M214.98,448.7C217.43,451.98 224.8,462 229.72,468.36C234.63,474.73 239.54,482.75 244.45,486.9C249.37,491.05 256.73,492.2 259.19,493.26" fill="none" stroke="#7414c4" stroke-width="2.2" stroke-linecap="butt"/>
<path d="M262.88,504.12C264.72,500.28 269.63,488.67 273.93,481.08C278.23,473.49 284.37,464.45 288.67,458.56C292.97,452.68 297.88,447.91 299.72,445.78" fill="none" stroke="#7414c4" stroke-width="2.2" stroke-linecap="butt"/>
<path d="M270.24,451.51C273.31,450.21 282.53,446.16 288.67,443.68C294.81,441.2 300.95,440.29 307.09,436.63C313.23,432.98 320.6,425.17 325.51,421.76C330.42,418.34 334.72,417.08 336.56,416.15" fill="none" stroke="#7414c4" stroke-width="2.2" stroke-linecap="butt"/>
<path d="M329.2,470.09C331.65,473.83 338.41,485.53 343.93,492.56C349.46,499.58 356.21,508.5 362.36,512.23C368.5,515.95 377.71,514.47 380.78,514.92" fill="none" stroke="#7414c4" stroke-width="2.2" stroke-linecap="butt"/>
<path d="M310.77,451.56C313.23,455.27 320.6,468.26 325.51,473.84C330.42,479.42 334.11,482.96 340.25,485.02C346.39,487.08 358.67,485.99 362.36,486.19" fill="none" stroke="#7414c4" stroke-width="2.2" stroke-linecap="butt"/>
<path d="M373.41,520.33C375.87,515.99 383.85,500.63 388.15,494.31C392.45,487.99 397.36,484.37 399.2,482.39" fill="none" stroke="#7414c4" stroke-width="2.2" stroke-linecap="butt"/>
<path d="M67.6,483.62C70.67,483.54 79.88,483.63 86.02,483.13C92.16,482.62 98.3,480.82 104.44,480.59C110.59,480.36 116.73,481 122.87,481.76C129.01,482.52 135.15,484.91 141.29,485.16C147.43,485.41 153.57,483.98 159.71,483.26C165.85,482.54 171.99,480.65 178.13,480.86C184.27,481.08 190.41,483.41 196.56,484.56C202.7,485.71 211.91,487.23 214.98,487.76" fill="none" stroke="#7414c4" stroke-width="2.2" stroke-linecap="butt"/>
<path d="M67.6,438.98C70.67,438.9 79.88,439.24 86.02,438.49C92.16,437.73 98.3,435 104.44,434.46C110.59,433.92 116.73,435.8 122.87,435.26C129.01,434.72 135.15,431.28 141.29,431.22C147.43,431.16 153.57,433.76 159.71,434.9C165.85,436.04 171.99,437.87 178.13,438.08C184.27,438.3 190.41,436.6 196.56,436.2C202.7,435.8 211.91,435.77 214.98,435.68" fill="none" stroke="#7414c4" stroke-width="2.2" stroke-linecap="butt"/>
<path d="M214.98,437.54C221.12,437.32 242.61,436.99 251.82,436.21C261.03,435.44 264.1,434.15 270.24,432.91C276.39,431.68 282.53,429.73 288.67,428.8C294.81,427.87 300.95,427.89 307.09,427.33C313.23,426.78 316.3,424.66 325.51,425.48C334.72,426.3 350.07,430.82 362.36,432.25C374.64,433.67 393.06,433.73 399.2,434.03" fill="none" stroke="#7414c4" stroke-width="2.2" stroke-linecap="butt"/>
<path d="M214.98,482.18C221.12,482.27 239.54,483.05 251.82,482.71C264.1,482.37 276.39,481 288.67,480.14C300.95,479.28 313.23,477.54 325.51,477.56C337.79,477.58 350.07,479.43 362.36,480.24C374.64,481.04 393.06,482.03 399.2,482.39" fill="none" stroke="#7414c4" stroke-width="2.2" stroke-linecap="butt"/>
<path d="M251.82,486.43C254.89,487.43 264.1,490.26 270.24,492.43C276.39,494.61 282.53,498.86 288.67,499.48C294.81,500.1 300.95,498.26 307.09,496.15C313.23,494.05 322.44,488.41 325.51,486.86" fill="none" stroke="#7414c4" stroke-width="2.2" stroke-linecap="butt"/>
<path d="M67.6,427.37C70.67,426.97 79.88,426.39 86.02,424.98C92.16,423.58 95.23,419.61 104.44,418.94C113.66,418.26 132.08,420.06 141.29,420.94C150.5,421.82 153.57,423.37 159.71,424.22C165.85,425.06 168.92,425.56 178.13,426.01C187.34,426.45 202.7,427.1 214.98,426.89C227.26,426.68 239.54,426.23 251.82,424.73C264.1,423.22 276.39,419.39 288.67,417.85C300.95,416.31 316.3,414.73 325.51,415.48C334.72,416.23 337.79,420.63 343.93,422.35C350.07,424.08 353.14,425.28 362.36,425.84C371.57,426.4 393.06,425.74 399.2,425.72" fill="none" stroke="#d82034" stroke-width="2.2" stroke-linecap="butt"/>
<path d="M67.6,432.32C73.74,431.44 92.16,428.23 104.44,427.07C116.73,425.91 129.01,424.54 141.29,425.38C153.57,426.23 165.85,431.13 178.13,432.16C190.41,433.19 205.77,430.67 214.98,431.56C224.19,432.46 227.26,436.11 233.4,437.53C239.54,438.95 242.61,440.26 251.82,440.09C261.03,439.92 276.39,437.76 288.67,436.48C300.95,435.2 313.23,432.02 325.51,432.41C337.79,432.8 350.07,437.37 362.36,438.84C374.64,440.3 393.06,440.81 399.2,441.21" fill="none" stroke="#d82034" stroke-width="2.2" stroke-linecap="butt"/>
<path d="M67.6,445.85C73.74,446.06 92.16,445.97 104.44,447.12C116.73,448.27 129.01,452.59 141.29,452.76C153.57,452.93 165.85,449.04 178.13,448.11C190.41,447.18 202.7,447.2 214.98,447.16C227.26,447.11 239.54,448.24 251.82,447.83C264.1,447.42 276.39,446.23 288.67,444.69C300.95,443.16 313.23,438.47 325.51,438.6C337.79,438.73 350.07,443.79 362.36,445.48C374.64,447.17 393.06,448.18 399.2,448.72" fill="none" stroke="#d82034" stroke-width="2.2" stroke-linecap="butt"/>
<path d="M67.6,450.84C73.74,451.11 92.16,452.36 104.44,452.45C116.73,452.54 129.01,451.6 141.29,451.38C153.57,451.15 165.85,450.76 178.13,451.1C190.41,451.43 202.7,452.79 214.98,453.37C227.26,453.95 239.54,454.32 251.82,454.59C264.1,454.86 276.39,455.63 288.67,454.97C300.95,454.31 313.23,450.7 325.51,450.61C337.79,450.51 350.07,453.53 362.36,454.4C374.64,455.28 393.06,455.62 399.2,455.86" fill="none" stroke="#d82034" stroke-width="2.2" stroke-linecap="butt"/>
<path d="M67.6,453.67C73.74,453.99 92.16,455.18 104.44,455.63C116.73,456.08 129.01,455.85 141.29,456.37C153.57,456.89 165.85,459.33 178.13,458.75C190.41,458.18 202.7,453.17 214.98,452.91C227.26,452.65 239.54,455.85 251.82,457.19C264.1,458.52 276.39,461.11 288.67,460.93C300.95,460.75 313.23,457.11 325.51,456.12C337.79,455.12 350.07,454.1 362.36,454.97C374.64,455.84 393.06,460.27 399.2,461.33" fill="none" stroke="#d82034" stroke-width="2.2" stroke-linecap="butt"/>
<path d="M67.6,467.62C73.74,468.86 92.16,473.41 104.44,475.09C116.73,476.77 129.01,478.17 141.29,477.69C153.57,477.21 165.85,474.01 178.13,472.21C190.41,470.41 202.7,467.41 214.98,466.87C227.26,466.34 239.54,468.56 251.82,468.99C264.1,469.42 276.39,469.97 288.67,469.47C300.95,468.98 313.23,466.35 325.51,466.01C337.79,465.67 350.07,466.29 362.36,467.44C374.64,468.59 393.06,472 399.2,472.91" fill="none" stroke="#d82034" stroke-width="2.2" stroke-linecap="butt"/>
<path d="M237.08,491.98C239.54,491.72 243.23,490.98 251.82,490.4C260.42,489.82 276.39,488.87 288.67,488.48C300.95,488.1 313.23,488.34 325.51,488.09C337.79,487.84 350.07,487.3 362.36,486.98C374.64,486.65 393.06,486.28 399.2,486.14" fill="none" stroke="#d82034" stroke-width="2.2" stroke-linecap="butt"/>
<path d="M67.6,495.34C73.74,495.31 92.16,494.76 104.44,495.15C116.73,495.53 129.01,497.23 141.29,497.64C153.57,498.04 165.85,497.77 178.13,497.59C190.41,497.4 202.7,497.11 214.98,496.52C227.26,495.92 239.54,493.33 251.82,494.03C264.1,494.73 276.39,500.71 288.67,500.69C300.95,500.68 313.23,494.66 325.51,493.96C337.79,493.26 350.07,495.22 362.36,496.51C374.64,497.8 393.06,500.85 399.2,501.72" fill="none" stroke="#d82034" stroke-width="2.2" stroke-linecap="butt"/>
<path d="M67.6,504.2C73.74,504.08 92.16,503.61 104.44,503.47C116.73,503.34 129.01,503.41 141.29,503.39C153.57,503.36 165.85,502.92 178.13,503.33C190.41,503.74 202.7,504.6 214.98,505.85C227.26,507.11 239.54,510.95 251.82,510.86C264.1,510.76 276.39,506.91 288.67,505.28C300.95,503.66 313.23,500.8 325.51,501.1C337.79,501.4 350.07,506.09 362.36,507.09C374.64,508.08 393.06,507.07 399.2,507.06" fill="none" stroke="#d82034" stroke-width="2.2" stroke-linecap="butt"/>
<path d="M229.72,505.87C233.4,505.57 242,503.44 251.82,504.08C261.65,504.72 279.46,507.43 288.67,509.71C297.88,512 300.95,515.25 307.09,517.79C313.23,520.34 319.37,524.41 325.51,524.98C331.65,525.54 337.79,523.01 343.93,521.17C350.07,519.34 353.14,516.37 362.36,513.95C371.57,511.54 393.06,507.89 399.2,506.68" fill="none" stroke="#d82034" stroke-width="2.2" stroke-linecap="butt"/>
<path d="M67.6,492.17C73.74,492.69 92.16,494.82 104.44,495.29C116.73,495.75 129.01,494.75 141.29,494.96C153.57,495.18 165.85,496.88 178.13,496.6C190.41,496.32 202.7,493.62 214.98,493.29C227.26,492.95 239.54,493.92 251.82,494.58C264.1,495.24 276.39,497.56 288.67,497.26C300.95,496.96 313.23,493.32 325.51,492.78C337.79,492.24 350.07,492.49 362.36,494.03C374.64,495.57 393.06,500.67 399.2,502" fill="none" stroke="#d82034" stroke-width="2.2" stroke-linecap="butt"/>
<path d="M67.6,500.89C73.74,500.99 92.16,502.02 104.44,501.49C116.73,500.95 129.01,497.89 141.29,497.67C153.57,497.45 165.85,499.4 178.13,500.16C190.41,500.93 202.7,501.96 214.98,502.25C227.26,502.54 239.54,502.12 251.82,501.92C264.1,501.73 276.39,501.65 288.67,501.1C300.95,500.55 313.23,498.38 325.51,498.64C337.79,498.89 350.07,501.43 362.36,502.62C374.64,503.81 393.06,505.25 399.2,505.78" fill="none" stroke="#d82034" stroke-width="2.2" stroke-linecap="butt"/>
<path d="M67.6,543.46C70.67,541.11 79.88,533.45 86.02,529.37C92.16,525.28 95.23,521.54 104.44,518.95C113.66,516.37 132.08,514.63 141.29,513.86C150.5,513.1 153.57,513.9 159.71,514.36C165.85,514.82 171.99,514.54 178.13,516.63C184.27,518.71 190.41,522.56 196.56,526.88C202.7,531.21 211.91,539.97 214.98,542.59" fill="none" stroke="#d82034" stroke-width="2.2" stroke-linecap="butt"/>
<path d="M67.6,541.23C70.06,537.76 76.2,525.76 82.34,520.45C88.48,515.14 94.62,511.27 104.44,509.37C114.27,507.46 129.01,509.38 141.29,509C153.57,508.61 168.31,504.88 178.13,507.05C187.96,509.23 194.1,516.31 200.24,522.05C206.38,527.79 212.52,538.25 214.98,541.49" fill="none" stroke="#d82034" stroke-width="2.2" stroke-linecap="butt"/>
<path d="M214.98,543.88C218.05,540.55 227.26,528.1 233.4,523.9C239.54,519.69 242.61,520.19 251.82,518.67C261.03,517.15 279.46,514.86 288.67,514.78C297.88,514.7 300.95,517.14 307.09,518.21C313.23,519.28 316.3,521.21 325.51,521.17C334.72,521.13 350.07,519.66 362.36,517.97C374.64,516.29 393.06,512.2 399.2,511.04" fill="none" stroke="#d82034" stroke-width="2.2" stroke-linecap="butt"/>
<path d="M214.98,540.72C217.43,535.11 223.57,513.19 229.72,507.05C235.86,500.91 245.07,504.95 251.82,503.91C258.58,502.87 264.1,501.45 270.24,500.82C276.39,500.19 285.6,500.24 288.67,500.13" fill="none" stroke="#d82034" stroke-width="2.2" stroke-linecap="butt"/>
<path d="M67.6,540.97C69.44,536.14 74.97,520.76 78.65,511.95C82.34,503.15 85.41,493.45 89.71,488.13C94.01,482.81 98.92,482.07 104.44,480.03C109.97,477.98 116.73,476.42 122.87,475.87C129.01,475.33 138.22,476.6 141.29,476.75" fill="none" stroke="#d82034" stroke-width="2.2" stroke-linecap="butt"/>
<path d="M78.65,504.51C81.72,500.23 91.55,486.27 97.08,478.78C102.6,471.3 106.9,465.06 111.81,459.6C116.73,454.14 121.64,449.47 126.55,446.01C131.46,442.54 135.76,439.27 141.29,438.8C146.82,438.34 153.57,441.2 159.71,443.24C165.85,445.27 175.06,449.71 178.13,451.01" fill="none" stroke="#d82034" stroke-width="2.2" stroke-linecap="butt"/>
<path d="M89.71,450.93C93.39,449.77 105.67,446.22 111.81,443.98C117.95,441.73 121.64,438.81 126.55,437.45C131.46,436.1 136.38,435.35 141.29,435.83C146.2,436.3 151.11,438.35 156.03,440.29C160.94,442.24 168.31,446.28 170.76,447.48" fill="none" stroke="#d82034" stroke-width="2.2" stroke-linecap="butt"/>
<path d="M122.87,451.69C125.94,450.72 135.76,445.29 141.29,445.87C146.82,446.45 151.11,449.33 156.03,455.17C160.94,461.02 165.85,473.91 170.76,480.96C175.68,488.01 180.59,491.3 185.5,497.49C190.41,503.67 195.33,510.79 200.24,518.09C205.15,525.39 212.52,537.42 214.98,541.29" fill="none" stroke="#d82034" stroke-width="2.2" stroke-linecap="butt"/>
<path d="M148.66,470.07C151.11,472.84 158.48,481.94 163.4,486.7C168.31,491.46 173.22,495.59 178.13,498.63C183.05,501.66 190.41,503.88 192.87,504.93" fill="none" stroke="#d82034" stroke-width="2.2" stroke-linecap="butt"/>
<path d="M111.81,500.52C114.88,497.93 124.09,490.38 130.24,484.99C136.38,479.61 142.52,472.59 148.66,468.21C154.8,463.83 164.01,460.31 167.08,458.73" fill="none" stroke="#d82034" stroke-width="2.2" stroke-linecap="butt"/>
<path d="M214.98,541.29C216.82,536.44 222.65,521.35 226.03,512.2C229.41,503.05 232.17,493.52 235.24,486.4C238.31,479.29 240.46,474.64 244.45,469.52C248.44,464.39 256.73,457.98 259.19,455.67" fill="none" stroke="#d82034" stroke-width="2.2" stroke-linecap="butt"/>
<path d="M214.98,448.29C217.43,451.53 224.8,461.37 229.72,467.7C234.63,474.03 239.54,482.06 244.45,486.26C249.37,490.45 256.73,491.77 259.19,492.87" fill="none" stroke="#d82034" stroke-width="2.2" stroke-linecap="butt"/>
<path d="M262.88,503.8C264.72,499.99 269.63,488.49 273.93,480.94C278.23,473.38 284.37,464.35 288.67,458.47C292.97,452.58 297.88,447.77 299.72,445.63" fill="none" stroke="#d82034" stroke-width="2.2" stroke-linecap="butt"/>
<path d="M270.24,451.32C273.31,450.03 282.53,446.07 288.67,443.59C294.81,441.11 300.95,440.11 307.09,436.44C313.23,432.77 320.6,424.98 325.51,421.57C330.42,418.15 334.72,416.9 336.56,415.96" fill="none" stroke="#d82034" stroke-width="2.2" stroke-linecap="butt"/>
<path d="M329.2,469.9C331.65,473.64 338.41,485.36 343.93,492.34C349.46,499.31 356.21,508.1 362.36,511.75C368.5,515.4 377.71,513.83 380.78,514.24" fill="none" stroke="#d82034" stroke-width="2.2" stroke-linecap="butt"/>
<path d="M310.77,451.36C313.23,455.07 320.6,468.07 325.51,473.65C330.42,479.22 334.11,482.81 340.25,484.82C346.39,486.83 358.67,485.56 362.36,485.71" fill="none" stroke="#d82034" stroke-width="2.2" stroke-linecap="butt"/>
<path d="M373.41,519.7C375.87,515.36 383.85,499.96 388.15,493.67C392.45,487.38 397.36,483.89 399.2,481.93" fill="none" stroke="#d82034" stroke-width="2.2" stroke-linecap="butt"/>
<path d="M67.6,483.31C70.67,483.18 79.88,483.04 86.02,482.49C92.16,481.94 98.3,480.2 104.44,480.03C110.59,479.85 116.73,480.64 122.87,481.45C129.01,482.27 135.15,484.67 141.29,484.93C147.43,485.2 153.57,483.73 159.71,483.04C165.85,482.35 171.99,480.53 178.13,480.77C184.27,481.01 190.41,483.38 196.56,484.47C202.7,485.57 211.91,486.87 214.98,487.35" fill="none" stroke="#d82034" stroke-width="2.2" stroke-linecap="butt"/>
<path d="M67.6,438.67C70.67,438.54 79.88,438.65 86.02,437.85C92.16,437.06 98.3,434.38 104.44,433.9C110.59,433.42 116.73,435.44 122.87,434.95C129.01,434.47 135.15,431.04 141.29,430.99C147.43,430.95 153.57,433.51 159.71,434.68C165.85,435.85 171.99,437.75 178.13,437.99C184.27,438.23 190.41,436.57 196.56,436.11C202.7,435.66 211.91,435.41 214.98,435.27" fill="none" stroke="#d82034" stroke-width="2.2" stroke-linecap="butt"/>
<path d="M214.98,437.13C221.12,436.89 242.61,436.41 251.82,435.68C261.03,434.94 264.1,433.88 270.24,432.72C276.39,431.56 282.53,429.64 288.67,428.71C294.81,427.78 300.95,427.71 307.09,427.14C313.23,426.57 316.3,424.52 325.51,425.29C334.72,426.06 350.07,430.39 362.36,431.77C374.64,433.15 393.06,433.27 399.2,433.57" fill="none" stroke="#d82034" stroke-width="2.2" stroke-linecap="butt"/>
<path d="M214.98,481.77C221.12,481.84 239.54,482.47 251.82,482.18C264.1,481.89 276.39,480.84 288.67,480.04C300.95,479.24 313.23,477.41 325.51,477.37C337.79,477.32 350.07,479 362.36,479.76C374.64,480.52 393.06,481.57 399.2,481.93" fill="none" stroke="#d82034" stroke-width="2.2" stroke-linecap="butt"/>
<path d="M251.82,485.9C254.89,486.96 264.1,489.99 270.24,492.24C276.39,494.49 282.53,498.77 288.67,499.39C294.81,500.01 300.95,498.08 307.09,495.96C313.23,493.84 322.44,488.22 325.51,486.67" fill="none" stroke="#d82034" stroke-width="2.2" stroke-linecap="butt"/>
<path d="M67.6,427.06C70.67,426.61 79.88,425.79 86.02,424.35C92.16,422.9 95.23,418.98 104.44,418.38C113.66,417.77 132.08,419.77 141.29,420.7C150.5,421.64 153.57,423.13 159.71,424C165.85,424.87 168.92,425.5 178.13,425.91C187.34,426.33 202.7,426.77 214.98,426.48C227.26,426.2 239.54,425.65 251.82,424.19C264.1,422.74 276.39,419.24 288.67,417.76C300.95,416.27 316.3,414.56 325.51,415.29C334.72,416.02 337.79,420.45 343.93,422.13C350.07,423.81 353.14,424.84 362.36,425.36C371.57,425.89 393.06,425.28 399.2,425.26" fill="none" stroke="#e04814" stroke-width="2.2" stroke-linecap="butt"/>
<path d="M67.6,431.7C73.74,430.91 92.16,428.09 104.44,426.99C116.73,425.89 129.01,424.3 141.29,425.1C153.57,425.89 165.85,430.75 178.13,431.74C190.41,432.73 205.77,430.14 214.98,431.06C224.19,431.98 227.26,435.77 233.4,437.26C239.54,438.75 242.61,440.2 251.82,440.01C261.03,439.81 276.39,437.43 288.67,436.09C300.95,434.74 313.23,431.55 325.51,431.95C337.79,432.35 350.07,436.95 362.36,438.48C374.64,440.01 393.06,440.68 399.2,441.12" fill="none" stroke="#e04814" stroke-width="2.2" stroke-linecap="butt"/>
<path d="M67.6,445.68C73.74,445.88 92.16,445.86 104.44,446.92C116.73,447.99 129.01,451.91 141.29,452.09C153.57,452.26 165.85,448.85 178.13,447.99C190.41,447.14 202.7,447.03 214.98,446.96C227.26,446.88 239.54,448.01 251.82,447.52C264.1,447.04 276.39,445.56 288.67,444.06C300.95,442.56 313.23,438.33 325.51,438.52C337.79,438.71 350.07,443.55 362.36,445.19C374.64,446.83 393.06,447.81 399.2,448.33" fill="none" stroke="#e04814" stroke-width="2.2" stroke-linecap="butt"/>
<path d="M67.6,450.41C73.74,450.66 92.16,451.8 104.44,451.94C116.73,452.08 129.01,451.44 141.29,451.27C153.57,451.1 165.85,450.66 178.13,450.92C190.41,451.18 202.7,452.28 214.98,452.83C227.26,453.38 239.54,453.87 251.82,454.21C264.1,454.56 276.39,455.53 288.67,454.89C300.95,454.24 313.23,450.51 325.51,450.33C337.79,450.15 350.07,452.94 362.36,453.82C374.64,454.71 393.06,455.34 399.2,455.64" fill="none" stroke="#e04814" stroke-width="2.2" stroke-linecap="butt"/>
<path d="M67.6,453.44C73.74,453.77 92.16,454.98 104.44,455.44C116.73,455.9 129.01,455.74 141.29,456.18C153.57,456.62 165.85,458.64 178.13,458.07C190.41,457.51 202.7,452.98 214.98,452.8C227.26,452.62 239.54,455.69 251.82,456.99C264.1,458.29 276.39,460.86 288.67,460.61C300.95,460.36 313.23,456.45 325.51,455.5C337.79,454.54 350.07,453.96 362.36,454.89C374.64,455.81 393.06,460.04 399.2,461.07" fill="none" stroke="#e04814" stroke-width="2.2" stroke-linecap="butt"/>
<path d="M67.6,467.53C73.74,468.7 92.16,472.9 104.44,474.53C116.73,476.16 129.01,477.73 141.29,477.31C153.57,476.89 165.85,473.74 178.13,471.99C190.41,470.24 202.7,467.4 214.98,466.79C227.26,466.18 239.54,467.93 251.82,468.34C264.1,468.74 276.39,469.63 288.67,469.21C300.95,468.8 313.23,466.15 325.51,465.83C337.79,465.5 350.07,466.2 362.36,467.27C374.64,468.34 393.06,471.4 399.2,472.23" fill="none" stroke="#e04814" stroke-width="2.2" stroke-linecap="butt"/>
<path d="M237.08,491.46C239.54,491.25 243.23,490.7 251.82,490.18C260.42,489.67 276.39,488.82 288.67,488.39C300.95,487.97 313.23,487.97 325.51,487.65C337.79,487.33 350.07,486.75 362.36,486.48C374.64,486.21 393.06,486.09 399.2,486.01" fill="none" stroke="#e04814" stroke-width="2.2" stroke-linecap="butt"/>
<path d="M67.6,494.99C73.74,495 92.16,494.72 104.44,495.06C116.73,495.4 129.01,496.68 141.29,497.04C153.57,497.4 165.85,497.36 178.13,497.23C190.41,497.11 202.7,496.82 214.98,496.27C227.26,495.73 239.54,493.32 251.82,493.95C264.1,494.57 276.39,500.07 288.67,500.03C300.95,499.99 313.23,494.33 325.51,493.71C337.79,493.1 350.07,495.02 362.36,496.33C374.64,497.63 393.06,500.67 399.2,501.54" fill="none" stroke="#e04814" stroke-width="2.2" stroke-linecap="butt"/>
<path d="M67.6,503.92C73.74,503.77 92.16,503.18 104.44,503.02C116.73,502.85 129.01,502.9 141.29,502.94C153.57,502.98 165.85,502.83 178.13,503.25C190.41,503.66 202.7,504.23 214.98,505.43C227.26,506.62 239.54,510.49 251.82,510.41C264.1,510.33 276.39,506.52 288.67,504.95C300.95,503.39 313.23,500.75 325.51,501.01C337.79,501.28 350.07,505.58 362.36,506.53C374.64,507.47 393.06,506.66 399.2,506.68" fill="none" stroke="#e04814" stroke-width="2.2" stroke-linecap="butt"/>
<path d="M229.72,505.68C233.4,505.39 242,503.29 251.82,503.94C261.65,504.58 279.46,507.29 288.67,509.56C297.88,511.83 300.95,515.06 307.09,517.54C313.23,520.01 319.37,523.92 325.51,524.41C331.65,524.91 337.79,522.31 343.93,520.5C350.07,518.7 353.14,515.92 362.36,513.6C371.57,511.28 393.06,507.76 399.2,506.59" fill="none" stroke="#e04814" stroke-width="2.2" stroke-linecap="butt"/>
<path d="M67.6,492.09C73.74,492.56 92.16,494.53 104.44,494.95C116.73,495.36 129.01,494.36 141.29,494.56C153.57,494.75 165.85,496.33 178.13,496.11C190.41,495.88 202.7,493.53 214.98,493.2C227.26,492.87 239.54,493.51 251.82,494.12C264.1,494.72 276.39,497.12 288.67,496.84C300.95,496.56 313.23,492.91 325.51,492.42C337.79,491.94 350.07,492.45 362.36,493.95C374.64,495.45 393.06,500.18 399.2,501.42" fill="none" stroke="#e04814" stroke-width="2.2" stroke-linecap="butt"/>
<path d="M67.6,500.61C73.74,500.65 92.16,501.38 104.44,500.87C116.73,500.36 129.01,497.69 141.29,497.54C153.57,497.4 165.85,499.27 178.13,499.99C190.41,500.71 202.7,501.64 214.98,501.87C227.26,502.09 239.54,501.5 251.82,501.36C264.1,501.22 276.39,501.51 288.67,501.01C300.95,500.51 313.23,498.16 325.51,498.36C337.79,498.55 350.07,501.02 362.36,502.18C374.64,503.34 393.06,504.79 399.2,505.31" fill="none" stroke="#e04814" stroke-width="2.2" stroke-linecap="butt"/>
<path d="M67.6,542.91C70.67,540.59 79.88,533 86.02,528.99C92.16,524.98 95.23,521.44 104.44,518.87C113.66,516.3 132.08,514.43 141.29,513.58C150.5,512.74 153.57,513.4 159.71,513.83C165.85,514.25 171.99,514.04 178.13,516.15C184.27,518.26 190.41,522.15 196.56,526.49C202.7,530.83 211.91,539.57 214.98,542.18" fill="none" stroke="#e04814" stroke-width="2.2" stroke-linecap="butt"/>
<path d="M67.6,541.03C70.06,537.58 76.2,525.62 82.34,520.31C88.48,514.99 94.62,511.15 104.44,509.15C114.27,507.15 129.01,508.68 141.29,508.31C153.57,507.95 168.31,504.69 178.13,506.97C187.96,509.24 194.1,516.23 200.24,521.94C206.38,527.66 212.52,538.04 214.98,541.25" fill="none" stroke="#e04814" stroke-width="2.2" stroke-linecap="butt"/>
<path d="M214.98,543.27C218.05,539.97 227.26,527.65 233.4,523.5C239.54,519.36 242.61,519.87 251.82,518.39C261.03,516.92 279.46,514.7 288.67,514.65C297.88,514.61 300.95,517.08 307.09,518.13C313.23,519.17 316.3,521.05 325.51,520.91C334.72,520.78 350.07,519.01 362.36,517.34C374.64,515.67 393.06,511.99 399.2,510.92" fill="none" stroke="#e04814" stroke-width="2.2" stroke-linecap="butt"/>
<path d="M214.98,540.61C217.43,535 223.57,513.11 229.72,506.97C235.86,500.82 245.07,504.82 251.82,503.73C258.58,502.64 264.1,501.09 270.24,500.43C276.39,499.76 285.6,499.84 288.67,499.73" fill="none" stroke="#e04814" stroke-width="2.2" stroke-linecap="butt"/>
<path d="M67.6,540.82C69.44,535.96 74.97,520.52 78.65,511.68C82.34,502.85 85.41,493.13 89.71,487.81C94.01,482.48 98.92,481.76 104.44,479.75C109.97,477.73 116.73,476.24 122.87,475.72C129.01,475.2 138.22,476.48 141.29,476.63" fill="none" stroke="#e04814" stroke-width="2.2" stroke-linecap="butt"/>
<path d="M78.65,504.24C81.72,499.95 91.55,485.94 97.08,478.46C102.6,470.98 106.9,464.8 111.81,459.37C116.73,453.94 121.64,449.32 126.55,445.87C131.46,442.42 135.76,439.15 141.29,438.69C146.82,438.23 153.57,441.08 159.71,443.13C165.85,445.17 175.06,449.66 178.13,450.96" fill="none" stroke="#e04814" stroke-width="2.2" stroke-linecap="butt"/>
<path d="M89.71,450.61C93.39,449.46 105.67,445.96 111.81,443.75C117.95,441.53 121.64,438.66 126.55,437.32C131.46,435.98 136.38,435.24 141.29,435.71C146.2,436.19 151.11,438.23 156.03,440.18C160.94,442.13 168.31,446.2 170.76,447.4" fill="none" stroke="#e04814" stroke-width="2.2" stroke-linecap="butt"/>
<path d="M122.87,451.54C125.94,450.58 135.76,445.17 141.29,445.76C146.82,446.34 151.11,449.2 156.03,455.06C160.94,460.91 165.85,473.82 170.76,480.88C175.68,487.95 180.59,491.25 185.5,497.44C190.41,503.63 195.33,510.75 200.24,518.02C205.15,525.3 212.52,537.24 214.98,541.09" fill="none" stroke="#e04814" stroke-width="2.2" stroke-linecap="butt"/>
<path d="M148.66,469.95C151.11,472.73 158.48,481.83 163.4,486.6C168.31,491.37 173.22,495.53 178.13,498.58C183.05,501.63 190.41,503.83 192.87,504.88" fill="none" stroke="#e04814" stroke-width="2.2" stroke-linecap="butt"/>
<path d="M111.81,500.29C114.88,497.72 124.09,490.24 130.24,484.87C136.38,479.5 142.52,472.46 148.66,468.09C154.8,463.72 164.01,460.21 167.08,458.64" fill="none" stroke="#e04814" stroke-width="2.2" stroke-linecap="butt"/>
<path d="M214.98,541.09C216.82,536.22 222.65,521.06 226.03,511.89C229.41,502.72 232.17,493.17 235.24,486.06C238.31,478.94 240.46,474.29 244.45,469.19C248.44,464.09 256.73,457.76 259.19,455.48" fill="none" stroke="#e04814" stroke-width="2.2" stroke-linecap="butt"/>
<path d="M214.98,448.09C217.43,451.3 224.8,461.06 229.72,467.37C234.63,473.68 239.54,481.71 244.45,485.93C249.37,490.15 256.73,491.55 259.19,492.68" fill="none" stroke="#e04814" stroke-width="2.2" stroke-linecap="butt"/>
<path d="M262.88,503.64C264.72,499.85 269.63,488.4 273.93,480.86C278.23,473.33 284.37,464.3 288.67,458.42C292.97,452.53 297.88,447.69 299.72,445.55" fill="none" stroke="#e04814" stroke-width="2.2" stroke-linecap="butt"/>
<path d="M270.24,451.23C273.31,449.94 282.53,446.02 288.67,443.54C294.81,441.06 300.95,440.03 307.09,436.35C313.23,432.67 320.6,424.88 325.51,421.47C330.42,418.06 334.72,416.81 336.56,415.87" fill="none" stroke="#e04814" stroke-width="2.2" stroke-linecap="butt"/>
<path d="M329.2,469.81C331.65,473.55 338.41,485.28 343.93,492.23C349.46,499.18 356.21,507.9 362.36,511.51C368.5,515.13 377.71,513.51 380.78,513.9" fill="none" stroke="#e04814" stroke-width="2.2" stroke-linecap="butt"/>
<path d="M310.77,451.26C313.23,454.97 320.6,467.97 325.51,473.55C330.42,479.13 334.11,482.74 340.25,484.73C346.39,486.71 358.67,485.35 362.36,485.47" fill="none" stroke="#e04814" stroke-width="2.2" stroke-linecap="butt"/>
<path d="M373.41,519.38C375.87,515.04 383.85,499.63 388.15,493.35C392.45,487.07 397.36,483.64 399.2,481.7" fill="none" stroke="#e04814" stroke-width="2.2" stroke-linecap="butt"/>
<path d="M67.6,483.16C70.67,482.99 79.88,482.74 86.02,482.17C92.16,481.6 98.3,479.89 104.44,479.75C110.59,479.6 116.73,480.46 122.87,481.3C129.01,482.15 135.15,484.54 141.29,484.82C147.43,485.09 153.57,483.61 159.71,482.93C165.85,482.25 171.99,480.47 178.13,480.72C184.27,480.98 190.41,483.36 196.56,484.43C202.7,485.5 211.91,486.69 214.98,487.15" fill="none" stroke="#e04814" stroke-width="2.2" stroke-linecap="butt"/>
<path d="M67.6,438.52C70.67,438.35 79.88,438.35 86.02,437.53C92.16,436.72 98.3,434.07 104.44,433.62C110.59,433.16 116.73,435.26 122.87,434.8C129.01,434.34 135.15,430.91 141.29,430.88C147.43,430.84 153.57,433.39 159.71,434.57C165.85,435.75 171.99,437.69 178.13,437.94C184.27,438.2 190.41,436.55 196.56,436.07C202.7,435.59 211.91,435.23 214.98,435.07" fill="none" stroke="#e04814" stroke-width="2.2" stroke-linecap="butt"/>
<path d="M214.98,436.93C221.12,436.67 242.61,436.13 251.82,435.41C261.03,434.69 264.1,433.75 270.24,432.63C276.39,431.5 282.53,429.59 288.67,428.66C294.81,427.73 300.95,427.63 307.09,427.05C313.23,426.47 316.3,424.44 325.51,425.19C334.72,425.94 350.07,430.17 362.36,431.53C374.64,432.89 393.06,433.04 399.2,433.34" fill="none" stroke="#e04814" stroke-width="2.2" stroke-linecap="butt"/>
<path d="M214.98,481.57C221.12,481.62 239.54,482.17 251.82,481.91C264.1,481.65 276.39,480.77 288.67,479.99C300.95,479.22 313.23,477.35 325.51,477.27C337.79,477.19 350.07,478.78 362.36,479.52C374.64,480.26 393.06,481.34 399.2,481.7" fill="none" stroke="#e04814" stroke-width="2.2" stroke-linecap="butt"/>
<path d="M251.82,485.63C254.89,486.72 264.1,489.86 270.24,492.15C276.39,494.43 282.53,498.72 288.67,499.34C294.81,499.96 300.95,498 307.09,495.87C313.23,493.74 322.44,488.12 325.51,486.57" fill="none" stroke="#e04814" stroke-width="2.2" stroke-linecap="butt"/>
<path d="M67.6,425.83C70.67,425.16 79.88,423.42 86.02,421.81C92.16,420.19 95.23,416.47 104.44,416.13C113.66,415.79 132.08,418.62 141.29,419.78C150.5,420.94 153.57,422.15 159.71,423.11C165.85,424.08 168.92,425.26 178.13,425.55C187.34,425.84 202.7,425.44 214.98,424.85C227.26,424.27 239.54,423.29 251.82,422.05C264.1,420.8 276.39,418.62 288.67,417.37C300.95,416.11 316.3,413.87 325.51,414.52C334.72,415.17 337.79,419.76 343.93,421.25C350.07,422.74 353.14,423.09 362.36,423.46C371.57,423.82 393.06,423.43 399.2,423.43" fill="none" stroke="#6c9c20" stroke-width="2.2" stroke-linecap="butt"/>
<path d="M67.6,429.22C73.74,428.8 92.16,427.53 104.44,426.65C116.73,425.77 129.01,423.38 141.29,423.95C153.57,424.52 165.85,429.22 178.13,430.07C190.41,430.93 205.77,428.05 214.98,429.07C224.19,430.09 227.26,434.43 233.4,436.2C239.54,437.96 242.61,439.95 251.82,439.67C261.03,439.39 276.39,436.1 288.67,434.51C300.95,432.92 313.23,429.7 325.51,430.12C337.79,430.55 350.07,435.28 362.36,437.06C374.64,438.84 393.06,440.17 399.2,440.79" fill="none" stroke="#6c9c20" stroke-width="2.2" stroke-linecap="butt"/>
<path d="M67.6,444.99C73.74,445.19 92.16,445.41 104.44,446.14C116.73,446.88 129.01,449.16 141.29,449.39C153.57,449.62 165.85,448.07 178.13,447.53C190.41,446.99 202.7,446.36 214.98,446.15C227.26,445.95 239.54,447.07 251.82,446.29C264.1,445.52 276.39,442.87 288.67,441.52C300.95,440.17 313.23,437.76 325.51,438.18C337.79,438.6 350.07,442.6 362.36,444.04C374.64,445.47 393.06,446.32 399.2,446.78" fill="none" stroke="#6c9c20" stroke-width="2.2" stroke-linecap="butt"/>
<path d="M67.6,448.69C73.74,448.89 92.16,449.55 104.44,449.91C116.73,450.27 129.01,450.81 141.29,450.86C153.57,450.91 165.85,450.24 178.13,450.21C190.41,450.18 202.7,450.27 214.98,450.69C227.26,451.11 239.54,452.07 251.82,452.71C264.1,453.35 276.39,455.13 288.67,454.55C300.95,453.97 313.23,449.74 325.51,449.23C337.79,448.72 350.07,450.58 362.36,451.5C374.64,452.41 393.06,454.2 399.2,454.74" fill="none" stroke="#6c9c20" stroke-width="2.2" stroke-linecap="butt"/>
<path d="M67.6,452.51C73.74,452.88 92.16,454.2 104.44,454.69C116.73,455.18 129.01,455.32 141.29,455.43C153.57,455.54 165.85,455.86 178.13,455.35C190.41,454.84 202.7,452.21 214.98,452.36C227.26,452.5 239.54,455.03 251.82,456.19C264.1,457.36 276.39,459.86 288.67,459.33C300.95,458.8 313.23,453.83 325.51,453.03C337.79,452.23 350.07,453.39 362.36,454.55C374.64,455.71 393.06,459.09 399.2,460" fill="none" stroke="#6c9c20" stroke-width="2.2" stroke-linecap="butt"/>
<path d="M67.6,467.2C73.74,468.05 92.16,470.87 104.44,472.3C116.73,473.73 129.01,475.98 141.29,475.78C153.57,475.58 165.85,472.66 178.13,471.1C190.41,469.55 202.7,467.35 214.98,466.46C227.26,465.56 239.54,465.44 251.82,465.73C264.1,466.01 276.39,468.28 288.67,468.18C300.95,468.07 313.23,465.37 325.51,465.1C337.79,464.83 350.07,465.84 362.36,466.58C374.64,467.31 393.06,469 399.2,469.49" fill="none" stroke="#6c9c20" stroke-width="2.2" stroke-linecap="butt"/>
<path d="M237.08,489.36C239.54,489.36 243.23,489.54 251.82,489.32C260.42,489.1 276.39,488.61 288.67,488.04C300.95,487.47 313.23,486.49 325.51,485.9C337.79,485.31 350.07,484.56 362.36,484.49C374.64,484.42 393.06,485.32 399.2,485.49" fill="none" stroke="#6c9c20" stroke-width="2.2" stroke-linecap="butt"/>
<path d="M67.6,493.59C73.74,493.78 92.16,494.55 104.44,494.73C116.73,494.91 129.01,494.48 141.29,494.66C153.57,494.85 165.85,495.72 178.13,495.83C190.41,495.94 202.7,495.68 214.98,495.31C227.26,494.94 239.54,493.27 251.82,493.61C264.1,493.95 276.39,497.51 288.67,497.36C300.95,497.21 313.23,493.01 325.51,492.72C337.79,492.42 350.07,494.25 362.36,495.6C374.64,496.95 393.06,499.94 399.2,500.81" fill="none" stroke="#6c9c20" stroke-width="2.2" stroke-linecap="butt"/>
<path d="M67.6,502.8C73.74,502.53 92.16,501.45 104.44,501.18C116.73,500.91 129.01,500.87 141.29,501.16C153.57,501.45 165.85,502.48 178.13,502.91C190.41,503.34 202.7,502.79 214.98,503.74C227.26,504.69 239.54,508.63 251.82,508.61C264.1,508.59 276.39,504.94 288.67,503.62C300.95,502.3 313.23,500.57 325.51,500.68C337.79,500.79 350.07,503.54 362.36,504.29C374.64,505.04 393.06,505.02 399.2,505.17" fill="none" stroke="#6c9c20" stroke-width="2.2" stroke-linecap="butt"/>
<path d="M229.72,504.91C233.4,504.66 242,502.69 251.82,503.36C261.65,504.04 279.46,506.76 288.67,508.95C297.88,511.15 300.95,514.33 307.09,516.53C313.23,518.73 319.37,521.94 325.51,522.15C331.65,522.37 337.79,519.49 343.93,517.83C350.07,516.17 353.14,514.12 362.36,512.2C371.57,510.27 393.06,507.25 399.2,506.26" fill="none" stroke="#6c9c20" stroke-width="2.2" stroke-linecap="butt"/>
<path d="M67.6,491.75C73.74,492.06 92.16,493.39 104.44,493.58C116.73,493.78 129.01,492.83 141.29,492.93C153.57,493.02 165.85,494.16 178.13,494.15C190.41,494.14 202.7,493.18 214.98,492.87C227.26,492.55 239.54,491.88 251.82,492.26C264.1,492.64 276.39,495.38 288.67,495.17C300.95,494.96 313.23,491.26 325.51,491C337.79,490.74 350.07,492.26 362.36,493.61C374.64,494.96 393.06,498.19 399.2,499.11" fill="none" stroke="#6c9c20" stroke-width="2.2" stroke-linecap="butt"/>
<path d="M67.6,499.46C73.74,499.29 92.16,498.82 104.44,498.41C116.73,498.01 129.01,496.87 141.29,497.02C153.57,497.17 165.85,498.76 178.13,499.31C190.41,499.86 202.7,500.37 214.98,500.33C227.26,500.3 239.54,499.03 251.82,499.09C264.1,499.15 276.39,500.99 288.67,500.68C300.95,500.37 313.23,497.27 325.51,497.22C337.79,497.18 350.07,499.38 362.36,500.41C374.64,501.45 393.06,502.93 399.2,503.43" fill="none" stroke="#6c9c20" stroke-width="2.2" stroke-linecap="butt"/>
<path d="M67.6,540.73C70.67,538.52 79.88,531.18 86.02,527.48C92.16,523.78 95.23,521.04 104.44,518.54C113.66,516.03 132.08,513.61 141.29,512.47C150.5,511.33 153.57,511.4 159.71,511.69C165.85,511.99 171.99,512.03 178.13,514.23C184.27,516.43 190.41,520.52 196.56,524.9C202.7,529.29 211.91,537.94 214.98,540.55" fill="none" stroke="#6c9c20" stroke-width="2.2" stroke-linecap="butt"/>
<path d="M67.6,540.26C70.06,536.84 76.2,525.06 82.34,519.73C88.48,514.4 94.62,510.65 104.44,508.29C114.27,505.93 129.01,505.85 141.29,505.57C153.57,505.3 168.31,503.97 178.13,506.63C187.96,509.29 194.1,515.92 200.24,521.54C206.38,527.15 212.52,537.18 214.98,540.31" fill="none" stroke="#6c9c20" stroke-width="2.2" stroke-linecap="butt"/>
<path d="M214.98,540.82C218.05,537.67 227.26,525.84 233.4,521.93C239.54,518.01 242.61,518.6 251.82,517.3C261.03,516 279.46,514.05 288.67,514.13C297.88,514.21 300.95,516.83 307.09,517.79C313.23,518.75 316.3,520.38 325.51,519.88C334.72,519.39 350.07,516.38 362.36,514.81C374.64,513.23 393.06,511.14 399.2,510.41" fill="none" stroke="#6c9c20" stroke-width="2.2" stroke-linecap="butt"/>
<path d="M214.98,540.15C217.43,534.57 223.57,512.82 229.72,506.63C235.86,500.45 245.07,504.33 251.82,503.03C258.58,501.74 264.1,499.68 270.24,498.86C276.39,498.04 285.6,498.25 288.67,498.13" fill="none" stroke="#6c9c20" stroke-width="2.2" stroke-linecap="butt"/>
<path d="M67.6,540.2C69.44,535.27 74.97,519.55 78.65,510.6C82.34,501.65 85.41,491.83 89.71,486.5C94.01,481.17 98.92,480.52 104.44,478.62C109.97,476.72 116.73,475.51 122.87,475.11C129.01,474.7 138.22,475.99 141.29,476.17" fill="none" stroke="#6c9c20" stroke-width="2.2" stroke-linecap="butt"/>
<path d="M78.65,503.16C81.72,498.83 91.55,484.64 97.08,477.19C102.6,469.74 106.9,463.77 111.81,458.46C116.73,453.15 121.64,448.7 126.55,445.32C131.46,441.95 135.76,438.67 141.29,438.23C146.82,437.79 153.57,440.59 159.71,442.68C165.85,444.78 175.06,449.43 178.13,450.78" fill="none" stroke="#6c9c20" stroke-width="2.2" stroke-linecap="butt"/>
<path d="M89.71,449.3C93.39,448.22 105.67,444.93 111.81,442.84C117.95,440.75 121.64,438.03 126.55,436.77C131.46,435.5 136.38,434.76 141.29,435.25C146.2,435.74 151.11,437.74 156.03,439.71C160.94,441.69 168.31,445.87 170.76,447.1" fill="none" stroke="#6c9c20" stroke-width="2.2" stroke-linecap="butt"/>
<path d="M122.87,450.93C125.94,449.99 135.76,444.68 141.29,445.29C146.82,445.91 151.11,448.71 156.03,454.59C160.94,460.48 165.85,473.47 170.76,480.58C175.68,487.69 180.59,491.08 185.5,497.28C190.41,503.47 195.33,510.6 200.24,517.77C205.15,524.93 212.52,536.52 214.98,540.27" fill="none" stroke="#6c9c20" stroke-width="2.2" stroke-linecap="butt"/>
<path d="M148.66,469.48C151.11,472.26 158.48,481.38 163.4,486.2C168.31,491.02 173.22,495.31 178.13,498.4C183.05,501.48 190.41,503.66 192.87,504.72" fill="none" stroke="#6c9c20" stroke-width="2.2" stroke-linecap="butt"/>
<path d="M111.81,499.38C114.88,496.88 124.09,489.66 130.24,484.37C136.38,479.07 142.52,471.97 148.66,467.62C154.8,463.27 164.01,459.84 167.08,458.28" fill="none" stroke="#6c9c20" stroke-width="2.2" stroke-linecap="butt"/>
<path d="M214.98,540.27C216.82,535.34 222.65,519.92 226.03,510.65C229.41,501.38 232.17,491.79 235.24,484.66C238.31,477.54 240.46,472.89 244.45,467.89C248.44,462.9 256.73,456.9 259.19,454.7" fill="none" stroke="#6c9c20" stroke-width="2.2" stroke-linecap="butt"/>
<path d="M214.98,447.27C217.43,450.4 224.8,459.82 229.72,466.04C234.63,472.27 239.54,480.32 244.45,484.63C249.37,488.94 256.73,490.69 259.19,491.9" fill="none" stroke="#6c9c20" stroke-width="2.2" stroke-linecap="butt"/>
<path d="M262.88,503.01C264.72,499.27 269.63,488.04 273.93,480.58C278.23,473.11 284.37,464.11 288.67,458.22C292.97,452.34 297.88,447.41 299.72,445.24" fill="none" stroke="#6c9c20" stroke-width="2.2" stroke-linecap="butt"/>
<path d="M270.24,450.85C273.31,449.6 282.53,445.82 288.67,443.34C294.81,440.86 300.95,439.68 307.09,435.97C313.23,432.26 320.6,424.5 325.51,421.09C330.42,417.68 334.72,416.43 336.56,415.5" fill="none" stroke="#6c9c20" stroke-width="2.2" stroke-linecap="butt"/>
<path d="M329.2,469.44C331.65,473.17 338.41,484.93 343.93,491.79C349.46,498.64 356.21,507.1 362.36,510.56C368.5,514.02 377.71,512.22 380.78,512.55" fill="none" stroke="#6c9c20" stroke-width="2.2" stroke-linecap="butt"/>
<path d="M310.77,450.85C313.23,454.57 320.6,467.59 325.51,473.17C330.42,478.75 334.11,482.44 340.25,484.33C346.39,486.22 358.67,484.49 362.36,484.52" fill="none" stroke="#6c9c20" stroke-width="2.2" stroke-linecap="butt"/>
<path d="M373.41,518.1C375.87,513.76 383.85,498.29 388.15,492.07C392.45,485.85 397.36,482.67 399.2,480.79" fill="none" stroke="#6c9c20" stroke-width="2.2" stroke-linecap="butt"/>
<path d="M67.6,482.54C70.67,482.27 79.88,481.56 86.02,480.9C92.16,480.25 98.3,478.66 104.44,478.62C110.59,478.59 116.73,479.73 122.87,480.69C129.01,481.64 135.15,484.05 141.29,484.35C147.43,484.65 153.57,483.12 159.71,482.49C165.85,481.85 171.99,480.25 178.13,480.54C184.27,480.84 190.41,483.29 196.56,484.26C202.7,485.22 211.91,485.99 214.98,486.33" fill="none" stroke="#6c9c20" stroke-width="2.2" stroke-linecap="butt"/>
<path d="M67.6,437.9C70.67,437.63 79.88,437.17 86.02,436.26C92.16,435.36 98.3,432.84 104.44,432.49C110.59,432.15 116.73,434.53 122.87,434.19C129.01,433.84 135.15,430.42 141.29,430.41C147.43,430.4 153.57,432.9 159.71,434.13C165.85,435.35 171.99,437.47 178.13,437.76C184.27,438.06 190.41,436.48 196.56,435.9C202.7,435.31 211.91,434.53 214.98,434.25" fill="none" stroke="#6c9c20" stroke-width="2.2" stroke-linecap="butt"/>
<path d="M214.98,436.11C221.12,435.82 242.61,434.98 251.82,434.34C261.03,433.69 264.1,433.23 270.24,432.25C276.39,431.27 282.53,429.39 288.67,428.46C294.81,427.53 300.95,427.28 307.09,426.67C313.23,426.06 316.3,424.16 325.51,424.81C334.72,425.46 350.07,429.31 362.36,430.58C374.64,431.85 393.06,432.12 399.2,432.43" fill="none" stroke="#6c9c20" stroke-width="2.2" stroke-linecap="butt"/>
<path d="M214.98,480.75C221.12,480.77 239.54,481 251.82,480.84C264.1,480.68 276.39,480.46 288.67,479.8C300.95,479.14 313.23,477.09 325.51,476.89C337.79,476.68 350.07,477.92 362.36,478.57C374.64,479.22 393.06,480.42 399.2,480.79" fill="none" stroke="#6c9c20" stroke-width="2.2" stroke-linecap="butt"/>
<path d="M251.82,484.56C254.89,485.76 264.1,489.34 270.24,491.77C276.39,494.2 282.53,498.52 288.67,499.14C294.81,499.76 300.95,497.65 307.09,495.49C313.23,493.33 322.44,487.74 325.51,486.19" fill="none" stroke="#6c9c20" stroke-width="2.2" stroke-linecap="butt"/>
<path d="M67.6,425.42C70.67,424.68 79.88,422.63 86.02,420.96C92.16,419.29 95.23,415.63 104.44,415.38C113.66,415.13 132.08,418.23 141.29,419.47C150.5,420.71 153.57,421.83 159.71,422.82C165.85,423.81 168.92,425.18 178.13,425.42C187.34,425.67 202.7,424.99 214.98,424.31C227.26,423.63 239.54,422.51 251.82,421.33C264.1,420.15 276.39,418.42 288.67,417.24C300.95,416.06 316.3,413.64 325.51,414.26C334.72,414.88 337.79,419.53 343.93,420.96C350.07,422.39 353.14,422.51 362.36,422.82C371.57,423.13 393.06,422.82 399.2,422.82" fill="none" stroke="#4cf020" stroke-width="2.6" stroke-linecap="butt"/>
<path d="M67.6,428.4C73.74,428.09 92.16,427.35 104.44,426.54C116.73,425.73 129.01,423.07 141.29,423.56C153.57,424.06 165.85,428.71 178.13,429.52C190.41,430.32 205.77,427.35 214.98,428.4C224.19,429.45 227.26,433.98 233.4,435.84C239.54,437.7 242.61,439.87 251.82,439.56C261.03,439.25 276.39,435.65 288.67,433.98C300.95,432.31 313.23,429.08 325.51,429.52C337.79,429.95 350.07,434.72 362.36,436.58C374.64,438.44 393.06,439.99 399.2,440.68" fill="none" stroke="#4cf020" stroke-width="2.6" stroke-linecap="butt"/>
<path d="M67.6,444.77C73.74,444.95 92.16,445.26 104.44,445.88C116.73,446.5 129.01,448.24 141.29,448.49C153.57,448.74 165.85,447.81 178.13,447.37C190.41,446.94 202.7,446.13 214.98,445.88C227.26,445.64 239.54,446.75 251.82,445.88C264.1,445.02 276.39,441.98 288.67,440.68C300.95,439.37 313.23,437.58 325.51,438.07C337.79,438.57 350.07,442.29 362.36,443.65C374.64,445.02 393.06,445.82 399.2,446.26" fill="none" stroke="#4cf020" stroke-width="2.6" stroke-linecap="butt"/>
<path d="M67.6,448.12C73.74,448.3 92.16,448.8 104.44,449.23C116.73,449.67 129.01,450.6 141.29,450.72C153.57,450.84 165.85,450.1 178.13,449.98C190.41,449.85 202.7,449.6 214.98,449.98C227.26,450.35 239.54,451.46 251.82,452.21C264.1,452.95 276.39,455 288.67,454.44C300.95,453.88 313.23,449.48 325.51,448.86C337.79,448.24 350.07,449.79 362.36,450.72C374.64,451.65 393.06,453.82 399.2,454.44" fill="none" stroke="#4cf020" stroke-width="2.6" stroke-linecap="butt"/>
<path d="M67.6,452.21C73.74,452.58 92.16,453.94 104.44,454.44C116.73,454.94 129.01,455.18 141.29,455.18C153.57,455.18 165.85,454.94 178.13,454.44C190.41,453.94 202.7,451.96 214.98,452.21C227.26,452.46 239.54,454.81 251.82,455.93C264.1,457.04 276.39,459.52 288.67,458.9C300.95,458.28 313.23,452.95 325.51,452.21C337.79,451.46 350.07,453.2 362.36,454.44C374.64,455.68 393.06,458.78 399.2,459.65" fill="none" stroke="#4cf020" stroke-width="2.6" stroke-linecap="butt"/>
<path d="M67.6,467.09C73.74,467.83 92.16,470.19 104.44,471.55C116.73,472.92 129.01,475.4 141.29,475.27C153.57,475.15 165.85,472.3 178.13,470.81C190.41,469.32 202.7,467.34 214.98,466.34C227.26,465.35 239.54,464.61 251.82,464.86C264.1,465.1 276.39,467.83 288.67,467.83C300.95,467.83 313.23,465.1 325.51,464.86C337.79,464.61 350.07,465.72 362.36,466.34C374.64,466.96 393.06,468.2 399.2,468.58" fill="none" stroke="#4cf020" stroke-width="2.6" stroke-linecap="butt"/>
<path d="M237.08,488.66C239.54,488.73 243.23,489.16 251.82,489.04C260.42,488.91 276.39,488.54 288.67,487.92C300.95,487.3 313.23,486 325.51,485.32C337.79,484.63 350.07,483.83 362.36,483.83C374.64,483.83 393.06,485.07 399.2,485.32" fill="none" stroke="#4cf020" stroke-width="2.6" stroke-linecap="butt"/>
<path d="M67.6,493.13C73.74,493.38 92.16,494.49 104.44,494.62C116.73,494.74 129.01,493.75 141.29,493.87C153.57,494 165.85,495.17 178.13,495.36C190.41,495.55 202.7,495.3 214.98,494.99C227.26,494.68 239.54,493.25 251.82,493.5C264.1,493.75 276.39,496.66 288.67,496.48C300.95,496.29 313.23,492.57 325.51,492.38C337.79,492.2 350.07,494 362.36,495.36C374.64,496.72 393.06,499.7 399.2,500.57" fill="none" stroke="#4cf020" stroke-width="2.6" stroke-linecap="butt"/>
<path d="M67.6,502.43C73.74,502.12 92.16,500.88 104.44,500.57C116.73,500.26 129.01,500.2 141.29,500.57C153.57,500.94 165.85,502.37 178.13,502.8C190.41,503.23 202.7,502.3 214.98,503.17C227.26,504.04 239.54,508.01 251.82,508.01C264.1,508.01 276.39,504.41 288.67,503.17C300.95,501.93 313.23,500.51 325.51,500.57C337.79,500.63 350.07,502.86 362.36,503.54C374.64,504.23 393.06,504.47 399.2,504.66" fill="none" stroke="#4cf020" stroke-width="2.6" stroke-linecap="butt"/>
<path d="M229.72,504.66C233.4,504.41 242,502.49 251.82,503.17C261.65,503.85 279.46,506.58 288.67,508.75C297.88,510.92 300.95,514.08 307.09,516.19C313.23,518.3 319.37,521.28 325.51,521.4C331.65,521.52 337.79,518.55 343.93,516.94C350.07,515.32 353.14,513.53 362.36,511.73C371.57,509.93 393.06,507.08 399.2,506.15" fill="none" stroke="#4cf020" stroke-width="2.6" stroke-linecap="butt"/>
<path d="M67.6,491.64C73.74,491.89 92.16,493 104.44,493.13C116.73,493.25 129.01,492.32 141.29,492.38C153.57,492.45 165.85,493.44 178.13,493.5C190.41,493.56 202.7,493.07 214.98,492.76C227.26,492.45 239.54,491.33 251.82,491.64C264.1,491.95 276.39,494.8 288.67,494.62C300.95,494.43 313.23,490.71 325.51,490.52C337.79,490.34 350.07,492.2 362.36,493.5C374.64,494.8 393.06,497.53 399.2,498.34" fill="none" stroke="#4cf020" stroke-width="2.6" stroke-linecap="butt"/>
<path d="M67.6,499.08C73.74,498.83 92.16,497.96 104.44,497.59C116.73,497.22 129.01,496.6 141.29,496.85C153.57,497.1 165.85,498.58 178.13,499.08C190.41,499.58 202.7,499.95 214.98,499.82C227.26,499.7 239.54,498.21 251.82,498.34C264.1,498.46 276.39,500.82 288.67,500.57C300.95,500.32 313.23,496.97 325.51,496.85C337.79,496.72 350.07,498.83 362.36,499.82C374.64,500.82 393.06,502.3 399.2,502.8" fill="none" stroke="#4cf020" stroke-width="2.6" stroke-linecap="butt"/>
<path d="M67.6,540C70.67,537.83 79.88,530.58 86.02,526.98C92.16,523.38 95.23,520.9 104.44,518.42C113.66,515.94 132.08,513.34 141.29,512.1C150.5,510.86 153.57,510.74 159.71,510.98C165.85,511.23 171.99,511.36 178.13,513.59C184.27,515.82 190.41,519.97 196.56,524.38C202.7,528.78 211.91,537.4 214.98,540" fill="none" stroke="#4cf020" stroke-width="2.6" stroke-linecap="butt"/>
<path d="M67.6,540C70.06,536.59 76.2,524.87 82.34,519.54C88.48,514.21 94.62,510.49 104.44,508.01C114.27,505.53 129.01,504.91 141.29,504.66C153.57,504.41 168.31,503.73 178.13,506.52C187.96,509.31 194.1,515.82 200.24,521.4C206.38,526.98 212.52,536.9 214.98,540" fill="none" stroke="#4cf020" stroke-width="2.6" stroke-linecap="butt"/>
<path d="M214.98,540C218.05,536.9 227.26,525.24 233.4,521.4C239.54,517.56 242.61,518.18 251.82,516.94C261.03,515.7 279.46,513.84 288.67,513.96C297.88,514.08 300.95,516.75 307.09,517.68C313.23,518.61 316.3,520.16 325.51,519.54C334.72,518.92 350.07,515.51 362.36,513.96C374.64,512.41 393.06,510.86 399.2,510.24" fill="none" stroke="#4cf020" stroke-width="2.6" stroke-linecap="butt"/>
<path d="M214.98,540C217.43,534.42 223.57,512.72 229.72,506.52C235.86,500.32 245.07,504.16 251.82,502.8C258.58,501.44 264.1,499.2 270.24,498.34C276.39,497.47 285.6,497.72 288.67,497.59" fill="none" stroke="#4cf020" stroke-width="2.6" stroke-linecap="butt"/>
<path d="M67.6,540C69.44,535.04 74.97,519.23 78.65,510.24C82.34,501.25 85.41,491.39 89.71,486.06C94.01,480.73 98.92,480.11 104.44,478.25C109.97,476.39 116.73,475.27 122.87,474.9C129.01,474.53 138.22,475.83 141.29,476.02" fill="none" stroke="#4cf020" stroke-width="2.2" stroke-linecap="butt"/>
<path d="M78.65,502.8C81.72,498.46 91.55,484.2 97.08,476.76C102.6,469.32 106.9,463.43 111.81,458.16C116.73,452.89 121.64,448.49 126.55,445.14C131.46,441.79 135.76,438.51 141.29,438.07C146.82,437.64 153.57,440.43 159.71,442.54C165.85,444.64 175.06,449.36 178.13,450.72" fill="none" stroke="#4cf020" stroke-width="2.2" stroke-linecap="butt"/>
<path d="M89.71,448.86C93.39,447.81 105.67,444.58 111.81,442.54C117.95,440.49 121.64,437.82 126.55,436.58C131.46,435.34 136.38,434.6 141.29,435.1C146.2,435.59 151.11,437.58 156.03,439.56C160.94,441.54 168.31,445.76 170.76,447" fill="none" stroke="#4cf020" stroke-width="2.2" stroke-linecap="butt"/>
<path d="M122.87,450.72C125.94,449.79 135.76,444.52 141.29,445.14C146.82,445.76 151.11,448.55 156.03,454.44C160.94,460.33 165.85,473.35 170.76,480.48C175.68,487.61 180.59,491.02 185.5,497.22C190.41,503.42 195.33,510.55 200.24,517.68C205.15,524.81 212.52,536.28 214.98,540" fill="none" stroke="#4cf020" stroke-width="2.2" stroke-linecap="butt"/>
<path d="M148.66,469.32C151.11,472.11 158.48,481.22 163.4,486.06C168.31,490.9 173.22,495.24 178.13,498.34C183.05,501.44 190.41,503.61 192.87,504.66" fill="none" stroke="#4cf020" stroke-width="2.2" stroke-linecap="butt"/>
<path d="M111.81,499.08C114.88,496.6 124.09,489.47 130.24,484.2C136.38,478.93 142.52,471.8 148.66,467.46C154.8,463.12 164.01,459.71 167.08,458.16" fill="none" stroke="#4cf020" stroke-width="2.2" stroke-linecap="butt"/>
<path d="M214.98,540C216.82,535.04 222.65,519.54 226.03,510.24C229.41,500.94 232.17,491.33 235.24,484.2C238.31,477.07 240.46,472.42 244.45,467.46C248.44,462.5 256.73,456.61 259.19,454.44" fill="none" stroke="#4cf020" stroke-width="2.2" stroke-linecap="butt"/>
<path d="M214.98,447C217.43,450.1 224.8,459.4 229.72,465.6C234.63,471.8 239.54,479.86 244.45,484.2C249.37,488.54 256.73,490.4 259.19,491.64" fill="none" stroke="#4cf020" stroke-width="2.2" stroke-linecap="butt"/>
<path d="M262.88,502.8C264.72,499.08 269.63,487.92 273.93,480.48C278.23,473.04 284.37,464.05 288.67,458.16C292.97,452.27 297.88,447.31 299.72,445.14" fill="none" stroke="#4cf020" stroke-width="2.2" stroke-linecap="butt"/>
<path d="M270.24,450.72C273.31,449.48 282.53,445.76 288.67,443.28C294.81,440.8 300.95,439.56 307.09,435.84C313.23,432.12 320.6,424.37 325.51,420.96C330.42,417.55 334.72,416.31 336.56,415.38" fill="none" stroke="#4cf020" stroke-width="2.2" stroke-linecap="butt"/>
<path d="M329.2,469.32C331.65,473.04 338.41,484.82 343.93,491.64C349.46,498.46 356.21,506.83 362.36,510.24C368.5,513.65 377.71,511.79 380.78,512.1" fill="none" stroke="#4cf020" stroke-width="2.2" stroke-linecap="butt"/>
<path d="M310.77,450.72C313.23,454.44 320.6,467.46 325.51,473.04C330.42,478.62 334.11,482.34 340.25,484.2C346.39,486.06 358.67,484.2 362.36,484.2" fill="none" stroke="#4cf020" stroke-width="2.2" stroke-linecap="butt"/>
<path d="M373.41,517.68C375.87,513.34 383.85,497.84 388.15,491.64C392.45,485.44 397.36,482.34 399.2,480.48" fill="none" stroke="#4cf020" stroke-width="2.2" stroke-linecap="butt"/>
<path d="M67.6,482.34C70.67,482.03 79.88,481.16 86.02,480.48C92.16,479.8 98.3,478.25 104.44,478.25C110.59,478.25 116.73,479.49 122.87,480.48C129.01,481.47 135.15,483.89 141.29,484.2C147.43,484.51 153.57,482.96 159.71,482.34C165.85,481.72 171.99,480.17 178.13,480.48C184.27,480.79 190.41,483.27 196.56,484.2C202.7,485.13 211.91,485.75 214.98,486.06" fill="none" stroke="#4cf020" stroke-width="2.2" stroke-linecap="butt"/>
<path d="M67.6,437.7C70.67,437.39 79.88,436.77 86.02,435.84C92.16,434.91 98.3,432.43 104.44,432.12C110.59,431.81 116.73,434.29 122.87,433.98C129.01,433.67 135.15,430.26 141.29,430.26C147.43,430.26 153.57,432.74 159.71,433.98C165.85,435.22 171.99,437.39 178.13,437.7C184.27,438.01 190.41,436.46 196.56,435.84C202.7,435.22 211.91,434.29 214.98,433.98" fill="none" stroke="#4cf020" stroke-width="2.2" stroke-linecap="butt"/>
<path d="M214.98,435.84C221.12,435.53 242.61,434.6 251.82,433.98C261.03,433.36 264.1,433.05 270.24,432.12C276.39,431.19 282.53,429.33 288.67,428.4C294.81,427.47 300.95,427.16 307.09,426.54C313.23,425.92 316.3,424.06 325.51,424.68C334.72,425.3 350.07,429.02 362.36,430.26C374.64,431.5 393.06,431.81 399.2,432.12" fill="none" stroke="#4cf020" stroke-width="2.2" stroke-linecap="butt"/>
<path d="M214.98,480.48C221.12,480.48 239.54,480.6 251.82,480.48C264.1,480.36 276.39,480.36 288.67,479.74C300.95,479.12 313.23,477.01 325.51,476.76C337.79,476.51 350.07,477.63 362.36,478.25C374.64,478.87 393.06,480.11 399.2,480.48" fill="none" stroke="#4cf020" stroke-width="2.2" stroke-linecap="butt"/>
<path d="M251.82,484.2C254.89,485.44 264.1,489.16 270.24,491.64C276.39,494.12 282.53,498.46 288.67,499.08C294.81,499.7 300.95,497.53 307.09,495.36C313.23,493.19 322.44,487.61 325.51,486.06" fill="none" stroke="#4cf020" stroke-width="2.2" stroke-linecap="butt"/>
</g>
<rect x="67.6" y="354.2" width="331.6" height="326.8" fill="none" stroke="#000" stroke-width="1.5"/>
<path d="M67.6,677.64 h3.5 M399.2,677.64 h-3.5 M67.6,673.92 h3.5 M399.2,673.92 h-3.5 M67.6,670.2 h3.5 M399.2,670.2 h-3.5 M67.6,666.48 h3.5 M399.2,666.48 h-3.5 M67.6,662.76 h3.5 M399.2,662.76 h-3.5 M67.6,659.04 h3.5 M399.2,659.04 h-3.5 M67.6,655.32 h3.5 M399.2,655.32 h-3.5 M67.6,651.6 h6 M399.2,651.6 h-6 M67.6,647.88 h3.5 M399.2,647.88 h-3.5 M67.6,644.16 h3.5 M399.2,644.16 h-3.5 M67.6,640.44 h3.5 M399.2,640.44 h-3.5 M67.6,636.72 h3.5 M399.2,636.72 h-3.5 M67.6,633 h3.5 M399.2,633 h-3.5 M67.6,629.28 h3.5 M399.2,629.28 h-3.5 M67.6,625.56 h3.5 M399.2,625.56 h-3.5 M67.6,621.84 h3.5 M399.2,621.84 h-3.5 M67.6,618.12 h3.5 M399.2,618.12 h-3.5 M67.6,614.4 h6 M399.2,614.4 h-6 M67.6,610.68 h3.5 M399.2,610.68 h-3.5 M67.6,606.96 h3.5 M399.2,606.96 h-3.5 M67.6,603.24 h3.5 M399.2,603.24 h-3.5 M67.6,599.52 h3.5 M399.2,599.52 h-3.5 M67.6,595.8 h3.5 M399.2,595.8 h-3.5 M67.6,592.08 h3.5 M399.2,592.08 h-3.5 M67.6,588.36 h3.5 M399.2,588.36 h-3.5 M67.6,584.64 h3.5 M399.2,584.64 h-3.5 M67.6,580.92 h3.5 M399.2,580.92 h-3.5 M67.6,577.2 h6 M399.2,577.2 h-6 M67.6,573.48 h3.5 M399.2,573.48 h-3.5 M67.6,569.76 h3.5 M399.2,569.76 h-3.5 M67.6,566.04 h3.5 M399.2,566.04 h-3.5 M67.6,562.32 h3.5 M399.2,562.32 h-3.5 M67.6,558.6 h3.5 M399.2,558.6 h-3.5 M67.6,554.88 h3.5 M399.2,554.88 h-3.5 M67.6,551.16 h3.5 M399.2,551.16 h-3.5 M67.6,547.44 h3.5 M399.2,547.44 h-3.5 M67.6,543.72 h3.5 M399.2,543.72 h-3.5 M67.6,540 h6 M399.2,540 h-6 M67.6,536.28 h3.5 M399.2,536.28 h-3.5 M67.6,532.56 h3.5 M399.2,532.56 h-3.5 M67.6,528.84 h3.5 M399.2,528.84 h-3.5 M67.6,525.12 h3.5 M399.2,525.12 h-3.5 M67.6,521.4 h3.5 M399.2,521.4 h-3.5 M67.6,517.68 h3.5 M399.2,517.68 h-3.5 M67.6,513.96 h3.5 M399.2,513.96 h-3.5 M67.6,510.24 h3.5 M399.2,510.24 h-3.5 M67.6,506.52 h3.5 M399.2,506.52 h-3.5 M67.6,502.8 h6 M399.2,502.8 h-6 M67.6,499.08 h3.5 M399.2,499.08 h-3.5 M67.6,495.36 h3.5 M399.2,495.36 h-3.5 M67.6,491.64 h3.5 M399.2,491.64 h-3.5 M67.6,487.92 h3.5 M399.2,487.92 h-3.5 M67.6,484.2 h3.5 M399.2,484.2 h-3.5 M67.6,480.48 h3.5 M399.2,480.48 h-3.5 M67.6,476.76 h3.5 M399.2,476.76 h-3.5 M67.6,473.04 h3.5 M399.2,473.04 h-3.5 M67.6,469.32 h3.5 M399.2,469.32 h-3.5 M67.6,465.6 h6 M399.2,465.6 h-6 M67.6,461.88 h3.5 M399.2,461.88 h-3.5 M67.6,458.16 h3.5 M399.2,458.16 h-3.5 M67.6,454.44 h3.5 M399.2,454.44 h-3.5 M67.6,450.72 h3.5 M399.2,450.72 h-3.5 M67.6,447 h3.5 M399.2,447 h-3.5 M67.6,443.28 h3.5 M399.2,443.28 h-3.5 M67.6,439.56 h3.5 M399.2,439.56 h-3.5 M67.6,435.84 h3.5 M399.2,435.84 h-3.5 M67.6,432.12 h3.5 M399.2,432.12 h-3.5 M67.6,428.4 h6 M399.2,428.4 h-6 M67.6,424.68 h3.5 M399.2,424.68 h-3.5 M67.6,420.96 h3.5 M399.2,420.96 h-3.5 M67.6,417.24 h3.5 M399.2,417.24 h-3.5 M67.6,413.52 h3.5 M399.2,413.52 h-3.5 M67.6,409.8 h3.5 M399.2,409.8 h-3.5 M67.6,406.08 h3.5 M399.2,406.08 h-3.5 M67.6,402.36 h3.5 M399.2,402.36 h-3.5 M67.6,398.64 h3.5 M399.2,398.64 h-3.5 M67.6,394.92 h3.5 M399.2,394.92 h-3.5 M67.6,391.2 h6 M399.2,391.2 h-6 M67.6,387.48 h3.5 M399.2,387.48 h-3.5 M67.6,383.76 h3.5 M399.2,383.76 h-3.5 M67.6,380.04 h3.5 M399.2,380.04 h-3.5 M67.6,376.32 h3.5 M399.2,376.32 h-3.5 M67.6,372.6 h3.5 M399.2,372.6 h-3.5 M67.6,368.88 h3.5 M399.2,368.88 h-3.5 M67.6,365.16 h3.5 M399.2,365.16 h-3.5 M67.6,361.44 h3.5 M399.2,361.44 h-3.5 M67.6,357.72 h3.5 M399.2,357.72 h-3.5 M104.44,354.2 v5 M104.44,681 v-5 M141.29,354.2 v5 M141.29,681 v-5 M178.13,354.2 v5 M178.13,681 v-5 M214.98,354.2 v5 M214.98,681 v-5 M251.82,354.2 v5 M251.82,681 v-5 M288.67,354.2 v5 M288.67,681 v-5 M325.51,354.2 v5 M325.51,681 v-5 M362.36,354.2 v5 M362.36,681 v-5" stroke="#000" stroke-width="1"/>
<text x="61.8" y="397.4" font-size="18.5" text-anchor="end">4</text>
<text x="61.8" y="471.8" font-size="18.5" text-anchor="end">2</text>
<text x="61.8" y="546.2" font-size="18.5" text-anchor="end">0</text>
<text x="61.8" y="620.6" font-size="18.5" text-anchor="end">−2</text>
<text x="67.6" y="697.5" font-size="16" text-anchor="middle">Γ</text>
<text x="104.44" y="697.5" font-size="16" text-anchor="middle">X</text>
<text x="141.29" y="697.5" font-size="16" text-anchor="middle">S</text>
<text x="178.13" y="697.5" font-size="16" text-anchor="middle">Y</text>
<text x="214.98" y="697.5" font-size="16" text-anchor="middle">Γ</text>
<text x="251.82" y="697.5" font-size="16" text-anchor="middle">Z</text>
<text x="288.67" y="697.5" font-size="16" text-anchor="middle">U</text>
<text x="325.51" y="697.5" font-size="16" text-anchor="middle">R</text>
<text x="362.36" y="697.5" font-size="16" text-anchor="middle">T</text>
<text x="399.2" y="697.5" font-size="16" text-anchor="middle">Z</text>
<text x="221.4" y="719.6" font-size="23.5" font-weight="bold" text-anchor="middle">Wave Vector</text>
<text transform="translate(22.8,518) rotate(-90)" font-size="19.3" text-anchor="middle">Frequency (THz)</text>
<rect x="67.4" y="331.7" width="332.3" height="13.6" fill="url(#cbar)" stroke="#000" stroke-width="1"/>
<path d="M67.4,331.7 v-5 M134,331.7 v-5 M200.8,331.7 v-5 M266.8,331.7 v-5 M333.3,331.7 v-5 M399.7,331.7 v-5" stroke="#000" stroke-width="1"/>
<text x="67.4" y="318.6" font-size="25" text-anchor="middle">0</text>
<text x="134" y="318.6" font-size="25" text-anchor="middle">300</text>
<text x="200.8" y="318.6" font-size="25" text-anchor="middle">350</text>
<text x="266.8" y="318.6" font-size="25" text-anchor="middle">400</text>
<text x="333.3" y="318.6" font-size="25" text-anchor="middle">450</text>
<text x="399.7" y="318.6" font-size="25" text-anchor="middle">500</text>
<text x="419.2" y="316.5" font-size="25">(K)</text>
<text x="5" y="349.5" font-size="36" font-weight="bold">c</text>
</g>
<g id="pd">
<defs><clipPath id="clipd0"><rect x="411.3" y="354.4" width="83.4" height="326.1"/></clipPath><clipPath id="clipd1"><rect x="505.2" y="354.4" width="84.1" height="326.1"/></clipPath><clipPath id="clipd2"><rect x="599.7" y="354.4" width="83.2" height="326.1"/></clipPath></defs>
<g clip-path="url(#clipd0)">
<path d="M411.3,681.36 L411.3,680.43 L411.3,679.5 L411.3,678.57 L411.3,677.64 L411.3,676.71 L411.3,675.78 L411.3,674.85 L411.3,673.92 L411.3,672.99 L411.3,672.06 L411.3,671.13 L411.3,670.2 L411.3,669.27 L411.3,668.34 L412.46,667.41 L413.44,666.48 L414.81,665.55 L417.05,664.62 L418.4,663.69 L416.98,662.76 L415.54,661.83 L414.32,660.9 L413.61,659.97 L412.56,659.04 L411.3,658.11 L411.3,657.18 L411.3,656.25 L411.3,655.32 L411.3,654.39 L411.3,653.46 L411.3,652.53 L411.3,651.6 L411.3,650.67 L411.3,649.74 L411.3,648.81 L411.3,647.88 L411.3,646.95 L411.3,646.02 L412.45,645.09 L413.91,644.16 L414.81,643.23 L413.32,642.3 L412.25,641.37 L411.3,640.44 L411.3,639.51 L411.3,638.58 L411.3,637.65 L411.3,636.72 L411.3,635.79 L411.3,634.86 L411.3,633.93 L411.3,633 L411.3,632.07 L411.3,631.14 L411.3,630.21 L411.3,629.28 L411.3,628.35 L411.3,627.42 L411.3,626.49 L411.3,625.56 L411.3,624.63 L411.3,623.7 L411.3,622.77 L411.3,621.84 L411.3,620.91 L411.3,619.98 L411.3,619.05 L411.3,618.12 L411.3,617.19 L411.3,616.26 L411.3,615.33 L411.3,614.4 L411.3,613.47 L411.3,612.54 L411.3,611.61 L411.3,610.68 L411.3,609.75 L411.3,608.82 L411.3,607.89 L411.3,606.96 L411.3,606.03 L411.3,605.1 L411.3,604.17 L411.3,603.24 L411.3,602.31 L411.3,601.38 L411.3,600.45 L411.3,599.52 L411.3,598.59 L411.3,597.66 L411.3,596.73 L411.3,595.8 L411.3,594.87 L411.3,593.94 L411.3,593.01 L411.3,592.08 L411.3,591.15 L411.3,590.22 L411.3,589.29 L411.3,588.36 L411.3,587.43 L411.3,586.5 L411.3,585.57 L411.3,584.64 L411.3,583.71 L411.3,582.78 L411.3,581.85 L411.3,580.92 L411.3,579.99 L411.3,579.06 L411.3,578.13 L411.3,577.2 L411.3,576.27 L411.3,575.34 L411.3,574.41 L411.3,573.48 L411.3,572.55 L411.3,571.62 L411.3,570.69 L411.3,569.76 L411.3,568.83 L411.3,567.9 L411.3,566.97 L411.3,566.04 L411.3,565.11 L411.3,564.18 L411.3,563.25 L411.3,562.32 L411.3,561.39 L411.3,560.46 L411.3,559.53 L411.3,558.6 L411.3,557.67 L411.3,556.74 L411.3,555.81 L411.3,554.88 L411.3,553.95 L411.3,553.02 L411.3,552.09 L411.3,551.16 L411.3,550.23 L411.3,549.3 L411.3,548.37 L411.3,547.44 L411.3,546.51 L411.3,545.58 L411.3,544.65 L411.3,543.72 L411.3,542.79 L411.3,541.86 L411.3,540.93 L411.3,540 L411.3,539.07 L411.3,538.14 L411.3,537.21 L411.3,536.28 L411.3,535.35 L411.3,534.42 L411.3,533.49 L411.3,532.56 L411.3,531.63 L411.3,530.7 L411.3,529.77 L411.3,528.84 L411.3,527.91 L411.3,526.98 L411.3,526.05 L411.3,525.12 L411.3,524.19 L411.3,523.26 L411.3,522.33 L411.3,521.4 L411.3,520.47 L411.3,519.54 L411.3,518.61 L411.3,517.68 L411.3,516.75 L411.3,515.82 L411.3,514.89 L411.3,513.96 L411.3,513.03 L411.3,512.1 L411.3,511.17 L411.3,510.24 L411.3,509.31 L411.3,508.38 L411.3,507.45 L411.3,506.52 L411.3,505.59 L411.3,504.66 L411.3,503.73 L411.3,502.8 L411.3,501.87 L411.3,500.94 L411.3,500.01 L411.3,499.08 L411.3,498.15 L411.3,497.22 L411.3,496.29 L411.3,495.36 L411.3,494.43 L411.3,493.5 L411.3,492.57 L411.3,491.64 L411.3,490.71 L411.3,489.78 L411.3,488.85 L411.3,487.92 L411.3,486.99 L411.3,486.06 L411.3,485.13 L411.3,484.2 L411.3,483.27 L411.3,482.34 L411.3,481.41 L411.3,480.48 L411.3,479.55 L411.3,478.62 L411.3,477.69 L411.3,476.76 L411.3,475.83 L411.3,474.9 L411.3,473.97 L411.3,473.04 L411.3,472.11 L411.3,471.18 L411.3,470.25 L411.3,469.32 L411.3,468.39 L411.3,467.46 L411.3,466.53 L411.3,465.6 L411.44,464.67 L411.58,463.74 L412.11,462.81 L412.16,461.88 L412.54,460.95 L412.69,460.02 L412.64,459.09 L413.42,458.16 L413.16,457.23 L412.89,456.3 L412.93,455.37 L412.98,454.44 L413.03,453.51 L413.06,452.58 L413.12,451.65 L413.16,450.72 L413.19,449.79 L413.22,448.86 L413.26,447.93 L413.3,447 L413.2,446.07 L413.11,445.14 L412.98,444.21 L412.94,443.28 L413.13,442.35 L413.04,441.42 L412.63,440.49 L412.35,439.56 L412.31,438.63 L412.18,437.7 L412.22,436.77 L412.04,435.84 L411.96,434.91 L412.13,433.98 L412.12,433.05 L411.98,432.12 L412.1,431.19 L411.96,430.26 L412,429.33 L412.06,428.4 L412.15,427.47 L412.09,426.54 L412.27,425.61 L412.39,424.68 L412.38,423.75 L412.25,422.82 L412.2,421.89 L412.21,420.96 L412.27,420.03 L412.28,419.1 L412.58,418.17 L412.62,417.24 L412.46,416.31 L412.32,415.38 L412.3,414.45 L411.98,413.52 L411.66,412.59 L411.52,411.66 L411.42,410.73 L411.3,409.8 L411.3,408.87 L411.3,407.94 L411.3,407.01 L411.3,406.08 L411.3,405.15 L411.3,404.22 L411.3,403.29 L411.3,402.36 L411.3,401.43 L411.3,400.5 L411.3,399.57 L411.3,398.64 L411.3,397.71 L411.3,396.78 L411.3,395.85 L411.3,394.92 L411.3,393.99 L411.3,393.06 L411.3,392.13 L411.3,391.2 L411.3,390.27 L411.3,389.34 L411.3,388.41 L411.3,387.48 L411.3,386.55 L411.3,385.62 L411.3,384.69 L411.3,383.76 L411.3,382.83 L411.3,381.9 L411.3,380.97 L411.3,380.04 L411.3,379.11 L411.3,378.18 L411.3,377.25 L411.3,376.32 L411.3,375.39 L411.3,374.46 L411.3,373.53 L411.3,372.6 L411.3,371.67 L411.3,370.74 L411.3,369.81 L411.3,368.88 L411.3,367.95 L411.3,367.02 L411.3,366.09 L411.3,365.16 L411.3,364.23 L411.3,363.3 L411.3,362.37 L411.3,361.44 L411.3,360.51 L411.3,359.58 L411.3,358.65 L411.3,357.72 L411.3,356.79 L411.3,355.86 L411.3,354.93 L411.3,354 L411.3,354 L411.3,681.36 Z" fill="#52dccc" opacity="0.8" stroke="#52dccc" stroke-width="1.5"/>
<path d="M411.3,681.36 L411.3,680.43 L411.3,679.5 L411.3,678.57 L411.3,677.64 L411.3,676.71 L411.3,675.78 L411.3,674.85 L411.3,673.92 L411.3,672.99 L411.3,672.06 L411.3,671.13 L411.3,670.2 L411.3,669.27 L411.3,668.34 L411.3,667.41 L411.3,666.48 L411.3,665.55 L411.3,664.62 L411.3,663.69 L411.3,662.76 L411.3,661.83 L411.3,660.9 L411.3,659.97 L411.3,659.04 L411.3,658.11 L411.3,657.18 L411.3,656.25 L411.3,655.32 L411.3,654.39 L411.3,653.46 L411.3,652.53 L411.3,651.6 L411.3,650.67 L411.3,649.74 L411.3,648.81 L411.3,647.88 L411.3,646.95 L411.3,646.02 L411.3,645.09 L411.3,644.16 L411.3,643.23 L411.3,642.3 L411.3,641.37 L411.3,640.44 L411.3,639.51 L411.3,638.58 L411.3,637.65 L411.3,636.72 L411.3,635.79 L411.3,634.86 L411.3,633.93 L411.3,633 L411.3,632.07 L411.3,631.14 L411.3,630.21 L411.3,629.28 L411.3,628.35 L411.3,627.42 L411.3,626.49 L411.3,625.56 L411.3,624.63 L411.3,623.7 L411.3,622.77 L411.3,621.84 L411.3,620.91 L411.3,619.98 L411.3,619.05 L411.3,618.12 L411.3,617.19 L411.3,616.26 L411.3,615.33 L411.3,614.4 L411.3,613.47 L411.3,612.54 L411.3,611.61 L411.3,610.68 L411.3,609.75 L411.3,608.82 L411.3,607.89 L411.3,606.96 L411.3,606.03 L411.3,605.1 L411.3,604.17 L411.3,603.24 L411.3,602.31 L411.3,601.38 L411.3,600.45 L411.3,599.52 L411.3,598.59 L411.3,597.66 L411.3,596.73 L411.3,595.8 L411.3,594.87 L411.3,593.94 L411.3,593.01 L411.3,592.08 L411.3,591.15 L411.3,590.22 L411.3,589.29 L411.3,588.36 L411.3,587.43 L411.3,586.5 L411.3,585.57 L411.3,584.64 L411.3,583.71 L411.3,582.78 L411.3,581.85 L411.3,580.92 L411.3,579.99 L411.3,579.06 L411.3,578.13 L411.3,577.2 L411.3,576.27 L411.3,575.34 L411.3,574.41 L411.3,573.48 L411.3,572.55 L411.3,571.62 L411.3,570.69 L411.3,569.76 L411.3,568.83 L411.3,567.9 L411.3,566.97 L411.3,566.04 L411.3,565.11 L411.3,564.18 L411.3,563.25 L411.3,562.32 L411.3,561.39 L411.3,560.46 L411.3,559.53 L411.3,558.6 L411.3,557.67 L411.3,556.74 L411.3,555.81 L411.3,554.88 L411.3,553.95 L411.3,553.02 L411.3,552.09 L411.3,551.16 L411.3,550.23 L411.3,549.3 L411.3,548.37 L411.3,547.44 L411.3,546.51 L411.3,545.58 L411.3,544.65 L411.3,543.72 L411.3,542.79 L411.3,541.86 L411.3,540.93 L411.3,540 L411.3,539.07 L411.3,538.14 L411.3,537.21 L411.3,536.28 L411.3,535.35 L411.3,534.42 L411.3,533.49 L411.3,532.56 L411.3,531.63 L411.3,530.7 L411.3,529.77 L411.3,528.84 L411.3,527.91 L411.3,526.98 L411.3,526.05 L411.3,525.12 L411.3,524.19 L411.3,523.26 L411.3,522.33 L411.3,521.4 L411.3,520.47 L411.3,519.54 L411.3,518.61 L411.3,517.68 L411.3,516.75 L411.3,515.82 L411.3,514.89 L411.3,513.96 L411.3,513.03 L411.3,512.1 L411.3,511.17 L411.3,510.24 L411.3,509.31 L411.3,508.38 L411.3,507.45 L411.3,506.52 L411.3,505.59 L411.3,504.66 L411.3,503.73 L411.3,502.8 L411.3,501.87 L411.3,500.94 L411.3,500.01 L411.3,499.08 L411.3,498.15 L411.3,497.22 L411.3,496.29 L411.3,495.36 L411.3,494.43 L411.3,493.5 L411.3,492.57 L411.3,491.64 L411.3,490.71 L411.3,489.78 L411.3,488.85 L411.3,487.92 L411.3,486.99 L411.3,486.06 L411.3,485.13 L411.3,484.2 L411.3,483.27 L411.3,482.34 L411.3,481.41 L411.3,480.48 L411.3,479.55 L411.3,478.62 L411.3,477.69 L411.3,476.76 L411.3,475.83 L411.3,474.9 L411.3,473.97 L411.3,473.04 L411.54,472.11 L411.79,471.18 L412.16,470.25 L412.43,469.32 L412.71,468.39 L412.89,467.46 L413.08,466.53 L413.3,465.6 L413.37,464.67 L413.45,463.74 L413.55,462.81 L413.73,461.88 L413.73,460.95 L413.76,460.02 L413.86,459.09 L413.89,458.16 L413.99,457.23 L414.1,456.3 L414.88,455.37 L415,454.44 L414.87,453.51 L415.11,452.58 L415.61,451.65 L416.28,450.72 L417.28,449.79 L417.23,448.86 L416.77,447.93 L416.23,447 L415.84,446.07 L414.97,445.14 L414.51,444.21 L414.26,443.28 L414.66,442.35 L414.29,441.42 L413.66,440.49 L413.96,439.56 L413.85,438.63 L413.3,437.7 L412.55,436.77 L412.55,435.84 L412.62,434.91 L412.32,433.98 L412.05,433.05 L412.07,432.12 L411.76,431.19 L411.6,430.26 L411.44,429.33 L411.3,428.4 L411.3,427.47 L411.3,426.54 L411.3,425.61 L411.3,424.68 L411.3,423.75 L411.3,422.82 L411.3,421.89 L411.3,420.96 L411.3,420.03 L411.3,419.1 L411.3,418.17 L411.3,417.24 L411.3,416.31 L411.3,415.38 L411.3,414.45 L411.3,413.52 L411.3,412.59 L411.3,411.66 L411.3,410.73 L411.3,409.8 L411.3,408.87 L411.3,407.94 L411.3,407.01 L411.3,406.08 L411.3,405.15 L411.3,404.22 L411.3,403.29 L411.3,402.36 L411.3,401.43 L411.3,400.5 L411.3,399.57 L411.3,398.64 L411.3,397.71 L411.3,396.78 L411.3,395.85 L411.3,394.92 L411.3,393.99 L411.3,393.06 L411.3,392.13 L411.3,391.2 L411.3,390.27 L411.3,389.34 L411.3,388.41 L411.3,387.48 L411.3,386.55 L411.3,385.62 L411.3,384.69 L411.3,383.76 L411.3,382.83 L411.3,381.9 L411.3,380.97 L411.3,380.04 L411.3,379.11 L411.3,378.18 L411.3,377.25 L411.3,376.32 L411.3,375.39 L411.3,374.46 L411.3,373.53 L411.3,372.6 L411.3,371.67 L411.3,370.74 L411.3,369.81 L411.3,368.88 L411.3,367.95 L411.3,367.02 L411.3,366.09 L411.3,365.16 L411.3,364.23 L411.3,363.3 L411.3,362.37 L411.3,361.44 L411.3,360.51 L411.3,359.58 L411.3,358.65 L411.3,357.72 L411.3,356.79 L411.3,355.86 L411.3,354.93 L411.3,354" fill="none" stroke="#c2c82a" stroke-width="1.6"/>
<path d="M411.3,681.36 L411.3,680.43 L411.3,679.5 L411.3,678.57 L411.3,677.64 L411.3,676.71 L411.3,675.78 L411.3,674.85 L411.3,673.92 L411.3,672.99 L411.3,672.06 L411.3,671.13 L411.3,670.2 L411.3,669.27 L411.3,668.34 L411.3,667.41 L411.3,666.48 L411.3,665.55 L411.3,664.62 L411.3,663.69 L411.3,662.76 L411.3,661.83 L411.3,660.9 L411.3,659.97 L411.3,659.04 L411.3,658.11 L411.3,657.18 L411.3,656.25 L411.3,655.32 L411.3,654.39 L411.3,653.46 L411.3,652.53 L411.3,651.6 L411.3,650.67 L411.3,649.74 L411.3,648.81 L411.3,647.88 L411.3,646.95 L411.3,646.02 L411.3,645.09 L411.3,644.16 L411.3,643.23 L411.3,642.3 L411.3,641.37 L411.3,640.44 L411.3,639.51 L411.3,638.58 L411.3,637.65 L411.3,636.72 L411.3,635.79 L411.3,634.86 L411.3,633.93 L411.3,633 L411.3,632.07 L411.3,631.14 L411.3,630.21 L411.3,629.28 L411.3,628.35 L411.3,627.42 L411.3,626.49 L411.3,625.56 L411.3,624.63 L411.3,623.7 L411.3,622.77 L411.3,621.84 L411.3,620.91 L411.3,619.98 L411.3,619.05 L411.3,618.12 L411.3,617.19 L411.3,616.26 L411.3,615.33 L411.3,614.4 L411.3,613.47 L411.3,612.54 L411.3,611.61 L411.3,610.68 L411.3,609.75 L411.3,608.82 L411.3,607.89 L411.3,606.96 L411.3,606.03 L411.3,605.1 L411.3,604.17 L411.3,603.24 L411.3,602.31 L411.3,601.38 L411.3,600.45 L411.3,599.52 L411.3,598.59 L411.3,597.66 L411.3,596.73 L411.3,595.8 L411.3,594.87 L411.3,593.94 L411.3,593.01 L411.3,592.08 L411.3,591.15 L411.3,590.22 L411.3,589.29 L411.3,588.36 L411.3,587.43 L411.3,586.5 L411.3,585.57 L411.3,584.64 L411.3,583.71 L411.3,582.78 L411.3,581.85 L411.3,580.92 L411.3,579.99 L411.3,579.06 L411.3,578.13 L411.3,577.2 L411.3,576.27 L411.3,575.34 L411.3,574.41 L411.3,573.48 L411.3,572.55 L411.3,571.62 L411.3,570.69 L411.3,569.76 L411.3,568.83 L411.3,567.9 L411.3,566.97 L411.3,566.04 L411.3,565.11 L411.3,564.18 L411.3,563.25 L411.3,562.32 L411.3,561.39 L411.3,560.46 L411.3,559.53 L411.3,558.6 L411.3,557.67 L411.3,556.74 L411.3,555.81 L411.3,554.88 L411.3,553.95 L411.3,553.02 L411.3,552.09 L411.3,551.16 L411.3,550.23 L411.3,549.3 L411.3,548.37 L411.3,547.44 L411.3,546.51 L411.3,545.58 L411.3,544.65 L411.3,543.72 L411.3,542.79 L411.3,541.86 L411.3,540.93 L411.3,540 L411.3,539.07 L411.3,538.14 L411.3,537.21 L411.3,536.28 L411.3,535.35 L411.3,534.42 L411.3,533.49 L411.3,532.56 L411.3,531.63 L411.3,530.7 L411.3,529.77 L411.3,528.84 L411.3,527.91 L411.3,526.98 L411.3,526.05 L411.3,525.12 L411.3,524.19 L411.3,523.26 L411.3,522.33 L411.3,521.4 L411.3,520.47 L411.3,519.54 L411.3,518.61 L411.3,517.68 L411.3,516.75 L411.3,515.82 L411.3,514.89 L411.3,513.96 L411.3,513.03 L411.3,512.1 L411.3,511.17 L411.3,510.24 L411.3,509.31 L411.3,508.38 L411.3,507.45 L411.3,506.52 L411.3,505.59 L411.3,504.66 L411.3,503.73 L411.3,502.8 L411.3,501.87 L411.3,500.94 L411.3,500.01 L411.3,499.08 L411.3,498.15 L411.3,497.22 L411.3,496.29 L411.3,495.36 L411.3,494.43 L411.3,493.5 L411.3,492.57 L411.3,491.64 L411.3,490.71 L411.3,489.78 L411.3,488.85 L411.3,487.92 L411.3,486.99 L411.3,486.06 L411.3,485.13 L411.3,484.2 L411.3,483.27 L411.3,482.34 L411.3,481.41 L411.3,480.48 L411.3,479.55 L411.3,478.62 L411.3,477.69 L411.3,476.76 L411.3,475.83 L411.3,474.9 L411.3,473.97 L411.3,473.04 L411.3,472.11 L411.3,471.18 L411.3,470.25 L411.3,469.32 L411.45,468.39 L411.61,467.46 L411.92,466.53 L412.57,465.6 L412.81,464.67 L413.04,463.74 L412.84,462.81 L412.77,461.88 L412.83,460.95 L412.92,460.02 L412.97,459.09 L412.94,458.16 L413.1,457.23 L413.62,456.3 L413.93,455.37 L413.64,454.44 L413.92,453.51 L413.78,452.58 L413.6,451.65 L413.46,450.72 L413.42,449.79 L413.28,448.86 L413.29,447.93 L413.34,447 L413.66,446.07 L413.05,445.14 L412.88,444.21 L412.79,443.28 L412.67,442.35 L412.56,441.42 L412.45,440.49 L412.31,439.56 L412.24,438.63 L412.17,437.7 L412.23,436.77 L412.05,435.84 L412.15,434.91 L412.66,433.98 L411.89,433.05 L411.75,432.12 L411.58,431.19 L411.48,430.26 L411.38,429.33 L411.3,428.4 L411.3,427.47 L411.3,426.54 L411.3,425.61 L411.3,424.68 L411.3,423.75 L411.3,422.82 L411.3,421.89 L411.3,420.96 L411.3,420.03 L411.3,419.1 L411.3,418.17 L411.3,417.24 L411.3,416.31 L411.3,415.38 L411.3,414.45 L411.3,413.52 L411.3,412.59 L411.3,411.66 L411.3,410.73 L411.3,409.8 L411.3,408.87 L411.3,407.94 L411.3,407.01 L411.3,406.08 L411.3,405.15 L411.3,404.22 L411.3,403.29 L411.3,402.36 L411.3,401.43 L411.3,400.5 L411.3,399.57 L411.3,398.64 L411.3,397.71 L411.3,396.78 L411.3,395.85 L411.3,394.92 L411.3,393.99 L411.3,393.06 L411.3,392.13 L411.3,391.2 L411.3,390.27 L411.3,389.34 L411.3,388.41 L411.3,387.48 L411.3,386.55 L411.3,385.62 L411.3,384.69 L411.3,383.76 L411.3,382.83 L411.3,381.9 L411.3,380.97 L411.3,380.04 L411.3,379.11 L411.3,378.18 L411.3,377.25 L411.3,376.32 L411.3,375.39 L411.3,374.46 L411.3,373.53 L411.3,372.6 L411.3,371.67 L411.3,370.74 L411.3,369.81 L411.3,368.88 L411.3,367.95 L411.3,367.02 L411.3,366.09 L411.3,365.16 L411.3,364.23 L411.3,363.3 L411.3,362.37 L411.3,361.44 L411.3,360.51 L411.3,359.58 L411.3,358.65 L411.3,357.72 L411.3,356.79 L411.3,355.86 L411.3,354.93 L411.3,354" fill="none" stroke="#2020ff" stroke-width="1.6"/>
<path d="M411.3,681.36 L411.3,680.43 L411.3,679.5 L411.3,678.57 L411.3,677.64 L411.3,676.71 L411.3,675.78 L411.3,674.85 L411.3,673.92 L411.3,672.99 L411.3,672.06 L411.3,671.13 L411.3,670.2 L411.3,669.27 L411.3,668.34 L411.3,667.41 L411.3,666.48 L411.3,665.55 L411.3,664.62 L411.3,663.69 L411.3,662.76 L411.3,661.83 L411.3,660.9 L411.3,659.97 L411.3,659.04 L411.3,658.11 L411.3,657.18 L411.3,656.25 L411.3,655.32 L411.3,654.39 L411.3,653.46 L411.3,652.53 L411.3,651.6 L411.3,650.67 L411.3,649.74 L411.3,648.81 L411.3,647.88 L411.3,646.95 L411.3,646.02 L411.3,645.09 L411.3,644.16 L411.3,643.23 L411.3,642.3 L411.3,641.37 L411.3,640.44 L411.3,639.51 L411.3,638.58 L411.3,637.65 L411.3,636.72 L411.3,635.79 L411.3,634.86 L411.3,633.93 L411.3,633 L411.3,632.07 L411.3,631.14 L411.3,630.21 L411.3,629.28 L411.3,628.35 L411.3,627.42 L411.3,626.49 L411.3,625.56 L411.3,624.63 L411.3,623.7 L411.3,622.77 L411.3,621.84 L411.3,620.91 L411.3,619.98 L411.3,619.05 L411.3,618.12 L411.3,617.19 L411.3,616.26 L411.3,615.33 L411.3,614.4 L411.3,613.47 L411.3,612.54 L411.3,611.61 L411.3,610.68 L411.3,609.75 L411.3,608.82 L411.3,607.89 L411.3,606.96 L411.3,606.03 L411.3,605.1 L411.3,604.17 L411.3,603.24 L411.3,602.31 L411.3,601.38 L411.3,600.45 L411.3,599.52 L411.3,598.59 L411.3,597.66 L411.3,596.73 L411.3,595.8 L411.3,594.87 L411.3,593.94 L411.3,593.01 L411.3,592.08 L411.3,591.15 L411.3,590.22 L411.3,589.29 L411.3,588.36 L411.3,587.43 L411.3,586.5 L411.3,585.57 L411.3,584.64 L411.3,583.71 L411.3,582.78 L411.3,581.85 L411.3,580.92 L411.3,579.99 L411.3,579.06 L411.3,578.13 L411.3,577.2 L411.3,576.27 L411.3,575.34 L411.3,574.41 L411.3,573.48 L411.3,572.55 L411.3,571.62 L411.3,570.69 L411.3,569.76 L411.3,568.83 L411.3,567.9 L411.3,566.97 L411.3,566.04 L411.3,565.11 L411.3,564.18 L411.3,563.25 L411.3,562.32 L411.3,561.39 L411.3,560.46 L411.3,559.53 L411.3,558.6 L411.3,557.67 L411.3,556.74 L411.3,555.81 L411.3,554.88 L411.3,553.95 L411.3,553.02 L411.3,552.09 L411.3,551.16 L411.3,550.23 L411.3,549.3 L411.3,548.37 L411.3,547.44 L411.3,546.51 L411.3,545.58 L411.3,544.65 L411.3,543.72 L411.3,542.79 L411.3,541.86 L411.3,540.93 L411.3,540 L411.3,539.07 L411.3,538.14 L411.3,537.21 L411.3,536.28 L411.3,535.35 L411.3,534.42 L411.3,533.49 L411.3,532.56 L411.5,531.63 L411.71,530.7 L412.2,529.77 L412.34,528.84 L412.32,527.91 L412.51,526.98 L412.64,526.05 L412.8,525.12 L413.48,524.19 L412.96,523.26 L413.12,522.33 L413.3,521.4 L413.8,520.47 L413.64,519.54 L413.54,518.61 L413.83,517.68 L414.53,516.75 L414.71,515.82 L414.18,514.89 L413.86,513.96 L414.52,513.03 L414.25,512.1 L414.01,511.17 L414.09,510.24 L414.36,509.31 L414.21,508.38 L414.31,507.45 L414.68,506.52 L414.49,505.59 L414.33,504.66 L414.57,503.73 L415.09,502.8 L415.18,501.87 L414.92,500.94 L414.75,500.01 L414.72,499.08 L415.06,498.15 L415.54,497.22 L415.53,496.29 L415.9,495.36 L416.41,494.43 L417.44,493.5 L417.32,492.57 L418.11,491.64 L417.52,490.71 L417.67,489.78 L417.78,488.85 L417.48,487.92 L415.48,486.99 L414.83,486.06 L415,485.13 L415.37,484.2 L415.1,483.27 L414.96,482.34 L414.87,481.41 L415.34,480.48 L415.15,479.55 L415.54,478.62 L415.11,477.69 L414.59,476.76 L414.24,475.83 L414.16,474.9 L414.34,473.97 L414.18,473.04 L414.36,472.11 L414.49,471.18 L414.67,470.25 L414.68,469.32 L414.78,468.39 L415.14,467.46 L415.23,466.53 L415.33,465.6 L414.96,464.67 L415.06,463.74 L415.32,462.81 L415.59,461.88 L415.03,460.95 L415.02,460.02 L414.93,459.09 L414.73,458.16 L414.5,457.23 L414.44,456.3 L414.73,455.37 L415.17,454.44 L415.35,453.51 L414.83,452.58 L414.73,451.65 L415.22,450.72 L415.6,449.79 L415.83,448.86 L415.88,447.93 L415.45,447 L414.41,446.07 L413.84,445.14 L413.68,444.21 L413.6,443.28 L413.61,442.35 L413.5,441.42 L413.38,440.49 L413.23,439.56 L413.11,438.63 L413.03,437.7 L413.09,436.77 L412.94,435.84 L412.78,434.91 L412.75,433.98 L412.92,433.05 L413.05,432.12 L412.68,431.19 L413.07,430.26 L412.89,429.33 L412.89,428.4 L412.53,427.47 L412.52,426.54 L412.5,425.61 L412.55,424.68 L412.71,423.75 L412.38,422.82 L412.41,421.89 L412.34,420.96 L412.24,420.03 L412.14,419.1 L412.11,418.17 L412.02,417.24 L411.96,416.31 L411.85,415.38 L411.68,414.45 L411.6,413.52 L411.5,412.59 L411.45,411.66 L411.39,410.73 L411.3,409.8 L411.3,408.87 L411.3,407.94 L411.3,407.01 L411.3,406.08 L411.3,405.15 L411.3,404.22 L411.3,403.29 L411.3,402.36 L411.3,401.43 L411.3,400.5 L411.3,399.57 L411.3,398.64 L411.3,397.71 L411.3,396.78 L411.3,395.85 L411.3,394.92 L411.3,393.99 L411.3,393.06 L411.3,392.13 L411.3,391.2 L411.3,390.27 L411.3,389.34 L411.3,388.41 L411.3,387.48 L411.3,386.55 L411.3,385.62 L411.3,384.69 L411.3,383.76 L411.3,382.83 L411.3,381.9 L411.3,380.97 L411.3,380.04 L411.3,379.11 L411.3,378.18 L411.3,377.25 L411.3,376.32 L411.3,375.39 L411.3,374.46 L411.3,373.53 L411.3,372.6 L411.3,371.67 L411.3,370.74 L411.3,369.81 L411.3,368.88 L411.3,367.95 L411.3,367.02 L411.3,366.09 L411.3,365.16 L411.3,364.23 L411.3,363.3 L411.3,362.37 L411.3,361.44 L411.3,360.51 L411.3,359.58 L411.3,358.65 L411.3,357.72 L411.3,356.79 L411.3,355.86 L411.3,354.93 L411.3,354" fill="none" stroke="#ff2020" stroke-width="1.7"/>
<path d="M411.3,681.36 L411.34,680.43 L411.38,679.5 L411.42,678.57 L411.47,677.64 L411.51,676.71 L411.55,675.78 L411.6,674.85 L411.63,673.92 L411.68,672.99 L411.74,672.06 L411.78,671.13 L411.82,670.2 L412.42,669.27 L413.15,668.34 L413.38,667.41 L413.91,666.48 L415.24,665.55 L419.51,664.62 L421.02,663.69 L416.94,662.76 L414.21,661.83 L413.56,660.9 L413.34,659.97 L412.57,659.04 L411.86,658.11 L411.86,657.18 L411.83,656.25 L411.83,655.32 L411.81,654.39 L411.79,653.46 L411.78,652.53 L411.78,651.6 L411.81,650.67 L411.83,649.74 L411.84,648.81 L411.81,647.88 L413.53,646.95 L414.95,646.02 L416.58,645.09 L417.78,644.16 L416.04,643.23 L414.38,642.3 L412.82,641.37 L412.39,640.44 L412.28,639.51 L412.11,638.58 L412.09,637.65 L412.05,636.72 L411.89,635.79 L411.76,634.86 L411.68,633.93 L411.6,633 L411.61,632.07 L411.62,631.14 L411.64,630.21 L411.65,629.28 L411.64,628.35 L411.6,627.42 L411.59,626.49 L411.59,625.56 L411.6,624.63 L411.6,623.7 L411.6,622.77 L411.59,621.84 L411.6,620.91 L411.59,619.98 L411.59,619.05 L411.58,618.12 L411.6,617.19 L411.61,616.26 L411.61,615.33 L411.61,614.4 L411.62,613.47 L411.64,612.54 L411.62,611.61 L411.61,610.68 L411.58,609.75 L411.58,608.82 L411.6,607.89 L411.64,606.96 L411.63,606.03 L411.59,605.1 L411.58,604.17 L411.57,603.24 L411.57,602.31 L411.58,601.38 L411.61,600.45 L411.59,599.52 L411.59,598.59 L411.6,597.66 L411.61,596.73 L411.59,595.8 L411.6,594.87 L411.61,593.94 L411.62,593.01 L411.6,592.08 L411.61,591.15 L411.59,590.22 L411.58,589.29 L411.56,588.36 L411.56,587.43 L411.57,586.5 L411.6,585.57 L411.6,584.64 L411.59,583.71 L411.6,582.78 L411.62,581.85 L411.61,580.92 L411.6,579.99 L411.59,579.06 L411.62,578.13 L411.62,577.2 L411.76,576.27 L412.04,575.34 L412.15,574.41 L412.25,573.48 L412.55,572.55 L413.83,571.62 L415.01,570.69 L416.08,569.76 L416.27,568.83 L417.23,567.9 L418.22,566.97 L417.89,566.04 L417.39,565.11 L417.13,564.18 L417.49,563.25 L417.58,562.32 L417.4,561.39 L416.66,560.46 L416.58,559.53 L416.67,558.6 L416.98,557.67 L417.07,556.74 L416.97,555.81 L417.26,554.88 L417.56,553.95 L417.54,553.02 L415.13,552.09 L412.32,551.16 L412.37,550.23 L412.24,549.3 L411.98,548.37 L412.06,547.44 L411.74,546.51 L411.6,545.58 L411.54,544.65 L411.51,543.72 L411.46,542.79 L411.41,541.86 L411.35,540.93 L411.3,540 L411.43,539.07 L411.54,538.14 L411.64,537.21 L411.77,536.28 L412.03,535.35 L412.12,534.42 L412.29,533.49 L412.47,532.56 L413.02,531.63 L413.35,530.7 L413.55,529.77 L413.99,528.84 L414.33,527.91 L414.66,526.98 L415.04,526.05 L415.41,525.12 L415.73,524.19 L416.28,523.26 L417.13,522.33 L418.64,521.4 L418.79,520.47 L418.9,519.54 L419.56,518.61 L420.78,517.68 L422.33,516.75 L422.95,515.82 L422.78,514.89 L423.97,513.96 L426.52,513.03 L430.25,512.1 L435.18,511.17 L434.52,510.24 L432,509.31 L428.75,508.38 L427,507.45 L428.78,506.52 L431.84,505.59 L434.25,504.66 L434.18,503.73 L435.12,502.8 L436.29,501.87 L437.5,500.94 L438.34,500.01 L436.77,499.08 L439.3,498.15 L441.62,497.22 L444.1,496.29 L440.38,495.36 L436.43,494.43 L432.82,493.5 L429.5,492.57 L429.22,491.64 L430.06,490.71 L431.92,489.78 L431.47,488.85 L428.8,487.92 L427.54,486.99 L427.92,486.06 L430.36,485.13 L430.89,484.2 L429.98,483.27 L430.43,482.34 L428.88,481.41 L427.47,480.48 L425.96,479.55 L424.97,478.62 L423.09,477.69 L422.97,476.76 L422.95,475.83 L422.42,474.9 L421.97,473.97 L422.02,473.04 L423.3,472.11 L424.66,471.18 L426.37,470.25 L428.43,469.32 L428.97,468.39 L429.86,467.46 L431.31,466.53 L433.3,465.6 L431.59,464.67 L430.45,463.74 L428.85,462.81 L426.94,461.88 L427.23,460.95 L428.91,460.02 L429.58,459.09 L430.67,458.16 L429.21,457.23 L428.61,456.3 L427.29,455.37 L427.61,454.44 L429.71,453.51 L430.23,452.58 L431.67,451.65 L433.79,450.72 L433.34,449.79 L429.84,448.86 L427.1,447.93 L425.89,447 L425.51,446.07 L426.07,445.14 L424.78,444.21 L423.88,443.28 L423.55,442.35 L423.69,441.42 L424.48,440.49 L425.46,439.56 L424.95,438.63 L422.42,437.7 L421.08,436.77 L420.09,435.84 L419.46,434.91 L418.84,433.98 L418.27,433.05 L417.35,432.12 L416.37,431.19 L416,430.26 L416.36,429.33 L416.56,428.4 L416.77,427.47 L417.1,426.54 L417.82,425.61 L418.24,424.68 L418.73,423.75 L418.73,422.82 L418.04,421.89 L417.4,420.96 L417.09,420.03 L417.17,419.1 L417.22,418.17 L417.5,417.24 L418.86,416.31 L419.4,415.38 L420.74,414.45 L420.73,413.52 L419.52,412.59 L417.53,411.66 L415.92,410.73 L414.36,409.8 L412.84,408.87 L412.23,407.94 L411.64,407.01 L411.3,406.08 L411.3,405.15 L411.3,404.22 L411.3,403.29 L411.3,402.36 L411.3,401.43 L411.3,400.5 L411.3,399.57 L411.3,398.64 L411.3,397.71 L411.3,396.78 L411.3,395.85 L411.3,394.92 L411.3,393.99 L411.3,393.06 L411.3,392.13 L411.3,391.2 L411.3,390.27 L411.3,389.34 L411.3,388.41 L411.3,387.48 L411.3,386.55 L411.3,385.62 L411.3,384.69 L411.3,383.76 L411.3,382.83 L411.3,381.9 L411.3,380.97 L411.3,380.04 L411.3,379.11 L411.3,378.18 L411.3,377.25 L411.3,376.32 L411.3,375.39 L411.3,374.46 L411.3,373.53 L411.3,372.6 L411.3,371.67 L411.3,370.74 L411.3,369.81 L411.3,368.88 L411.3,367.95 L411.3,367.02 L411.3,366.09 L411.3,365.16 L411.3,364.23 L411.3,363.3 L411.3,362.37 L411.3,361.44 L411.3,360.51 L411.3,359.58 L411.3,358.65 L411.3,357.72 L411.3,356.79 L411.3,355.86 L411.3,354.93 L411.3,354" fill="none" stroke="#000" stroke-width="1.7"/>
<path d="M411.3,681.36 L411.34,680.43 L411.37,679.5 L411.4,678.57 L411.43,677.64 L411.47,676.71 L411.51,675.78 L411.57,674.85 L411.61,673.92 L411.64,672.99 L411.68,672.06 L411.69,671.13 L411.71,670.2 L412.21,669.27 L412.88,668.34 L413.16,667.41 L413.7,666.48 L414.88,665.55 L418.45,664.62 L419.33,663.69 L415.82,662.76 L413.66,661.83 L413.21,660.9 L413.12,659.97 L412.46,659.04 L411.81,658.11 L411.79,657.18 L411.74,656.25 L411.73,655.32 L411.71,654.39 L411.72,653.46 L411.73,652.53 L411.74,651.6 L411.77,650.67 L411.76,649.74 L411.75,648.81 L411.71,647.88 L413.1,646.95 L414.36,646.02 L415.96,645.09 L417.23,644.16 L415.64,643.23 L414.03,642.3 L412.57,641.37 L412.18,640.44 L412.09,639.51 L411.97,638.58 L411.99,637.65 L411.98,636.72 L411.84,635.79 L411.71,634.86 L411.62,633.93 L411.54,633 L411.55,632.07 L411.57,631.14 L411.6,630.21 L411.62,629.28 L411.61,628.35 L411.57,627.42 L411.55,626.49 L411.53,625.56 L411.54,624.63 L411.55,623.7 L411.56,622.77 L411.56,621.84 L411.58,620.91 L411.56,619.98 L411.55,619.05 L411.53,618.12 L411.54,617.19 L411.55,616.26 L411.57,615.33 L411.58,614.4 L411.59,613.47 L411.61,612.54 L411.58,611.61 L411.55,610.68 L411.53,609.75 L411.53,608.82 L411.56,607.89 L411.61,606.96 L411.6,606.03 L411.56,605.1 L411.54,604.17 L411.52,603.24 L411.51,602.31 L411.53,601.38 L411.56,600.45 L411.56,599.52 L411.56,598.59 L411.57,597.66 L411.57,596.73 L411.54,595.8 L411.54,594.87 L411.55,593.94 L411.57,593.01 L411.57,592.08 L411.58,591.15 L411.57,590.22 L411.55,589.29 L411.52,588.36 L411.51,587.43 L411.52,586.5 L411.55,585.57 L411.57,584.64 L411.57,583.71 L411.57,582.78 L411.58,581.85 L411.56,580.92 L411.54,579.99 L411.53,579.06 L411.57,578.13 L411.58,577.2 L411.72,576.27 L411.98,575.34 L412.05,574.41 L412.1,573.48 L412.31,572.55 L413.34,571.62 L414.4,570.69 L415.5,569.76 L415.84,568.83 L416.74,567.9 L417.45,566.97 L416.86,566.04 L416.22,565.11 L415.98,564.18 L416.44,563.25 L416.8,562.32 L416.86,561.39 L416.22,560.46 L416.01,559.53 L415.85,558.6 L415.9,557.67 L415.92,556.74 L415.98,555.81 L416.48,554.88 L416.99,553.95 L417.03,553.02 L414.73,552.09 L412.17,551.16 L412.17,550.23 L412.05,549.3 L411.86,548.37 L411.96,547.44 L411.7,546.51 L411.57,545.58 L411.51,544.65 L411.48,543.72 L411.43,542.79 L411.39,541.86 L411.34,540.93 L411.3,540 L411.41,539.07 L411.52,538.14 L411.61,537.21 L411.7,536.28 L411.9,535.35 L411.96,534.42 L412.11,533.49 L412.3,532.56 L412.84,531.63 L413.19,530.7 L413.34,529.77 L413.63,528.84 L413.8,527.91 L413.99,526.98 L414.33,526.05 L414.79,525.12 L415.26,524.19 L415.87,523.26 L416.61,522.33 L417.7,521.4 L417.5,520.47 L417.4,519.54 L417.98,518.61 L419.31,517.68 L421.12,516.75 L422,515.82 L421.77,514.89 L422.41,513.96 L423.96,513.03 L426.51,512.1 L430.55,511.17 L430.81,510.24 L429.63,509.31 L427.29,508.38 L425.66,507.45 L426.71,506.52 L428.48,505.59 L429.77,504.66 L429.7,503.73 L431.21,502.8 L433.32,501.87 L435.25,500.94 L436.08,500.01 L433.88,499.08 L434.86,498.15 L435.76,497.22 L437.62,496.29 L435.47,495.36 L433.32,494.43 L430.93,493.5 L428,492.57 L427.26,491.64 L427.17,490.71 L427.99,489.78 L427.46,488.85 L425.77,487.92 L425.45,486.99 L426.41,486.06 L428.82,485.13 L428.83,484.2 L427.19,483.27 L426.83,482.34 L425.38,481.41 L424.61,480.48 L424,479.55 L423.69,478.62 L422.14,477.69 L421.79,476.76 L421.27,475.83 L420.37,474.9 L419.83,473.97 L420.08,473.04 L421.64,472.11 L423.37,471.18 L425.16,470.25 L426.77,469.32 L426.52,468.39 L426.49,467.46 L427.31,466.53 L429.25,465.6 L428.68,464.67 L428.52,463.74 L427.45,462.81 L425.47,461.88 L425.09,460.95 L425.78,460.02 L425.93,459.09 L427.04,458.16 L426.55,457.23 L426.81,456.3 L426,455.37 L426.12,454.44 L427.33,453.51 L426.94,452.58 L427.62,451.65 L429.5,450.72 L429.96,449.79 L427.82,448.86 L425.81,447.93 L424.6,447 L423.74,446.07 L423.57,445.14 L422.12,444.21 L421.45,443.28 L421.62,442.35 L422.29,441.42 L423.38,440.49 L424.24,439.56 L423.32,438.63 L420.59,437.7 L419.16,436.77 L418.37,435.84 L418.13,434.91 L417.96,433.98 L417.68,433.05 L416.84,432.12 L415.78,431.19 L415.25,430.26 L415.38,429.33 L415.53,428.4 L415.85,427.47 L416.39,426.54 L417.25,425.61 L417.67,424.68 L417.91,423.75 L417.58,422.82 L416.75,421.89 L416.19,420.96 L416.09,420.03 L416.43,419.1 L416.69,418.17 L416.99,417.24 L418.05,416.31 L418.18,415.38 L418.96,414.45 L418.85,413.52 L418.07,412.59 L416.71,411.66 L415.49,410.73 L414.12,409.8 L412.69,408.87 L412.09,407.94 L411.58,407.01 L411.3,406.08 L411.3,405.15 L411.3,404.22 L411.3,403.29 L411.3,402.36 L411.3,401.43 L411.3,400.5 L411.3,399.57 L411.3,398.64 L411.3,397.71 L411.3,396.78 L411.3,395.85 L411.3,394.92 L411.3,393.99 L411.3,393.06 L411.3,392.13 L411.3,391.2 L411.3,390.27 L411.3,389.34 L411.3,388.41 L411.3,387.48 L411.3,386.55 L411.3,385.62 L411.3,384.69 L411.3,383.76 L411.3,382.83 L411.3,381.9 L411.3,380.97 L411.3,380.04 L411.3,379.11 L411.3,378.18 L411.3,377.25 L411.3,376.32 L411.3,375.39 L411.3,374.46 L411.3,373.53 L411.3,372.6 L411.3,371.67 L411.3,370.74 L411.3,369.81 L411.3,368.88 L411.3,367.95 L411.3,367.02 L411.3,366.09 L411.3,365.16 L411.3,364.23 L411.3,363.3 L411.3,362.37 L411.3,361.44 L411.3,360.51 L411.3,359.58 L411.3,358.65 L411.3,357.72 L411.3,356.79 L411.3,355.86 L411.3,354.93 L411.3,354" fill="none" stroke="#2e8b22" stroke-width="1.8" stroke-dasharray="4,2"/>
</g>
<rect x="411.3" y="354.4" width="83.4" height="326.1" fill="none" stroke="#000" stroke-width="1.4"/>
<path d="M494.7,670.2 h-4 M494.7,651.6 h-4 M494.7,633 h-4 M494.7,614.4 h-4 M494.7,595.8 h-4 M494.7,577.2 h-4 M494.7,558.6 h-4 M494.7,540 h-4 M494.7,521.4 h-4 M494.7,502.8 h-4 M494.7,484.2 h-4 M494.7,465.6 h-4 M494.7,447 h-4 M494.7,428.4 h-4 M494.7,409.8 h-4 M494.7,391.2 h-4 M494.7,372.6 h-4" stroke="#000" stroke-width="1"/>
<rect x="423" y="360.6" width="63.8" height="110.2" rx="3" fill="#fff" fill-opacity="0.75" stroke="#d0d0d0" stroke-width="1"/>
<line x1="427.3" y1="369.8" x2="445.6" y2="369.8" stroke="#000" stroke-width="2"/>
<text x="455.3" y="374.2" font-size="13" font-weight="bold">Total</text>
<line x1="427.3" y1="387.6" x2="445.6" y2="387.6" stroke="#2020ff" stroke-width="2"/>
<text x="455.3" y="392" font-size="13" font-weight="bold">C</text>
<line x1="427.3" y1="405.4" x2="445.6" y2="405.4" stroke="#bcc62a" stroke-width="2"/>
<text x="455.3" y="409.8" font-size="13" font-weight="bold">N</text>
<line x1="427.3" y1="423.2" x2="445.6" y2="423.2" stroke="#52dccc" stroke-width="2"/>
<text x="455.3" y="427.6" font-size="13" font-weight="bold">H</text>
<line x1="427.3" y1="441" x2="445.6" y2="441" stroke="#ff2a2a" stroke-width="2"/>
<text x="455.3" y="445.4" font-size="13" font-weight="bold">Pb</text>
<line x1="427.3" y1="458.8" x2="445.6" y2="458.8" stroke="#2e8b22" stroke-width="2" stroke-dasharray="4,2.5"/>
<text x="455.3" y="463.2" font-size="13" font-weight="bold">I</text>
<text x="453" y="704.7" font-size="16" text-anchor="middle">DOS</text>
<g clip-path="url(#clipd1)">
<path d="M505.2,681.36 L505.2,680.43 L505.2,679.5 L505.2,678.57 L505.2,677.64 L505.2,676.71 L505.2,675.78 L505.2,674.85 L505.2,673.92 L505.2,672.99 L505.2,672.06 L505.2,671.13 L505.2,670.2 L505.2,669.27 L505.2,668.34 L505.2,667.41 L505.2,666.48 L505.2,665.55 L505.2,664.62 L505.2,663.69 L505.2,662.76 L505.2,661.83 L505.2,660.9 L505.2,659.97 L505.2,659.04 L505.2,658.11 L505.2,657.18 L505.2,656.25 L505.2,655.32 L505.2,654.39 L505.2,653.46 L505.2,652.53 L505.2,651.6 L505.2,650.67 L505.2,649.74 L505.2,648.81 L505.2,647.88 L505.2,646.95 L505.2,646.02 L505.2,645.09 L505.2,644.16 L505.2,643.23 L505.2,642.3 L505.2,641.37 L505.2,640.44 L505.2,639.51 L505.2,638.58 L505.2,637.65 L505.2,636.72 L505.2,635.79 L505.2,634.86 L505.2,633.93 L505.2,633 L505.2,632.07 L505.2,631.14 L505.2,630.21 L505.2,629.28 L505.2,628.35 L505.2,627.42 L505.2,626.49 L505.2,625.56 L505.2,624.63 L505.2,623.7 L505.2,622.77 L505.2,621.84 L505.2,620.91 L505.2,619.98 L505.2,619.05 L505.2,618.12 L505.2,617.19 L505.2,616.26 L505.2,615.33 L505.2,614.4 L505.2,613.47 L505.2,612.54 L505.2,611.61 L505.2,610.68 L505.2,609.75 L505.2,608.82 L505.2,607.89 L505.2,606.96 L505.2,606.03 L505.2,605.1 L505.2,604.17 L505.2,603.24 L505.2,602.31 L505.2,601.38 L505.2,600.45 L505.2,599.52 L505.2,598.59 L505.2,597.66 L505.2,596.73 L505.2,595.8 L505.2,594.87 L505.2,593.94 L505.2,593.01 L505.2,592.08 L505.2,591.15 L505.2,590.22 L505.2,589.29 L505.2,588.36 L505.2,587.43 L505.2,586.5 L505.2,585.57 L505.2,584.64 L505.2,583.71 L505.2,582.78 L505.2,581.85 L505.2,580.92 L505.2,579.99 L505.2,579.06 L505.2,578.13 L505.2,577.2 L505.2,576.27 L505.2,575.34 L505.2,574.41 L505.2,573.48 L505.2,572.55 L505.2,571.62 L505.2,570.69 L505.2,569.76 L505.2,568.83 L505.2,567.9 L505.2,566.97 L505.2,566.04 L505.2,565.11 L505.2,564.18 L505.2,563.25 L505.2,562.32 L505.2,561.39 L505.2,560.46 L505.2,559.53 L505.2,558.6 L505.2,557.67 L505.2,556.74 L505.2,555.81 L505.2,554.88 L505.2,553.95 L505.2,553.02 L505.2,552.09 L505.2,551.16 L505.2,550.23 L505.2,549.3 L505.2,548.37 L505.2,547.44 L505.2,546.51 L505.2,545.58 L505.2,544.65 L505.2,543.72 L505.2,542.79 L505.2,541.86 L505.2,540.93 L505.2,540 L505.2,539.07 L505.2,538.14 L505.2,537.21 L505.2,536.28 L505.2,535.35 L505.2,534.42 L505.2,533.49 L505.2,532.56 L505.2,531.63 L505.2,530.7 L505.2,529.77 L505.2,528.84 L505.2,527.91 L505.2,526.98 L505.2,526.05 L505.2,525.12 L505.2,524.19 L505.2,523.26 L505.2,522.33 L505.2,521.4 L505.2,520.47 L505.2,519.54 L505.2,518.61 L505.2,517.68 L505.2,516.75 L505.2,515.82 L505.2,514.89 L505.2,513.96 L505.2,513.03 L505.2,512.1 L505.2,511.17 L505.2,510.24 L505.2,509.31 L505.2,508.38 L505.2,507.45 L505.2,506.52 L505.2,505.59 L505.2,504.66 L505.2,503.73 L505.2,502.8 L505.2,501.87 L505.2,500.94 L505.2,500.01 L505.2,499.08 L505.2,498.15 L505.2,497.22 L505.2,496.29 L505.2,495.36 L505.2,494.43 L505.2,493.5 L505.2,492.57 L505.2,491.64 L505.2,490.71 L505.2,489.78 L505.2,488.85 L505.2,487.92 L505.2,486.99 L505.2,486.06 L505.2,485.13 L505.2,484.2 L505.2,483.27 L505.2,482.34 L505.2,481.41 L505.2,480.48 L505.2,479.55 L505.2,478.62 L505.2,477.69 L505.2,476.76 L505.2,475.83 L505.2,474.9 L505.2,473.97 L505.2,473.04 L505.2,472.11 L505.2,471.18 L505.2,470.25 L505.2,469.32 L505.2,468.39 L505.2,467.46 L505.2,466.53 L505.2,465.6 L505.39,464.67 L505.56,463.74 L505.97,462.81 L506.39,461.88 L506.4,460.95 L506.38,460.02 L506.53,459.09 L506.85,458.16 L506.81,457.23 L506.88,456.3 L506.95,455.37 L507.35,454.44 L507.59,453.51 L508.08,452.58 L507.66,451.65 L507.42,450.72 L507.43,449.79 L507.71,448.86 L507.61,447.93 L508.25,447 L507.64,446.07 L507.39,445.14 L507.2,444.21 L507.06,443.28 L506.94,442.35 L506.81,441.42 L506.61,440.49 L506.4,439.56 L506.43,438.63 L506.47,437.7 L506.34,436.77 L505.78,435.84 L505.66,434.91 L505.6,433.98 L505.58,433.05 L505.56,432.12 L505.57,431.19 L505.58,430.26 L505.57,429.33 L505.54,428.4 L505.5,427.47 L505.49,426.54 L505.47,425.61 L505.5,424.68 L505.5,423.75 L505.5,422.82 L505.45,421.89 L505.43,420.96 L505.43,420.03 L505.4,419.1 L505.38,418.17 L505.35,417.24 L505.37,416.31 L505.36,415.38 L505.34,414.45 L505.31,413.52 L505.3,412.59 L505.28,411.66 L505.27,410.73 L505.25,409.8 L505.24,408.87 L505.23,407.94 L505.22,407.01 L505.2,406.08 L505.66,405.15 L506.24,404.22 L506.56,403.29 L507,402.36 L507.31,401.43 L507.57,400.5 L507.43,399.57 L507.23,398.64 L507.43,397.71 L507.4,396.78 L507.88,395.85 L507.75,394.92 L508.18,393.99 L508.16,393.06 L508.23,392.13 L507.87,391.2 L507.68,390.27 L507.65,389.34 L507.68,388.41 L507.98,387.48 L507.7,386.55 L507.68,385.62 L507.69,384.69 L507.81,383.76 L507.91,382.83 L507.83,381.9 L507.7,380.97 L507.69,380.04 L507.8,379.11 L507.75,378.18 L507.65,377.25 L507.65,376.32 L507.64,375.39 L507.69,374.46 L507.73,373.53 L507.68,372.6 L507.64,371.67 L507.62,370.74 L507.62,369.81 L507.64,368.88 L508.06,367.95 L507.91,367.02 L507.62,366.09 L507.63,365.16 L508.34,364.23 L508.53,363.3 L507.91,362.37 L507.42,361.44 L507.43,360.51 L508.09,359.58 L508.67,358.65 L508.2,357.72 L508.07,356.79 L508.16,355.86 L508.49,354.93 L508.19,354 L505.2,354 L505.2,681.36 Z" fill="#52dccc" opacity="0.8" stroke="#52dccc" stroke-width="1.5"/>
<path d="M505.2,681.36 L505.2,680.43 L505.2,679.5 L505.2,678.57 L505.2,677.64 L505.2,676.71 L505.2,675.78 L505.2,674.85 L505.2,673.92 L505.2,672.99 L505.2,672.06 L505.2,671.13 L505.2,670.2 L505.2,669.27 L505.2,668.34 L505.2,667.41 L505.2,666.48 L505.2,665.55 L505.2,664.62 L505.2,663.69 L505.2,662.76 L505.2,661.83 L505.2,660.9 L505.2,659.97 L505.2,659.04 L505.2,658.11 L505.2,657.18 L505.2,656.25 L505.2,655.32 L505.2,654.39 L505.2,653.46 L505.2,652.53 L505.2,651.6 L505.2,650.67 L505.2,649.74 L505.2,648.81 L505.2,647.88 L505.2,646.95 L505.2,646.02 L505.2,645.09 L505.2,644.16 L505.2,643.23 L505.2,642.3 L505.2,641.37 L505.2,640.44 L505.2,639.51 L505.2,638.58 L505.2,637.65 L505.2,636.72 L505.2,635.79 L505.2,634.86 L505.2,633.93 L505.2,633 L505.2,632.07 L505.2,631.14 L505.2,630.21 L505.2,629.28 L505.2,628.35 L505.2,627.42 L505.2,626.49 L505.2,625.56 L505.2,624.63 L505.2,623.7 L505.2,622.77 L505.2,621.84 L505.2,620.91 L505.2,619.98 L505.2,619.05 L505.2,618.12 L505.2,617.19 L505.2,616.26 L505.2,615.33 L505.2,614.4 L505.2,613.47 L505.2,612.54 L505.2,611.61 L505.2,610.68 L505.2,609.75 L505.2,608.82 L505.2,607.89 L505.2,606.96 L505.2,606.03 L505.2,605.1 L505.2,604.17 L505.2,603.24 L505.2,602.31 L505.2,601.38 L505.2,600.45 L505.2,599.52 L505.2,598.59 L505.2,597.66 L505.2,596.73 L505.2,595.8 L505.2,594.87 L505.2,593.94 L505.2,593.01 L505.2,592.08 L505.2,591.15 L505.2,590.22 L505.2,589.29 L505.2,588.36 L505.2,587.43 L505.2,586.5 L505.2,585.57 L505.2,584.64 L505.2,583.71 L505.2,582.78 L505.2,581.85 L505.2,580.92 L505.2,579.99 L505.2,579.06 L505.2,578.13 L505.2,577.2 L505.2,576.27 L505.2,575.34 L505.2,574.41 L505.2,573.48 L505.2,572.55 L505.2,571.62 L505.2,570.69 L505.2,569.76 L505.2,568.83 L505.2,567.9 L505.2,566.97 L505.2,566.04 L505.2,565.11 L505.2,564.18 L505.2,563.25 L505.2,562.32 L505.2,561.39 L505.2,560.46 L505.2,559.53 L505.2,558.6 L505.2,557.67 L505.2,556.74 L505.2,555.81 L505.2,554.88 L505.2,553.95 L505.2,553.02 L505.2,552.09 L505.2,551.16 L505.2,550.23 L505.2,549.3 L505.2,548.37 L505.2,547.44 L505.2,546.51 L505.2,545.58 L505.2,544.65 L505.2,543.72 L505.2,542.79 L505.2,541.86 L505.2,540.93 L505.2,540 L505.2,539.07 L505.2,538.14 L505.2,537.21 L505.2,536.28 L505.2,535.35 L505.2,534.42 L505.2,533.49 L505.2,532.56 L505.2,531.63 L505.2,530.7 L505.2,529.77 L505.2,528.84 L505.2,527.91 L505.2,526.98 L505.2,526.05 L505.2,525.12 L505.2,524.19 L505.2,523.26 L505.2,522.33 L505.2,521.4 L505.2,520.47 L505.2,519.54 L505.2,518.61 L505.2,517.68 L505.2,516.75 L505.2,515.82 L505.2,514.89 L505.2,513.96 L505.2,513.03 L505.2,512.1 L505.2,511.17 L505.2,510.24 L505.2,509.31 L505.2,508.38 L505.2,507.45 L505.2,506.52 L505.2,505.59 L505.2,504.66 L505.2,503.73 L505.2,502.8 L505.2,501.87 L505.2,500.94 L505.2,500.01 L505.2,499.08 L505.2,498.15 L505.2,497.22 L505.2,496.29 L505.2,495.36 L505.2,494.43 L505.2,493.5 L505.2,492.57 L505.2,491.64 L505.2,490.71 L505.2,489.78 L505.2,488.85 L505.2,487.92 L505.2,486.99 L505.2,486.06 L505.2,485.13 L505.2,484.2 L505.2,483.27 L505.2,482.34 L505.2,481.41 L505.2,480.48 L505.2,479.55 L505.2,478.62 L505.2,477.69 L505.2,476.76 L505.2,475.83 L505.2,474.9 L505.2,473.97 L505.2,473.04 L505.53,472.11 L506.1,471.18 L506.44,470.25 L506.71,469.32 L507.45,468.39 L507.82,467.46 L508.03,466.53 L508.51,465.6 L508.19,464.67 L508.25,463.74 L508.46,462.81 L509.23,461.88 L508.98,460.95 L509.19,460.02 L509.4,459.09 L509.76,458.16 L509.78,457.23 L509.67,456.3 L510.29,455.37 L510.9,454.44 L511.81,453.51 L511.72,452.58 L511.44,451.65 L510.92,450.72 L510.65,449.79 L510.7,448.86 L511.19,447.93 L510.64,447 L510.66,446.07 L509.97,445.14 L509.79,444.21 L509.28,443.28 L509.14,442.35 L508.49,441.42 L508.16,440.49 L507.99,439.56 L507.87,438.63 L507.8,437.7 L508.31,436.77 L508.07,435.84 L507.76,434.91 L507.04,433.98 L506.83,433.05 L506.72,432.12 L506.86,431.19 L506.67,430.26 L506.4,429.33 L506.48,428.4 L506.52,427.47 L506.42,426.54 L506.18,425.61 L506.25,424.68 L506.36,423.75 L506.44,422.82 L506.11,421.89 L505.81,420.96 L505.82,420.03 L505.81,419.1 L505.65,418.17 L505.5,417.24 L505.46,416.31 L505.45,415.38 L505.45,414.45 L505.38,413.52 L505.34,412.59 L505.3,411.66 L505.26,410.73 L505.2,409.8 L505.58,408.87 L506.15,407.94 L507.04,407.01 L507.33,406.08 L507.45,405.15 L508.22,404.22 L511.08,403.29 L512.75,402.36 L513.18,401.43 L514.51,400.5 L516.59,399.57 L517.53,398.64 L515.04,397.71 L512.7,396.78 L512.2,395.85 L512.73,394.92 L513.64,393.99 L512.82,393.06 L511.78,392.13 L510.41,391.2 L510.28,390.27 L510.33,389.34 L510.58,388.41 L510.12,387.48 L510.05,386.55 L509.46,385.62 L509.5,384.69 L509.78,383.76 L510.34,382.83 L509.76,381.9 L509.31,380.97 L509.27,380.04 L509.18,379.11 L509.4,378.18 L509.16,377.25 L509.13,376.32 L508.98,375.39 L509.34,374.46 L509.87,373.53 L510,372.6 L509.31,371.67 L509.03,370.74 L508.82,369.81 L508.9,368.88 L509.22,367.95 L509.28,367.02 L509.08,366.09 L508.69,365.16 L508.57,364.23 L508.48,363.3 L508.87,362.37 L509.03,361.44 L508.37,360.51 L508.03,359.58 L508.17,358.65 L508.35,357.72 L509,356.79 L508.92,355.86 L508.81,354.93 L508.36,354" fill="none" stroke="#c2c82a" stroke-width="1.6"/>
<path d="M505.2,681.36 L505.2,680.43 L505.2,679.5 L505.2,678.57 L505.2,677.64 L505.2,676.71 L505.2,675.78 L505.2,674.85 L505.2,673.92 L505.2,672.99 L505.2,672.06 L505.2,671.13 L505.2,670.2 L505.2,669.27 L505.2,668.34 L505.2,667.41 L505.2,666.48 L505.2,665.55 L505.2,664.62 L505.2,663.69 L505.2,662.76 L505.2,661.83 L505.2,660.9 L505.2,659.97 L505.2,659.04 L505.2,658.11 L505.2,657.18 L505.2,656.25 L505.2,655.32 L505.2,654.39 L505.2,653.46 L505.2,652.53 L505.2,651.6 L505.2,650.67 L505.2,649.74 L505.2,648.81 L505.2,647.88 L505.2,646.95 L505.2,646.02 L505.2,645.09 L505.2,644.16 L505.2,643.23 L505.2,642.3 L505.2,641.37 L505.2,640.44 L505.2,639.51 L505.2,638.58 L505.2,637.65 L505.2,636.72 L505.2,635.79 L505.2,634.86 L505.2,633.93 L505.2,633 L505.2,632.07 L505.2,631.14 L505.2,630.21 L505.2,629.28 L505.2,628.35 L505.2,627.42 L505.2,626.49 L505.2,625.56 L505.2,624.63 L505.2,623.7 L505.2,622.77 L505.2,621.84 L505.2,620.91 L505.2,619.98 L505.2,619.05 L505.2,618.12 L505.2,617.19 L505.2,616.26 L505.2,615.33 L505.2,614.4 L505.2,613.47 L505.2,612.54 L505.2,611.61 L505.2,610.68 L505.2,609.75 L505.2,608.82 L505.2,607.89 L505.2,606.96 L505.2,606.03 L505.2,605.1 L505.2,604.17 L505.2,603.24 L505.2,602.31 L505.2,601.38 L505.2,600.45 L505.2,599.52 L505.2,598.59 L505.2,597.66 L505.2,596.73 L505.2,595.8 L505.2,594.87 L505.2,593.94 L505.2,593.01 L505.2,592.08 L505.2,591.15 L505.2,590.22 L505.2,589.29 L505.2,588.36 L505.2,587.43 L505.2,586.5 L505.2,585.57 L505.2,584.64 L505.2,583.71 L505.2,582.78 L505.2,581.85 L505.2,580.92 L505.2,579.99 L505.2,579.06 L505.2,578.13 L505.2,577.2 L505.2,576.27 L505.2,575.34 L505.2,574.41 L505.2,573.48 L505.2,572.55 L505.2,571.62 L505.2,570.69 L505.2,569.76 L505.2,568.83 L505.2,567.9 L505.2,566.97 L505.2,566.04 L505.2,565.11 L505.2,564.18 L505.2,563.25 L505.2,562.32 L505.2,561.39 L505.2,560.46 L505.2,559.53 L505.2,558.6 L505.2,557.67 L505.2,556.74 L505.2,555.81 L505.2,554.88 L505.2,553.95 L505.2,553.02 L505.2,552.09 L505.2,551.16 L505.2,550.23 L505.2,549.3 L505.2,548.37 L505.2,547.44 L505.2,546.51 L505.2,545.58 L505.2,544.65 L505.2,543.72 L505.2,542.79 L505.2,541.86 L505.2,540.93 L505.2,540 L505.2,539.07 L505.2,538.14 L505.2,537.21 L505.2,536.28 L505.2,535.35 L505.2,534.42 L505.2,533.49 L505.2,532.56 L505.2,531.63 L505.2,530.7 L505.2,529.77 L505.2,528.84 L505.2,527.91 L505.2,526.98 L505.2,526.05 L505.2,525.12 L505.2,524.19 L505.2,523.26 L505.2,522.33 L505.2,521.4 L505.2,520.47 L505.2,519.54 L505.2,518.61 L505.2,517.68 L505.2,516.75 L505.2,515.82 L505.2,514.89 L505.2,513.96 L505.2,513.03 L505.2,512.1 L505.2,511.17 L505.2,510.24 L505.2,509.31 L505.2,508.38 L505.2,507.45 L505.2,506.52 L505.2,505.59 L505.2,504.66 L505.2,503.73 L505.2,502.8 L505.2,501.87 L505.2,500.94 L505.2,500.01 L505.2,499.08 L505.2,498.15 L505.2,497.22 L505.2,496.29 L505.2,495.36 L505.2,494.43 L505.2,493.5 L505.2,492.57 L505.2,491.64 L505.2,490.71 L505.2,489.78 L505.2,488.85 L505.2,487.92 L505.2,486.99 L505.2,486.06 L505.2,485.13 L505.2,484.2 L505.2,483.27 L505.2,482.34 L505.2,481.41 L505.2,480.48 L505.2,479.55 L505.2,478.62 L505.2,477.69 L505.2,476.76 L505.2,475.83 L505.2,474.9 L505.2,473.97 L505.2,473.04 L505.2,472.11 L505.2,471.18 L505.2,470.25 L505.2,469.32 L505.43,468.39 L506.02,467.46 L506.29,466.53 L506.48,465.6 L506.68,464.67 L506.93,463.74 L507.26,462.81 L507.62,461.88 L507.71,460.95 L507.73,460.02 L508,459.09 L508.42,458.16 L508.86,457.23 L508.8,456.3 L509.46,455.37 L509.68,454.44 L509.28,453.51 L508.26,452.58 L508.28,451.65 L508.16,450.72 L508.24,449.79 L508.6,448.86 L509.43,447.93 L509.17,447 L507.99,446.07 L507.71,445.14 L507.73,444.21 L507.59,443.28 L507.35,442.35 L507.05,441.42 L506.94,440.49 L506.83,439.56 L506.69,438.63 L506.53,437.7 L506.42,436.77 L506.28,435.84 L506.27,434.91 L506.26,433.98 L506.22,433.05 L506.16,432.12 L506.08,431.19 L506.06,430.26 L506.02,429.33 L505.99,428.4 L506.2,427.47 L506.54,426.54 L506.18,425.61 L505.84,424.68 L505.88,423.75 L505.77,422.82 L505.78,421.89 L505.76,420.96 L505.63,420.03 L505.6,419.1 L505.53,418.17 L505.44,417.24 L505.38,416.31 L505.31,415.38 L505.26,414.45 L505.2,413.52 L505.2,412.59 L505.2,411.66 L505.2,410.73 L505.2,409.8 L505.2,408.87 L505.2,407.94 L505.2,407.01 L505.2,406.08 L505.2,405.15 L505.2,404.22 L505.2,403.29 L505.2,402.36 L505.2,401.43 L505.2,400.5 L505.2,399.57 L505.2,398.64 L505.2,397.71 L505.2,396.78 L505.2,395.85 L505.2,394.92 L505.2,393.99 L505.2,393.06 L505.2,392.13 L505.2,391.2 L505.2,390.27 L505.2,389.34 L505.2,388.41 L505.2,387.48 L505.2,386.55 L505.2,385.62 L505.2,384.69 L505.2,383.76 L505.2,382.83 L505.2,381.9 L505.2,380.97 L505.2,380.04 L505.2,379.11 L505.2,378.18 L505.2,377.25 L505.2,376.32 L505.2,375.39 L505.2,374.46 L505.2,373.53 L505.2,372.6 L505.2,371.67 L505.2,370.74 L505.2,369.81 L505.2,368.88 L505.2,367.95 L505.2,367.02 L505.2,366.09 L505.2,365.16 L505.2,364.23 L505.2,363.3 L505.2,362.37 L505.2,361.44 L505.2,360.51 L505.2,359.58 L505.2,358.65 L505.2,357.72 L505.2,356.79 L505.2,355.86 L505.2,354.93 L505.2,354" fill="none" stroke="#2020ff" stroke-width="1.6"/>
<path d="M505.2,681.36 L505.2,680.43 L505.2,679.5 L505.2,678.57 L505.2,677.64 L505.2,676.71 L505.2,675.78 L505.2,674.85 L505.2,673.92 L505.2,672.99 L505.2,672.06 L505.2,671.13 L505.2,670.2 L505.2,669.27 L505.2,668.34 L505.2,667.41 L505.2,666.48 L505.2,665.55 L505.2,664.62 L505.2,663.69 L505.2,662.76 L505.2,661.83 L505.2,660.9 L505.2,659.97 L505.2,659.04 L505.2,658.11 L505.2,657.18 L505.2,656.25 L505.2,655.32 L505.2,654.39 L505.2,653.46 L505.2,652.53 L505.2,651.6 L505.2,650.67 L505.2,649.74 L505.2,648.81 L505.2,647.88 L505.2,646.95 L505.2,646.02 L505.2,645.09 L505.2,644.16 L505.2,643.23 L505.2,642.3 L505.2,641.37 L505.2,640.44 L505.2,639.51 L505.2,638.58 L505.2,637.65 L505.2,636.72 L505.2,635.79 L505.2,634.86 L505.2,633.93 L505.2,633 L505.2,632.07 L505.2,631.14 L505.2,630.21 L505.2,629.28 L505.2,628.35 L505.2,627.42 L505.2,626.49 L505.2,625.56 L505.2,624.63 L505.2,623.7 L505.2,622.77 L505.2,621.84 L505.2,620.91 L505.2,619.98 L505.2,619.05 L505.2,618.12 L505.2,617.19 L505.2,616.26 L505.2,615.33 L505.2,614.4 L505.2,613.47 L505.2,612.54 L505.2,611.61 L505.2,610.68 L505.2,609.75 L505.2,608.82 L505.2,607.89 L505.2,606.96 L505.2,606.03 L505.2,605.1 L505.2,604.17 L505.2,603.24 L505.2,602.31 L505.2,601.38 L505.2,600.45 L505.2,599.52 L505.2,598.59 L505.2,597.66 L505.2,596.73 L505.2,595.8 L505.2,594.87 L505.2,593.94 L505.2,593.01 L505.2,592.08 L505.2,591.15 L505.2,590.22 L505.2,589.29 L505.2,588.36 L505.2,587.43 L505.2,586.5 L505.2,585.57 L505.2,584.64 L505.2,583.71 L505.2,582.78 L505.2,581.85 L505.2,580.92 L505.2,579.99 L505.2,579.06 L505.2,578.13 L505.2,577.2 L505.2,576.27 L505.2,575.34 L505.2,574.41 L505.2,573.48 L505.2,572.55 L505.2,571.62 L505.2,570.69 L505.2,569.76 L505.2,568.83 L505.2,567.9 L505.2,566.97 L505.2,566.04 L505.2,565.11 L505.2,564.18 L505.2,563.25 L505.2,562.32 L505.2,561.39 L505.2,560.46 L505.2,559.53 L505.2,558.6 L505.2,557.67 L505.2,556.74 L505.2,555.81 L505.2,554.88 L505.2,553.95 L505.2,553.02 L505.2,552.09 L505.2,551.16 L505.2,550.23 L505.2,549.3 L505.2,548.37 L505.2,547.44 L505.2,546.51 L505.2,545.58 L505.2,544.65 L505.2,543.72 L505.2,542.79 L505.2,541.86 L505.2,540.93 L505.2,540 L505.2,539.07 L505.2,538.14 L505.2,537.21 L505.2,536.28 L505.2,535.35 L505.2,534.42 L505.2,533.49 L505.2,532.56 L505.2,531.63 L505.2,530.7 L505.2,529.77 L505.2,528.84 L505.37,527.91 L505.56,526.98 L505.84,526.05 L506.29,525.12 L506.55,524.19 L506.68,523.26 L506.71,522.33 L506.71,521.4 L506.76,520.47 L506.79,519.54 L506.82,518.61 L506.86,517.68 L506.89,516.75 L506.94,515.82 L506.98,514.89 L506.99,513.96 L507.03,513.03 L507.28,512.1 L507.24,511.17 L507.17,510.24 L507.23,509.31 L507.69,508.38 L507.59,507.45 L507.43,506.52 L507.5,505.59 L508.05,504.66 L507.69,503.73 L507.57,502.8 L507.69,501.87 L508.07,500.94 L508.65,500.01 L508.88,499.08 L509.27,498.15 L509.63,497.22 L510.66,496.29 L510.55,495.36 L510.2,494.43 L509.4,493.5 L509.97,492.57 L510.72,491.64 L511.7,490.71 L511.27,489.78 L512.26,488.85 L513.76,487.92 L514.22,486.99 L511.78,486.06 L511.05,485.13 L510.73,484.2 L511.84,483.27 L511.66,482.34 L511.23,481.41 L509.39,480.48 L509.1,479.55 L509.1,478.62 L509.54,477.69 L509.63,476.76 L509.65,475.83 L510.24,474.9 L510.56,473.97 L510.93,473.04 L510.96,472.11 L511.12,471.18 L510.76,470.25 L509.96,469.32 L509.73,468.39 L510.3,467.46 L511.2,466.53 L510.61,465.6 L510.51,464.67 L510.73,463.74 L511.93,462.81 L511.98,461.88 L511.83,460.95 L511,460.02 L511.81,459.09 L513.22,458.16 L514,457.23 L513.59,456.3 L514.01,455.37 L514.22,454.44 L515,453.51 L517.39,452.58 L519.06,451.65 L520.31,450.72 L519.23,449.79 L516.49,448.86 L514.06,447.93 L513.74,447 L513.02,446.07 L511.42,445.14 L510.85,444.21 L510.92,443.28 L510.48,442.35 L509.88,441.42 L509.38,440.49 L508.86,439.56 L508.7,438.63 L508.63,437.7 L508.46,436.77 L508.23,435.84 L507.94,434.91 L507.71,433.98 L507.63,433.05 L507.46,432.12 L507.34,431.19 L507.1,430.26 L507.31,429.33 L506.92,428.4 L506.79,427.47 L506.61,426.54 L506.54,425.61 L506.45,424.68 L506.41,423.75 L506.37,422.82 L506.28,421.89 L506.33,420.96 L506.47,420.03 L506.12,419.1 L506.16,418.17 L506.18,417.24 L505.95,416.31 L506.11,415.38 L506,414.45 L505.78,413.52 L505.54,412.59 L505.56,411.66 L505.56,410.73 L505.48,409.8 L505.4,408.87 L505.33,407.94 L505.27,407.01 L505.2,406.08 L505.2,405.15 L505.2,404.22 L505.2,403.29 L505.2,402.36 L505.2,401.43 L505.2,400.5 L505.2,399.57 L505.2,398.64 L505.2,397.71 L505.2,396.78 L505.2,395.85 L505.2,394.92 L505.2,393.99 L505.2,393.06 L505.2,392.13 L505.2,391.2 L505.2,390.27 L505.2,389.34 L505.2,388.41 L505.2,387.48 L505.2,386.55 L505.2,385.62 L505.2,384.69 L505.2,383.76 L505.2,382.83 L505.2,381.9 L505.2,380.97 L505.2,380.04 L505.2,379.11 L505.2,378.18 L505.2,377.25 L505.2,376.32 L505.2,375.39 L505.2,374.46 L505.2,373.53 L505.2,372.6 L505.2,371.67 L505.2,370.74 L505.2,369.81 L505.2,368.88 L505.2,367.95 L505.2,367.02 L505.2,366.09 L505.2,365.16 L505.2,364.23 L505.2,363.3 L505.2,362.37 L505.2,361.44 L505.2,360.51 L505.2,359.58 L505.2,358.65 L505.2,357.72 L505.2,356.79 L505.2,355.86 L505.2,354.93 L505.2,354" fill="none" stroke="#ff2020" stroke-width="1.7"/>
<path d="M505.2,681.36 L505.2,680.43 L505.2,679.5 L505.2,678.57 L505.2,677.64 L505.2,676.71 L505.2,675.78 L505.2,674.85 L505.2,673.92 L505.2,672.99 L505.2,672.06 L505.2,671.13 L505.2,670.2 L505.2,669.27 L505.2,668.34 L505.2,667.41 L505.2,666.48 L505.2,665.55 L505.2,664.62 L505.2,663.69 L505.2,662.76 L505.2,661.83 L505.2,660.9 L505.2,659.97 L505.2,659.04 L505.2,658.11 L505.2,657.18 L505.2,656.25 L505.2,655.32 L505.2,654.39 L505.2,653.46 L505.2,652.53 L505.2,651.6 L505.2,650.67 L505.2,649.74 L505.2,648.81 L505.2,647.88 L505.2,646.95 L505.2,646.02 L505.2,645.09 L505.2,644.16 L505.2,643.23 L505.2,642.3 L505.2,641.37 L505.2,640.44 L505.2,639.51 L505.2,638.58 L505.2,637.65 L505.2,636.72 L505.2,635.79 L505.2,634.86 L505.2,633.93 L505.2,633 L505.2,632.07 L505.2,631.14 L505.2,630.21 L505.2,629.28 L505.2,628.35 L505.2,627.42 L505.2,626.49 L505.2,625.56 L505.2,624.63 L505.2,623.7 L505.2,622.77 L505.2,621.84 L505.2,620.91 L505.2,619.98 L505.2,619.05 L505.2,618.12 L505.2,617.19 L505.2,616.26 L505.2,615.33 L505.2,614.4 L505.2,613.47 L505.2,612.54 L505.2,611.61 L505.2,610.68 L505.2,609.75 L505.2,608.82 L505.2,607.89 L505.2,606.96 L505.2,606.03 L505.2,605.1 L505.2,604.17 L505.2,603.24 L505.2,602.31 L505.2,601.38 L505.2,600.45 L505.2,599.52 L505.2,598.59 L505.2,597.66 L505.2,596.73 L505.2,595.8 L505.2,594.87 L505.2,593.94 L505.2,593.01 L505.2,592.08 L505.2,591.15 L505.2,590.22 L505.2,589.29 L505.2,588.36 L505.2,587.43 L505.2,586.5 L505.2,585.57 L505.2,584.64 L505.2,583.71 L505.2,582.78 L505.2,581.85 L505.2,580.92 L505.2,579.99 L505.2,579.06 L505.2,578.13 L505.2,577.2 L505.2,576.27 L505.2,575.34 L505.2,574.41 L505.2,573.48 L505.2,572.55 L505.2,571.62 L505.2,570.69 L505.2,569.76 L505.2,568.83 L505.2,567.9 L505.2,566.97 L505.2,566.04 L505.2,565.11 L505.2,564.18 L505.2,563.25 L505.2,562.32 L505.2,561.39 L505.2,560.46 L505.2,559.53 L505.2,558.6 L505.2,557.67 L505.2,556.74 L505.2,555.81 L505.2,554.88 L505.2,553.95 L505.2,553.02 L505.2,552.09 L505.2,551.16 L505.2,550.23 L505.2,549.3 L505.2,548.37 L505.2,547.44 L505.2,546.51 L505.2,545.58 L505.2,544.65 L505.2,543.72 L505.2,542.79 L505.2,541.86 L505.2,540.93 L505.2,540 L505.2,539.07 L505.2,538.14 L505.2,537.21 L505.2,536.28 L505.2,535.35 L505.2,534.42 L505.2,533.49 L505.2,532.56 L505.45,531.63 L505.68,530.7 L505.96,529.77 L506.51,528.84 L507.21,527.91 L507.65,526.98 L507.64,526.05 L509.09,525.12 L510.58,524.19 L512.63,523.26 L514.17,522.33 L515.78,521.4 L517.08,520.47 L519.78,519.54 L523.02,518.61 L526.21,517.68 L527.52,516.75 L530.71,515.82 L533.13,514.89 L537.76,513.96 L540.98,513.03 L537.23,512.1 L528.59,511.17 L523.47,510.24 L519.19,509.31 L516.13,508.38 L515.88,507.45 L514.87,506.52 L515.23,505.59 L524.16,504.66 L533.09,503.73 L540.18,502.8 L536.08,501.87 L534.58,500.94 L533.46,500.01 L533.77,499.08 L540.72,498.15 L547.37,497.22 L553.93,496.29 L564.41,495.36 L555.93,494.43 L547.39,493.5 L544.94,492.57 L540.96,491.64 L534.61,490.71 L528.01,489.78 L525.07,488.85 L527.73,487.92 L532.01,486.99 L538.99,486.06 L544.43,485.13 L533.07,484.2 L521.34,483.27 L519.59,482.34 L519,481.41 L519.14,480.48 L518.7,479.55 L517.64,478.62 L516.85,477.69 L515.77,476.76 L515.16,475.83 L514.56,474.9 L515.65,473.97 L517.23,473.04 L518.86,472.11 L522.51,471.18 L526.68,470.25 L532.87,469.32 L532.76,468.39 L528.38,467.46 L525.69,466.53 L524.1,465.6 L522.45,464.67 L519.86,463.74 L521.34,462.81 L525.62,461.88 L530.91,460.95 L536.29,460.02 L540.88,459.09 L544.15,458.16 L546.53,457.23 L546.24,456.3 L539.9,455.37 L535.5,454.44 L532.79,453.51 L535.63,452.58 L537.53,451.65 L536.56,450.72 L534.46,449.79 L532.56,448.86 L531.28,447.93 L531.68,447 L533.48,446.07 L531.97,445.14 L529.06,444.21 L527.2,443.28 L527.03,442.35 L527.93,441.42 L528.9,440.49 L529.45,439.56 L529.25,438.63 L527.88,437.7 L525.55,436.77 L523.89,435.84 L524.49,434.91 L524.21,433.98 L523.6,433.05 L523.08,432.12 L523.26,431.19 L522.29,430.26 L520.21,429.33 L518.17,428.4 L517.75,427.47 L517.95,426.54 L517.45,425.61 L515.96,424.68 L515.09,423.75 L514.37,422.82 L514.04,421.89 L513.69,420.96 L513.47,420.03 L513.06,419.1 L512.68,418.17 L512.19,417.24 L511.45,416.31 L510.59,415.38 L509.26,414.45 L508.43,413.52 L507.3,412.59 L506.61,411.66 L506.04,410.73 L505.67,409.8 L505.43,408.87 L505.2,407.94 L505.34,407.01 L505.48,406.08 L505.64,405.15 L506.97,404.22 L508.46,403.29 L509.94,402.36 L511.94,401.43 L514.68,400.5 L516.93,399.57 L516.46,398.64 L515.17,397.71 L514.46,396.78 L513.57,395.85 L514.09,394.92 L513.72,393.99 L512.93,393.06 L512.33,392.13 L511.87,391.2 L511.8,390.27 L511.8,389.34 L511.94,388.41 L512.12,387.48 L512.28,386.55 L512.7,385.62 L513.15,384.69 L512.3,383.76 L511.36,382.83 L510.94,381.9 L511.04,380.97 L510.98,380.04 L511.44,379.11 L511.33,378.18 L511.39,377.25 L511.15,376.32 L510.73,375.39 L510.58,374.46 L510.65,373.53 L510.93,372.6 L510.85,371.67 L510.95,370.74 L511.18,369.81 L511.61,368.88 L510.98,367.95 L511.18,367.02 L510.44,366.09 L510.25,365.16 L509.79,364.23 L509.67,363.3 L509.96,362.37 L510.01,361.44 L509.7,360.51 L509.68,359.58 L509.9,358.65 L510.08,357.72 L510.33,356.79 L510.68,355.86 L511.3,354.93 L510.73,354" fill="none" stroke="#000" stroke-width="1.7"/>
<path d="M505.2,681.36 L505.2,680.43 L505.2,679.5 L505.2,678.57 L505.2,677.64 L505.2,676.71 L505.2,675.78 L505.2,674.85 L505.2,673.92 L505.2,672.99 L505.2,672.06 L505.2,671.13 L505.2,670.2 L505.2,669.27 L505.2,668.34 L505.2,667.41 L505.2,666.48 L505.2,665.55 L505.2,664.62 L505.2,663.69 L505.2,662.76 L505.2,661.83 L505.2,660.9 L505.2,659.97 L505.2,659.04 L505.2,658.11 L505.2,657.18 L505.2,656.25 L505.2,655.32 L505.2,654.39 L505.2,653.46 L505.2,652.53 L505.2,651.6 L505.2,650.67 L505.2,649.74 L505.2,648.81 L505.2,647.88 L505.2,646.95 L505.2,646.02 L505.2,645.09 L505.2,644.16 L505.2,643.23 L505.2,642.3 L505.2,641.37 L505.2,640.44 L505.2,639.51 L505.2,638.58 L505.2,637.65 L505.2,636.72 L505.2,635.79 L505.2,634.86 L505.2,633.93 L505.2,633 L505.2,632.07 L505.2,631.14 L505.2,630.21 L505.2,629.28 L505.2,628.35 L505.2,627.42 L505.2,626.49 L505.2,625.56 L505.2,624.63 L505.2,623.7 L505.2,622.77 L505.2,621.84 L505.2,620.91 L505.2,619.98 L505.2,619.05 L505.2,618.12 L505.2,617.19 L505.2,616.26 L505.2,615.33 L505.2,614.4 L505.2,613.47 L505.2,612.54 L505.2,611.61 L505.2,610.68 L505.2,609.75 L505.2,608.82 L505.2,607.89 L505.2,606.96 L505.2,606.03 L505.2,605.1 L505.2,604.17 L505.2,603.24 L505.2,602.31 L505.2,601.38 L505.2,600.45 L505.2,599.52 L505.2,598.59 L505.2,597.66 L505.2,596.73 L505.2,595.8 L505.2,594.87 L505.2,593.94 L505.2,593.01 L505.2,592.08 L505.2,591.15 L505.2,590.22 L505.2,589.29 L505.2,588.36 L505.2,587.43 L505.2,586.5 L505.2,585.57 L505.2,584.64 L505.2,583.71 L505.2,582.78 L505.2,581.85 L505.2,580.92 L505.2,579.99 L505.2,579.06 L505.2,578.13 L505.2,577.2 L505.2,576.27 L505.2,575.34 L505.2,574.41 L505.2,573.48 L505.2,572.55 L505.2,571.62 L505.2,570.69 L505.2,569.76 L505.2,568.83 L505.2,567.9 L505.2,566.97 L505.2,566.04 L505.2,565.11 L505.2,564.18 L505.2,563.25 L505.2,562.32 L505.2,561.39 L505.2,560.46 L505.2,559.53 L505.2,558.6 L505.2,557.67 L505.2,556.74 L505.2,555.81 L505.2,554.88 L505.2,553.95 L505.2,553.02 L505.2,552.09 L505.2,551.16 L505.2,550.23 L505.2,549.3 L505.2,548.37 L505.2,547.44 L505.2,546.51 L505.2,545.58 L505.2,544.65 L505.2,543.72 L505.2,542.79 L505.2,541.86 L505.2,540.93 L505.2,540 L505.2,539.07 L505.2,538.14 L505.2,537.21 L505.2,536.28 L505.2,535.35 L505.2,534.42 L505.2,533.49 L505.2,532.56 L505.42,531.63 L505.64,530.7 L505.89,529.77 L506.33,528.84 L506.85,527.91 L507.16,526.98 L507.18,526.05 L508.51,525.12 L510.01,524.19 L512.03,523.26 L513.36,522.33 L514.43,521.4 L515.04,520.47 L516.88,519.54 L519.61,518.61 L522.95,517.68 L525.07,516.75 L528.61,515.82 L530.69,514.89 L533.76,513.96 L534.97,513.03 L530.91,512.1 L524.06,511.17 L520.56,510.24 L517.59,509.31 L515.21,508.38 L514.97,507.45 L513.73,506.52 L513.59,505.59 L520.45,504.66 L527.63,503.73 L534.44,502.8 L532.41,501.87 L532.06,500.94 L531.11,500.01 L530.53,499.08 L535.08,498.15 L539.22,497.22 L544.31,496.29 L554.42,495.36 L549.65,494.43 L543.68,493.5 L541.68,492.57 L537.06,491.64 L530.08,490.71 L523.66,489.78 L521.12,488.85 L523.84,487.92 L528.56,486.99 L535.93,486.06 L541.25,485.13 L530.14,484.2 L518.94,483.27 L516.88,482.34 L516.25,481.41 L516.67,480.48 L516.9,479.55 L516.47,478.62 L515.91,477.69 L514.71,476.76 L513.73,475.83 L512.83,474.9 L513.56,473.97 L515.06,473.04 L516.97,472.11 L520.83,471.18 L524.96,470.25 L530.17,469.32 L528.93,468.39 L524.18,467.46 L521.59,466.53 L520.61,465.6 L519.98,464.67 L518.38,463.74 L520.05,462.81 L523.7,461.88 L527.46,460.95 L530.77,460.02 L533.76,459.09 L536.84,458.16 L540.4,457.23 L541.95,456.3 L537.09,455.37 L532.74,454.44 L529.23,453.51 L530.35,452.58 L531.11,451.65 L530.59,450.72 L529.98,449.79 L529.59,448.86 L529.14,447.93 L529.35,447 L529.96,446.07 L527.44,445.14 L524.35,444.21 L522.95,443.28 L523.58,442.35 L525.36,441.42 L526.93,440.49 L527.37,439.56 L526.38,438.63 L524.14,437.7 L521.56,436.77 L520.24,435.84 L521.35,434.91 L521.98,433.98 L522.04,433.05 L521.58,432.12 L521.19,431.19 L519.55,430.26 L517.3,429.33 L515.61,428.4 L515.65,427.47 L516.39,426.54 L516.38,425.61 L515.07,424.68 L514,423.75 L512.95,422.82 L512.35,421.89 L512.01,420.96 L512.05,420.03 L512.06,419.1 L512.01,418.17 L511.62,417.24 L510.79,416.31 L509.78,415.38 L508.49,414.45 L507.79,413.52 L506.93,412.59 L506.42,411.66 L505.96,410.73 L505.64,409.8 L505.41,408.87 L505.2,407.94 L505.31,407.01 L505.43,406.08 L505.56,405.15 L506.73,404.22 L508.14,403.29 L509.56,402.36 L511.28,401.43 L513.35,400.5 L514.79,399.57 L514.21,398.64 L513.34,397.71 L513.14,396.78 L512.74,395.85 L513.37,394.92 L512.91,393.99 L511.88,393.06 L511.05,392.13 L510.54,391.2 L510.57,390.27 L510.83,389.34 L511.24,388.41 L511.56,387.48 L511.63,386.55 L511.72,385.62 L511.76,384.69 L510.89,383.76 L510.19,382.83 L510.07,381.9 L510.41,380.97 L510.51,380.04 L510.88,379.11 L510.56,378.18 L510.33,377.25 L509.97,376.32 L509.67,375.39 L509.74,374.46 L510.04,373.53 L510.46,372.6 L510.36,371.67 L510.26,370.74 L510.19,369.81 L510.35,368.88 L509.85,367.95 L510.22,367.02 L509.83,366.09 L509.82,365.16 L509.41,364.23 L509.15,363.3 L509.19,362.37 L509.07,361.44 L508.82,360.51 L508.93,359.58 L509.33,358.65 L509.66,357.72 L509.9,356.79 L510.07,355.86 L510.34,354.93 L509.67,354" fill="none" stroke="#2e8b22" stroke-width="1.8" stroke-dasharray="4,2"/>
</g>
<rect x="505.2" y="354.4" width="84.1" height="326.1" fill="none" stroke="#000" stroke-width="1.4"/>
<path d="M589.3,670.2 h-4 M589.3,651.6 h-4 M589.3,633 h-4 M589.3,614.4 h-4 M589.3,595.8 h-4 M589.3,577.2 h-4 M589.3,558.6 h-4 M589.3,540 h-4 M589.3,521.4 h-4 M589.3,502.8 h-4 M589.3,484.2 h-4 M589.3,465.6 h-4 M589.3,447 h-4 M589.3,428.4 h-4 M589.3,409.8 h-4 M589.3,391.2 h-4 M589.3,372.6 h-4" stroke="#000" stroke-width="1"/>
<rect x="516.9" y="360.6" width="63.8" height="110.2" rx="3" fill="#fff" fill-opacity="0.75" stroke="#d0d0d0" stroke-width="1"/>
<line x1="521.2" y1="369.8" x2="539.5" y2="369.8" stroke="#000" stroke-width="2"/>
<text x="549.2" y="374.2" font-size="13" font-weight="bold">Total</text>
<line x1="521.2" y1="387.6" x2="539.5" y2="387.6" stroke="#2020ff" stroke-width="2"/>
<text x="549.2" y="392" font-size="13" font-weight="bold">C</text>
<line x1="521.2" y1="405.4" x2="539.5" y2="405.4" stroke="#bcc62a" stroke-width="2"/>
<text x="549.2" y="409.8" font-size="13" font-weight="bold">N</text>
<line x1="521.2" y1="423.2" x2="539.5" y2="423.2" stroke="#52dccc" stroke-width="2"/>
<text x="549.2" y="427.6" font-size="13" font-weight="bold">H</text>
<line x1="521.2" y1="441" x2="539.5" y2="441" stroke="#ff2a2a" stroke-width="2"/>
<text x="549.2" y="445.4" font-size="13" font-weight="bold">Pb</text>
<line x1="521.2" y1="458.8" x2="539.5" y2="458.8" stroke="#2e8b22" stroke-width="2" stroke-dasharray="4,2.5"/>
<text x="549.2" y="463.2" font-size="13" font-weight="bold">I</text>
<text x="547.25" y="704.7" font-size="16" text-anchor="middle">DOS</text>
<g clip-path="url(#clipd2)">
<path d="M599.7,681.36 L599.7,680.43 L599.7,679.5 L599.7,678.57 L599.7,677.64 L599.7,676.71 L599.7,675.78 L599.7,674.85 L599.7,673.92 L599.7,672.99 L599.7,672.06 L599.7,671.13 L599.7,670.2 L599.7,669.27 L599.7,668.34 L599.7,667.41 L599.7,666.48 L599.7,665.55 L599.7,664.62 L599.7,663.69 L599.7,662.76 L599.7,661.83 L599.7,660.9 L599.7,659.97 L599.7,659.04 L599.7,658.11 L599.7,657.18 L599.7,656.25 L599.7,655.32 L599.7,654.39 L599.7,653.46 L599.7,652.53 L599.7,651.6 L599.7,650.67 L599.7,649.74 L599.7,648.81 L599.7,647.88 L599.7,646.95 L599.7,646.02 L599.7,645.09 L599.7,644.16 L599.7,643.23 L599.7,642.3 L599.7,641.37 L599.7,640.44 L599.7,639.51 L599.7,638.58 L599.7,637.65 L599.7,636.72 L599.7,635.79 L599.7,634.86 L599.7,633.93 L599.7,633 L599.7,632.07 L599.7,631.14 L599.7,630.21 L599.7,629.28 L599.7,628.35 L599.7,627.42 L599.7,626.49 L599.7,625.56 L599.7,624.63 L599.7,623.7 L599.7,622.77 L599.7,621.84 L599.7,620.91 L599.7,619.98 L599.7,619.05 L599.7,618.12 L599.7,617.19 L599.7,616.26 L599.7,615.33 L599.7,614.4 L599.7,613.47 L599.7,612.54 L599.7,611.61 L599.7,610.68 L599.7,609.75 L599.7,608.82 L599.7,607.89 L599.7,606.96 L599.7,606.03 L599.7,605.1 L599.7,604.17 L599.7,603.24 L599.7,602.31 L599.7,601.38 L599.7,600.45 L599.7,599.52 L599.7,598.59 L599.7,597.66 L599.7,596.73 L599.7,595.8 L599.7,594.87 L599.7,593.94 L599.7,593.01 L599.7,592.08 L599.7,591.15 L599.7,590.22 L599.7,589.29 L599.7,588.36 L599.7,587.43 L599.7,586.5 L599.7,585.57 L599.7,584.64 L599.7,583.71 L599.7,582.78 L599.7,581.85 L599.7,580.92 L599.7,579.99 L599.7,579.06 L599.7,578.13 L599.7,577.2 L599.7,576.27 L599.7,575.34 L599.7,574.41 L599.7,573.48 L599.7,572.55 L599.7,571.62 L599.7,570.69 L599.7,569.76 L599.7,568.83 L599.7,567.9 L599.7,566.97 L599.7,566.04 L599.7,565.11 L599.7,564.18 L599.7,563.25 L599.7,562.32 L599.7,561.39 L599.7,560.46 L599.7,559.53 L599.7,558.6 L599.7,557.67 L599.7,556.74 L599.7,555.81 L599.7,554.88 L599.7,553.95 L599.7,553.02 L599.7,552.09 L599.7,551.16 L599.7,550.23 L599.7,549.3 L599.7,548.37 L599.7,547.44 L599.7,546.51 L599.7,545.58 L599.7,544.65 L599.7,543.72 L599.7,542.79 L599.7,541.86 L599.7,540.93 L599.7,540 L599.7,539.07 L599.7,538.14 L599.7,537.21 L599.7,536.28 L599.7,535.35 L599.7,534.42 L599.7,533.49 L599.7,532.56 L599.7,531.63 L599.7,530.7 L599.7,529.77 L599.7,528.84 L599.7,527.91 L599.7,526.98 L599.7,526.05 L599.7,525.12 L599.7,524.19 L599.7,523.26 L599.7,522.33 L599.7,521.4 L599.7,520.47 L599.7,519.54 L599.7,518.61 L599.7,517.68 L599.7,516.75 L599.7,515.82 L599.7,514.89 L599.7,513.96 L599.7,513.03 L599.7,512.1 L599.7,511.17 L599.7,510.24 L599.7,509.31 L599.7,508.38 L599.7,507.45 L599.7,506.52 L599.7,505.59 L599.7,504.66 L599.7,503.73 L599.7,502.8 L599.7,501.87 L599.7,500.94 L599.7,500.01 L599.7,499.08 L599.7,498.15 L599.7,497.22 L599.7,496.29 L599.7,495.36 L599.7,494.43 L599.7,493.5 L599.7,492.57 L599.7,491.64 L599.7,490.71 L599.7,489.78 L599.7,488.85 L599.7,487.92 L599.7,486.99 L599.7,486.06 L599.7,485.13 L599.7,484.2 L599.7,483.27 L599.7,482.34 L599.7,481.41 L599.7,480.48 L599.7,479.55 L599.7,478.62 L599.7,477.69 L599.7,476.76 L599.7,475.83 L599.7,474.9 L599.7,473.97 L599.7,473.04 L599.7,472.11 L599.7,471.18 L599.7,470.25 L599.7,469.32 L599.7,468.39 L599.7,467.46 L599.7,466.53 L599.7,465.6 L599.7,464.67 L599.7,463.74 L599.7,462.81 L599.7,461.88 L599.97,460.95 L600.35,460.02 L600.66,459.09 L600.96,458.16 L601.27,457.23 L601.91,456.3 L602,455.37 L602.17,454.44 L602.35,453.51 L602.6,452.58 L603.08,451.65 L603.89,450.72 L603.81,449.79 L603.66,448.86 L604.73,447.93 L606.06,447 L604.48,446.07 L603.18,445.14 L602.82,444.21 L602.59,443.28 L602.21,442.35 L601.73,441.42 L601.25,440.49 L600.73,439.56 L600.94,438.63 L601,437.7 L600.96,436.77 L600.81,435.84 L600.64,434.91 L600.64,433.98 L600.64,433.05 L600.71,432.12 L600.77,431.19 L600.65,430.26 L600.65,429.33 L600.54,428.4 L600.54,427.47 L600.55,426.54 L600.48,425.61 L600.48,424.68 L600.48,423.75 L600.5,422.82 L600.44,421.89 L600.47,420.96 L600.8,420.03 L600.61,419.1 L600.68,418.17 L600.36,417.24 L600.37,416.31 L600.44,415.38 L600.43,414.45 L600.33,413.52 L600.33,412.59 L600.37,411.66 L600.36,410.73 L600.25,409.8 L600.34,408.87 L600.2,407.94 L600.18,407.01 L600.18,406.08 L600.2,405.15 L600.18,404.22 L600.13,403.29 L600.07,402.36 L600.06,401.43 L600.09,400.5 L600.08,399.57 L600.05,398.64 L600.05,397.71 L600.03,396.78 L600.01,395.85 L599.97,394.92 L599.96,393.99 L599.95,393.06 L599.96,392.13 L599.95,391.2 L599.93,390.27 L599.91,389.34 L599.89,388.41 L599.86,387.48 L599.84,386.55 L599.82,385.62 L599.81,384.69 L599.79,383.76 L599.78,382.83 L599.77,381.9 L599.75,380.97 L599.73,380.04 L599.71,379.11 L599.7,378.18 L600.77,377.25 L601.39,376.32 L601.91,375.39 L602.19,374.46 L602.24,373.53 L602.31,372.6 L602.49,371.67 L602.67,370.74 L602.61,369.81 L602.61,368.88 L602.53,367.95 L602.43,367.02 L602.28,366.09 L602.16,365.16 L602.07,364.23 L601.97,363.3 L601.82,362.37 L601.7,361.44 L601.59,360.51 L601.5,359.58 L601.42,358.65 L601.28,357.72 L601.1,356.79 L601.28,355.86 L601.41,354.93 L601.17,354 L599.7,354 L599.7,681.36 Z" fill="#52dccc" opacity="0.8" stroke="#52dccc" stroke-width="1.5"/>
<path d="M599.7,681.36 L599.7,680.43 L599.7,679.5 L599.7,678.57 L599.7,677.64 L599.7,676.71 L599.7,675.78 L599.7,674.85 L599.7,673.92 L599.7,672.99 L599.7,672.06 L599.7,671.13 L599.7,670.2 L599.7,669.27 L599.7,668.34 L599.7,667.41 L599.7,666.48 L599.7,665.55 L599.7,664.62 L599.7,663.69 L599.7,662.76 L599.7,661.83 L599.7,660.9 L599.7,659.97 L599.7,659.04 L599.7,658.11 L599.7,657.18 L599.7,656.25 L599.7,655.32 L599.7,654.39 L599.7,653.46 L599.7,652.53 L599.7,651.6 L599.7,650.67 L599.7,649.74 L599.7,648.81 L599.7,647.88 L599.7,646.95 L599.7,646.02 L599.7,645.09 L599.7,644.16 L599.7,643.23 L599.7,642.3 L599.7,641.37 L599.7,640.44 L599.7,639.51 L599.7,638.58 L599.7,637.65 L599.7,636.72 L599.7,635.79 L599.7,634.86 L599.7,633.93 L599.7,633 L599.7,632.07 L599.7,631.14 L599.7,630.21 L599.7,629.28 L599.7,628.35 L599.7,627.42 L599.7,626.49 L599.7,625.56 L599.7,624.63 L599.7,623.7 L599.7,622.77 L599.7,621.84 L599.7,620.91 L599.7,619.98 L599.7,619.05 L599.7,618.12 L599.7,617.19 L599.7,616.26 L599.7,615.33 L599.7,614.4 L599.7,613.47 L599.7,612.54 L599.7,611.61 L599.7,610.68 L599.7,609.75 L599.7,608.82 L599.7,607.89 L599.7,606.96 L599.7,606.03 L599.7,605.1 L599.7,604.17 L599.7,603.24 L599.7,602.31 L599.7,601.38 L599.7,600.45 L599.7,599.52 L599.7,598.59 L599.7,597.66 L599.7,596.73 L599.7,595.8 L599.7,594.87 L599.7,593.94 L599.7,593.01 L599.7,592.08 L599.7,591.15 L599.7,590.22 L599.7,589.29 L599.7,588.36 L599.7,587.43 L599.7,586.5 L599.7,585.57 L599.7,584.64 L599.7,583.71 L599.7,582.78 L599.7,581.85 L599.7,580.92 L599.7,579.99 L599.7,579.06 L599.7,578.13 L599.7,577.2 L599.7,576.27 L599.7,575.34 L599.7,574.41 L599.7,573.48 L599.7,572.55 L599.7,571.62 L599.7,570.69 L599.7,569.76 L599.7,568.83 L599.7,567.9 L599.7,566.97 L599.7,566.04 L599.7,565.11 L599.7,564.18 L599.7,563.25 L599.7,562.32 L599.7,561.39 L599.7,560.46 L599.7,559.53 L599.7,558.6 L599.7,557.67 L599.7,556.74 L599.7,555.81 L599.7,554.88 L599.7,553.95 L599.7,553.02 L599.7,552.09 L599.7,551.16 L599.7,550.23 L599.7,549.3 L599.7,548.37 L599.7,547.44 L599.7,546.51 L599.7,545.58 L599.7,544.65 L599.7,543.72 L599.7,542.79 L599.7,541.86 L599.7,540.93 L599.7,540 L599.7,539.07 L599.7,538.14 L599.7,537.21 L599.7,536.28 L599.7,535.35 L599.7,534.42 L599.7,533.49 L599.7,532.56 L599.7,531.63 L599.7,530.7 L599.7,529.77 L599.7,528.84 L599.7,527.91 L599.7,526.98 L599.7,526.05 L599.7,525.12 L599.7,524.19 L599.7,523.26 L599.7,522.33 L599.7,521.4 L599.7,520.47 L599.7,519.54 L599.7,518.61 L599.7,517.68 L599.7,516.75 L599.7,515.82 L599.7,514.89 L599.7,513.96 L599.7,513.03 L599.7,512.1 L599.7,511.17 L599.7,510.24 L599.7,509.31 L599.7,508.38 L599.7,507.45 L599.7,506.52 L599.7,505.59 L599.7,504.66 L599.7,503.73 L599.7,502.8 L599.7,501.87 L599.7,500.94 L599.7,500.01 L599.7,499.08 L599.7,498.15 L599.7,497.22 L599.7,496.29 L599.7,495.36 L599.7,494.43 L599.7,493.5 L599.7,492.57 L599.7,491.64 L599.7,490.71 L599.7,489.78 L599.7,488.85 L599.7,487.92 L599.7,486.99 L599.7,486.06 L599.7,485.13 L599.7,484.2 L599.7,483.27 L599.7,482.34 L599.7,481.41 L599.7,480.48 L599.7,479.55 L599.7,478.62 L599.7,477.69 L599.7,476.76 L599.7,475.83 L599.7,474.9 L599.7,473.97 L599.7,473.04 L600.1,472.11 L600.93,471.18 L601.51,470.25 L601.71,469.32 L601.77,468.39 L601.94,467.46 L602.41,466.53 L603.43,465.6 L604.38,464.67 L604.4,463.74 L604.74,462.81 L604.93,461.88 L605.71,460.95 L605.45,460.02 L605.5,459.09 L605.14,458.16 L605.45,457.23 L605.3,456.3 L606.02,455.37 L606.47,454.44 L606.24,453.51 L605.63,452.58 L605.73,451.65 L606.38,450.72 L605.37,449.79 L605.22,448.86 L604.84,447.93 L604.92,447 L604.09,446.07 L604.69,445.14 L604.88,444.21 L604.25,443.28 L603.32,442.35 L603.14,441.42 L603.26,440.49 L603.56,439.56 L603.56,438.63 L602.95,437.7 L602.77,436.77 L602.81,435.84 L602.98,434.91 L602.91,433.98 L602.8,433.05 L602.67,432.12 L602.58,431.19 L602.61,430.26 L602.91,429.33 L603.03,428.4 L602.54,427.47 L602.43,426.54 L602.34,425.61 L602.29,424.68 L602.41,423.75 L602.43,422.82 L601.88,421.89 L601.7,420.96 L601.47,420.03 L601.27,419.1 L601.12,418.17 L600.97,417.24 L600.62,416.31 L600.33,415.38 L599.95,414.45 L599.7,413.52 L599.7,412.59 L599.7,411.66 L599.7,410.73 L599.7,409.8 L599.7,408.87 L599.7,407.94 L599.7,407.01 L599.7,406.08 L599.7,405.15 L599.7,404.22 L599.7,403.29 L599.7,402.36 L599.7,401.43 L599.7,400.5 L599.7,399.57 L599.7,398.64 L599.7,397.71 L599.7,396.78 L599.7,395.85 L599.7,394.92 L599.7,393.99 L599.7,393.06 L599.7,392.13 L599.7,391.2 L599.7,390.27 L599.7,389.34 L599.7,388.41 L599.7,387.48 L599.7,386.55 L599.7,385.62 L599.7,384.69 L599.7,383.76 L599.7,382.83 L599.7,381.9 L599.7,380.97 L599.7,380.04 L599.7,379.11 L599.7,378.18 L602.42,377.25 L604.46,376.32 L606.83,375.39 L610.53,374.46 L612.02,373.53 L609.51,372.6 L609,371.67 L607.29,370.74 L606.14,369.81 L604.99,368.88 L604.69,367.95 L604.29,367.02 L603.35,366.09 L602.82,365.16 L602.54,364.23 L602.33,363.3 L602.31,362.37 L602.27,361.44 L601.59,360.51 L601.24,359.58 L601.03,358.65 L601.02,357.72 L600.94,356.79 L600.58,355.86 L599.95,354.93 L599.7,354" fill="none" stroke="#c2c82a" stroke-width="1.6"/>
<path d="M599.7,681.36 L599.7,680.43 L599.7,679.5 L599.7,678.57 L599.7,677.64 L599.7,676.71 L599.7,675.78 L599.7,674.85 L599.7,673.92 L599.7,672.99 L599.7,672.06 L599.7,671.13 L599.7,670.2 L599.7,669.27 L599.7,668.34 L599.7,667.41 L599.7,666.48 L599.7,665.55 L599.7,664.62 L599.7,663.69 L599.7,662.76 L599.7,661.83 L599.7,660.9 L599.7,659.97 L599.7,659.04 L599.7,658.11 L599.7,657.18 L599.7,656.25 L599.7,655.32 L599.7,654.39 L599.7,653.46 L599.7,652.53 L599.7,651.6 L599.7,650.67 L599.7,649.74 L599.7,648.81 L599.7,647.88 L599.7,646.95 L599.7,646.02 L599.7,645.09 L599.7,644.16 L599.7,643.23 L599.7,642.3 L599.7,641.37 L599.7,640.44 L599.7,639.51 L599.7,638.58 L599.7,637.65 L599.7,636.72 L599.7,635.79 L599.7,634.86 L599.7,633.93 L599.7,633 L599.7,632.07 L599.7,631.14 L599.7,630.21 L599.7,629.28 L599.7,628.35 L599.7,627.42 L599.7,626.49 L599.7,625.56 L599.7,624.63 L599.7,623.7 L599.7,622.77 L599.7,621.84 L599.7,620.91 L599.7,619.98 L599.7,619.05 L599.7,618.12 L599.7,617.19 L599.7,616.26 L599.7,615.33 L599.7,614.4 L599.7,613.47 L599.7,612.54 L599.7,611.61 L599.7,610.68 L599.7,609.75 L599.7,608.82 L599.7,607.89 L599.7,606.96 L599.7,606.03 L599.7,605.1 L599.7,604.17 L599.7,603.24 L599.7,602.31 L599.7,601.38 L599.7,600.45 L599.7,599.52 L599.7,598.59 L599.7,597.66 L599.7,596.73 L599.7,595.8 L599.7,594.87 L599.7,593.94 L599.7,593.01 L599.7,592.08 L599.7,591.15 L599.7,590.22 L599.7,589.29 L599.7,588.36 L599.7,587.43 L599.7,586.5 L599.7,585.57 L599.7,584.64 L599.7,583.71 L599.7,582.78 L599.7,581.85 L599.7,580.92 L599.7,579.99 L599.7,579.06 L599.7,578.13 L599.7,577.2 L599.7,576.27 L599.7,575.34 L599.7,574.41 L599.7,573.48 L599.7,572.55 L599.7,571.62 L599.7,570.69 L599.7,569.76 L599.7,568.83 L599.7,567.9 L599.7,566.97 L599.7,566.04 L599.7,565.11 L599.7,564.18 L599.7,563.25 L599.7,562.32 L599.7,561.39 L599.7,560.46 L599.7,559.53 L599.7,558.6 L599.7,557.67 L599.7,556.74 L599.7,555.81 L599.7,554.88 L599.7,553.95 L599.7,553.02 L599.7,552.09 L599.7,551.16 L599.7,550.23 L599.7,549.3 L599.7,548.37 L599.7,547.44 L599.7,546.51 L599.7,545.58 L599.7,544.65 L599.7,543.72 L599.7,542.79 L599.7,541.86 L599.7,540.93 L599.7,540 L599.7,539.07 L599.7,538.14 L599.7,537.21 L599.7,536.28 L599.7,535.35 L599.7,534.42 L599.7,533.49 L599.7,532.56 L599.7,531.63 L599.7,530.7 L599.7,529.77 L599.7,528.84 L599.7,527.91 L599.7,526.98 L599.7,526.05 L599.7,525.12 L599.7,524.19 L599.7,523.26 L599.7,522.33 L599.7,521.4 L599.7,520.47 L599.7,519.54 L599.7,518.61 L599.7,517.68 L599.7,516.75 L599.7,515.82 L599.7,514.89 L599.7,513.96 L599.7,513.03 L599.7,512.1 L599.7,511.17 L599.7,510.24 L599.7,509.31 L599.7,508.38 L599.7,507.45 L599.7,506.52 L599.7,505.59 L599.7,504.66 L599.7,503.73 L599.7,502.8 L599.7,501.87 L599.7,500.94 L599.7,500.01 L599.7,499.08 L599.7,498.15 L599.7,497.22 L599.7,496.29 L599.7,495.36 L599.7,494.43 L599.7,493.5 L599.7,492.57 L599.7,491.64 L599.7,490.71 L599.7,489.78 L599.7,488.85 L599.7,487.92 L599.7,486.99 L599.7,486.06 L599.7,485.13 L599.7,484.2 L599.7,483.27 L599.7,482.34 L599.7,481.41 L599.7,480.48 L599.7,479.55 L599.7,478.62 L599.7,477.69 L599.7,476.76 L599.7,475.83 L599.7,474.9 L599.7,473.97 L599.7,473.04 L599.7,472.11 L599.7,471.18 L599.7,470.25 L599.7,469.32 L599.7,468.39 L599.7,467.46 L599.7,466.53 L599.7,465.6 L599.7,464.67 L599.7,463.74 L599.7,462.81 L599.7,461.88 L600.01,460.95 L600.49,460.02 L601.26,459.09 L601.4,458.16 L601.5,457.23 L601.83,456.3 L602.31,455.37 L602.51,454.44 L602.53,453.51 L602.56,452.58 L603.25,451.65 L602.8,450.72 L603,449.79 L602.92,448.86 L603.67,447.93 L604.16,447 L604.58,446.07 L604.17,445.14 L603.47,444.21 L603.93,443.28 L603.81,442.35 L604.32,441.42 L604.18,440.49 L604.36,439.56 L603.14,438.63 L602.85,437.7 L602.79,436.77 L603.37,435.84 L603.22,434.91 L603.11,433.98 L602.86,433.05 L603.49,432.12 L603.85,431.19 L603.86,430.26 L602.63,429.33 L602.29,428.4 L602.32,427.47 L602.91,426.54 L603.16,425.61 L602.98,424.68 L602.3,423.75 L602.24,422.82 L602.28,421.89 L602.26,420.96 L601.7,420.03 L601.34,419.1 L601.11,418.17 L600.74,417.24 L600.14,416.31 L599.7,415.38 L599.7,414.45 L599.7,413.52 L599.7,412.59 L599.7,411.66 L599.7,410.73 L599.7,409.8 L599.7,408.87 L599.7,407.94 L599.7,407.01 L599.7,406.08 L599.7,405.15 L599.7,404.22 L599.7,403.29 L599.7,402.36 L599.7,401.43 L599.7,400.5 L599.7,399.57 L599.7,398.64 L599.7,397.71 L599.7,396.78 L599.7,395.85 L599.7,394.92 L599.7,393.99 L599.7,393.06 L599.7,392.13 L599.7,391.2 L599.7,390.27 L599.7,389.34 L599.7,388.41 L599.7,387.48 L599.7,386.55 L599.7,385.62 L599.7,384.69 L599.7,383.76 L599.7,382.83 L599.7,381.9 L599.7,380.97 L599.7,380.04 L599.7,379.11 L599.7,378.18 L599.7,377.25 L599.7,376.32 L599.7,375.39 L599.7,374.46 L599.7,373.53 L599.7,372.6 L599.7,371.67 L599.7,370.74 L599.7,369.81 L599.7,368.88 L599.7,367.95 L599.7,367.02 L599.7,366.09 L599.7,365.16 L599.7,364.23 L599.7,363.3 L599.7,362.37 L599.7,361.44 L599.7,360.51 L599.7,359.58 L599.7,358.65 L599.7,357.72 L599.7,356.79 L599.7,355.86 L599.7,354.93 L599.7,354" fill="none" stroke="#2020ff" stroke-width="1.6"/>
<path d="M599.7,681.36 L599.7,680.43 L599.7,679.5 L599.7,678.57 L599.7,677.64 L599.7,676.71 L599.7,675.78 L599.7,674.85 L599.7,673.92 L599.7,672.99 L599.7,672.06 L599.7,671.13 L599.7,670.2 L599.7,669.27 L599.7,668.34 L599.7,667.41 L599.7,666.48 L599.7,665.55 L599.7,664.62 L599.7,663.69 L599.7,662.76 L599.7,661.83 L599.7,660.9 L599.7,659.97 L599.7,659.04 L599.7,658.11 L599.7,657.18 L599.7,656.25 L599.7,655.32 L599.7,654.39 L599.7,653.46 L599.7,652.53 L599.7,651.6 L599.7,650.67 L599.7,649.74 L599.7,648.81 L599.7,647.88 L599.7,646.95 L599.7,646.02 L599.7,645.09 L599.7,644.16 L599.7,643.23 L599.7,642.3 L599.7,641.37 L599.7,640.44 L599.7,639.51 L599.7,638.58 L599.7,637.65 L599.7,636.72 L599.7,635.79 L599.7,634.86 L599.7,633.93 L599.7,633 L599.7,632.07 L599.7,631.14 L599.7,630.21 L599.7,629.28 L599.7,628.35 L599.7,627.42 L599.7,626.49 L599.7,625.56 L599.7,624.63 L599.7,623.7 L599.7,622.77 L599.7,621.84 L599.7,620.91 L599.7,619.98 L599.7,619.05 L599.7,618.12 L599.7,617.19 L599.7,616.26 L599.7,615.33 L599.7,614.4 L599.7,613.47 L599.7,612.54 L599.7,611.61 L599.7,610.68 L599.7,609.75 L599.7,608.82 L599.7,607.89 L599.7,606.96 L599.7,606.03 L599.7,605.1 L599.7,604.17 L599.7,603.24 L599.7,602.31 L599.7,601.38 L599.7,600.45 L599.7,599.52 L599.7,598.59 L599.7,597.66 L599.7,596.73 L599.7,595.8 L599.7,594.87 L599.7,593.94 L599.7,593.01 L599.7,592.08 L599.7,591.15 L599.7,590.22 L599.7,589.29 L599.7,588.36 L599.7,587.43 L599.7,586.5 L599.7,585.57 L599.7,584.64 L599.7,583.71 L599.7,582.78 L599.7,581.85 L599.7,580.92 L599.7,579.99 L599.7,579.06 L599.7,578.13 L599.7,577.2 L599.7,576.27 L599.7,575.34 L599.7,574.41 L599.7,573.48 L599.7,572.55 L599.7,571.62 L599.7,570.69 L599.7,569.76 L599.7,568.83 L599.7,567.9 L599.7,566.97 L599.7,566.04 L599.7,565.11 L599.7,564.18 L599.7,563.25 L599.7,562.32 L599.7,561.39 L599.7,560.46 L599.7,559.53 L599.7,558.6 L599.7,557.67 L599.7,556.74 L599.7,555.81 L599.7,554.88 L599.7,553.95 L599.7,553.02 L599.7,552.09 L599.7,551.16 L599.7,550.23 L599.7,549.3 L599.7,548.37 L599.7,547.44 L599.7,546.51 L599.7,545.58 L599.7,544.65 L599.7,543.72 L599.7,542.79 L599.7,541.86 L599.7,540.93 L599.7,540 L599.7,539.07 L599.7,538.14 L599.7,537.21 L599.7,536.28 L599.7,535.35 L599.7,534.42 L599.7,533.49 L599.7,532.56 L599.7,531.63 L599.7,530.7 L599.7,529.77 L599.7,528.84 L599.99,527.91 L600.29,526.98 L600.66,526.05 L600.73,525.12 L600.97,524.19 L601.21,523.26 L601.44,522.33 L601.81,521.4 L602.41,520.47 L602.52,519.54 L602.3,518.61 L602.69,517.68 L602.97,516.75 L602.7,515.82 L602.51,514.89 L602.55,513.96 L602.39,513.03 L602.61,512.1 L602.86,511.17 L603.08,510.24 L602.79,509.31 L603.17,508.38 L603.77,507.45 L604.67,506.52 L605.03,505.59 L603.64,504.66 L603.04,503.73 L602.88,502.8 L603.2,501.87 L603.61,500.94 L604.63,500.01 L605.01,499.08 L605.01,498.15 L604.44,497.22 L603.87,496.29 L604.22,495.36 L604.07,494.43 L604.01,493.5 L603.67,492.57 L604.87,491.64 L604.6,490.71 L603.98,489.78 L603.6,488.85 L604.47,487.92 L605.17,486.99 L604.48,486.06 L603.97,485.13 L604.03,484.2 L604.78,483.27 L606.01,482.34 L606.44,481.41 L606.12,480.48 L606.82,479.55 L609,478.62 L611.28,477.69 L609.97,476.76 L608.41,475.83 L607.74,474.9 L608.42,473.97 L608.98,473.04 L612.54,472.11 L614.27,471.18 L613.59,470.25 L610.78,469.32 L610.14,468.39 L608.55,467.46 L608.13,466.53 L608.08,465.6 L608.51,464.67 L608.58,463.74 L610.06,462.81 L610.17,461.88 L608.74,460.95 L607.06,460.02 L606.74,459.09 L606.61,458.16 L608.12,457.23 L608.22,456.3 L607.13,455.37 L607.5,454.44 L608.27,453.51 L608.56,452.58 L608.73,451.65 L610.24,450.72 L610.79,449.79 L612.4,448.86 L611.31,447.93 L610.45,447 L608.02,446.07 L607.72,445.14 L607.26,444.21 L609.51,443.28 L608.03,442.35 L606.99,441.42 L605.66,440.49 L605.77,439.56 L605,438.63 L605.8,437.7 L606.81,436.77 L606.53,435.84 L604.85,434.91 L603.32,433.98 L602.71,433.05 L602.36,432.12 L602.48,431.19 L602.45,430.26 L602.22,429.33 L601.94,428.4 L601.92,427.47 L601.84,426.54 L601.71,425.61 L601.62,424.68 L601.57,423.75 L602.03,422.82 L602.01,421.89 L601.29,420.96 L601.08,420.03 L600.95,419.1 L600.83,418.17 L600.78,417.24 L600.68,416.31 L600.54,415.38 L600.43,414.45 L600.34,413.52 L600.05,412.59 L599.93,411.66 L599.83,410.73 L599.7,409.8 L599.7,408.87 L599.7,407.94 L599.7,407.01 L599.7,406.08 L599.7,405.15 L599.7,404.22 L599.7,403.29 L599.7,402.36 L599.7,401.43 L599.7,400.5 L599.7,399.57 L599.7,398.64 L599.7,397.71 L599.7,396.78 L599.7,395.85 L599.7,394.92 L599.7,393.99 L599.7,393.06 L599.7,392.13 L599.7,391.2 L599.7,390.27 L599.7,389.34 L599.7,388.41 L599.7,387.48 L599.7,386.55 L599.7,385.62 L599.7,384.69 L599.7,383.76 L599.7,382.83 L599.7,381.9 L599.7,380.97 L599.7,380.04 L599.7,379.11 L599.7,378.18 L599.7,377.25 L599.7,376.32 L599.7,375.39 L599.7,374.46 L599.7,373.53 L599.7,372.6 L599.7,371.67 L599.7,370.74 L599.7,369.81 L599.7,368.88 L599.7,367.95 L599.7,367.02 L599.7,366.09 L599.7,365.16 L599.7,364.23 L599.7,363.3 L599.7,362.37 L599.7,361.44 L599.7,360.51 L599.7,359.58 L599.7,358.65 L599.7,357.72 L599.7,356.79 L599.7,355.86 L599.7,354.93 L599.7,354" fill="none" stroke="#ff2020" stroke-width="1.7"/>
<path d="M599.7,681.36 L599.7,680.43 L599.7,679.5 L599.7,678.57 L599.7,677.64 L599.7,676.71 L599.7,675.78 L599.7,674.85 L599.7,673.92 L599.7,672.99 L599.7,672.06 L599.7,671.13 L599.7,670.2 L599.7,669.27 L599.7,668.34 L599.7,667.41 L599.7,666.48 L599.7,665.55 L599.7,664.62 L599.7,663.69 L599.7,662.76 L599.7,661.83 L599.7,660.9 L599.7,659.97 L599.7,659.04 L599.7,658.11 L599.7,657.18 L599.7,656.25 L599.7,655.32 L599.7,654.39 L599.7,653.46 L599.7,652.53 L599.7,651.6 L599.7,650.67 L599.7,649.74 L599.7,648.81 L599.7,647.88 L599.7,646.95 L599.7,646.02 L599.7,645.09 L599.7,644.16 L599.7,643.23 L599.7,642.3 L599.7,641.37 L599.7,640.44 L599.7,639.51 L599.7,638.58 L599.7,637.65 L599.7,636.72 L599.7,635.79 L599.7,634.86 L599.7,633.93 L599.7,633 L599.7,632.07 L599.7,631.14 L599.7,630.21 L599.7,629.28 L599.7,628.35 L599.7,627.42 L599.7,626.49 L599.7,625.56 L599.7,624.63 L599.7,623.7 L599.7,622.77 L599.7,621.84 L599.7,620.91 L599.7,619.98 L599.7,619.05 L599.7,618.12 L599.7,617.19 L599.7,616.26 L599.7,615.33 L599.7,614.4 L599.7,613.47 L599.7,612.54 L599.7,611.61 L599.7,610.68 L599.7,609.75 L599.7,608.82 L599.7,607.89 L599.7,606.96 L599.7,606.03 L599.7,605.1 L599.7,604.17 L599.7,603.24 L599.7,602.31 L599.7,601.38 L599.7,600.45 L599.7,599.52 L599.7,598.59 L599.7,597.66 L599.7,596.73 L599.7,595.8 L599.7,594.87 L599.7,593.94 L599.7,593.01 L599.7,592.08 L599.7,591.15 L599.7,590.22 L599.7,589.29 L599.7,588.36 L599.7,587.43 L599.7,586.5 L599.7,585.57 L599.7,584.64 L599.7,583.71 L599.7,582.78 L599.7,581.85 L599.7,580.92 L599.7,579.99 L599.7,579.06 L599.7,578.13 L599.7,577.2 L599.7,576.27 L599.7,575.34 L599.7,574.41 L599.7,573.48 L599.7,572.55 L599.7,571.62 L599.7,570.69 L599.7,569.76 L599.7,568.83 L599.7,567.9 L599.7,566.97 L599.7,566.04 L599.7,565.11 L599.7,564.18 L599.7,563.25 L599.7,562.32 L599.7,561.39 L599.7,560.46 L599.7,559.53 L599.7,558.6 L599.7,557.67 L599.7,556.74 L599.7,555.81 L599.7,554.88 L599.7,553.95 L599.7,553.02 L599.7,552.09 L599.7,551.16 L599.7,550.23 L599.7,549.3 L599.7,548.37 L599.7,547.44 L599.7,546.51 L599.7,545.58 L599.7,544.65 L599.7,543.72 L599.7,542.79 L599.7,541.86 L599.7,540.93 L599.7,540 L599.7,539.07 L599.7,538.14 L599.7,537.21 L599.7,536.28 L599.7,535.35 L599.7,534.42 L599.7,533.49 L599.7,532.56 L599.93,531.63 L600.13,530.7 L600.75,529.77 L601.13,528.84 L601.96,527.91 L602.91,526.98 L603.45,526.05 L604.24,525.12 L604.98,524.19 L605.82,523.26 L606.62,522.33 L608.8,521.4 L610.58,520.47 L611.96,519.54 L613.43,518.61 L615.26,517.68 L616.75,516.75 L618.59,515.82 L621.2,514.89 L625.52,513.96 L630.03,513.03 L638.21,512.1 L637.59,511.17 L633.33,510.24 L630.36,509.31 L629.82,508.38 L626.08,507.45 L621.91,506.52 L618.1,505.59 L620.04,504.66 L622.39,503.73 L626.1,502.8 L631.82,501.87 L636.86,500.94 L639.01,500.01 L642.36,499.08 L644.51,498.15 L645.81,497.22 L649.2,496.29 L657.84,495.36 L670.27,494.43 L676.12,493.5 L685.9,492.57 L685.9,491.64 L670.12,490.71 L650.4,489.78 L641.29,488.85 L638.57,487.92 L634.7,486.99 L631.41,486.06 L630.58,485.13 L631.72,484.2 L630.24,483.27 L623.06,482.34 L617.14,481.41 L614.83,480.48 L614.72,479.55 L613.74,478.62 L612.59,477.69 L611.27,476.76 L610.88,475.83 L610.48,474.9 L610.97,473.97 L610.91,473.04 L610.49,472.11 L609.48,471.18 L610.06,470.25 L612.11,469.32 L614.05,468.39 L616.51,467.46 L618.94,466.53 L622.05,465.6 L624.03,464.67 L627.25,463.74 L627.78,462.81 L627.24,461.88 L624.13,460.95 L621.59,460.02 L621.45,459.09 L622.54,458.16 L622.07,457.23 L623.12,456.3 L627.62,455.37 L632.23,454.44 L635.39,453.51 L642.53,452.58 L650.33,451.65 L653.16,450.72 L648.43,449.79 L642.7,448.86 L638.28,447.93 L633.82,447 L631.1,446.07 L627.49,445.14 L625.41,444.21 L624.09,443.28 L624.46,442.35 L622.75,441.42 L623.81,440.49 L623.78,439.56 L624.24,438.63 L623.86,437.7 L623.61,436.77 L623.48,435.84 L623.3,434.91 L622.68,433.98 L622.2,433.05 L621.8,432.12 L624.03,431.19 L626.46,430.26 L623.78,429.33 L621.55,428.4 L622.95,427.47 L626.07,426.54 L625.13,425.61 L622.25,424.68 L619.92,423.75 L617.95,422.82 L615.39,421.89 L614.65,420.96 L614.47,420.03 L614.5,419.1 L612.55,418.17 L610.83,417.24 L607.88,416.31 L605.7,415.38 L603.14,414.45 L601.4,413.52 L601.11,412.59 L600.68,411.66 L600.11,410.73 L599.7,409.8 L599.7,408.87 L599.7,407.94 L599.7,407.01 L599.7,406.08 L599.7,405.15 L599.7,404.22 L599.7,403.29 L599.7,402.36 L599.7,401.43 L599.7,400.5 L599.7,399.57 L599.7,398.64 L599.7,397.71 L599.7,396.78 L599.7,395.85 L599.7,394.92 L599.7,393.99 L599.7,393.06 L599.7,392.13 L599.7,391.2 L599.7,390.27 L599.7,389.34 L599.7,388.41 L599.7,387.48 L599.7,386.55 L599.7,385.62 L599.7,384.69 L599.7,383.76 L599.7,382.83 L599.7,381.9 L599.7,380.97 L599.7,380.04 L600.06,379.11 L600.42,378.18 L601.34,377.25 L604.86,376.32 L608.66,375.39 L612.56,374.46 L615.06,373.53 L612.33,372.6 L609.68,371.67 L608.17,370.74 L607.61,369.81 L606.76,368.88 L605.97,367.95 L605.13,367.02 L604.31,366.09 L603.66,365.16 L603.34,364.23 L603.24,363.3 L603.02,362.37 L603.21,361.44 L602.72,360.51 L601.98,359.58 L601.09,358.65 L600.73,357.72 L600.14,356.79 L599.97,355.86 L599.83,354.93 L599.7,354" fill="none" stroke="#000" stroke-width="1.7"/>
<path d="M599.7,681.36 L599.7,680.43 L599.7,679.5 L599.7,678.57 L599.7,677.64 L599.7,676.71 L599.7,675.78 L599.7,674.85 L599.7,673.92 L599.7,672.99 L599.7,672.06 L599.7,671.13 L599.7,670.2 L599.7,669.27 L599.7,668.34 L599.7,667.41 L599.7,666.48 L599.7,665.55 L599.7,664.62 L599.7,663.69 L599.7,662.76 L599.7,661.83 L599.7,660.9 L599.7,659.97 L599.7,659.04 L599.7,658.11 L599.7,657.18 L599.7,656.25 L599.7,655.32 L599.7,654.39 L599.7,653.46 L599.7,652.53 L599.7,651.6 L599.7,650.67 L599.7,649.74 L599.7,648.81 L599.7,647.88 L599.7,646.95 L599.7,646.02 L599.7,645.09 L599.7,644.16 L599.7,643.23 L599.7,642.3 L599.7,641.37 L599.7,640.44 L599.7,639.51 L599.7,638.58 L599.7,637.65 L599.7,636.72 L599.7,635.79 L599.7,634.86 L599.7,633.93 L599.7,633 L599.7,632.07 L599.7,631.14 L599.7,630.21 L599.7,629.28 L599.7,628.35 L599.7,627.42 L599.7,626.49 L599.7,625.56 L599.7,624.63 L599.7,623.7 L599.7,622.77 L599.7,621.84 L599.7,620.91 L599.7,619.98 L599.7,619.05 L599.7,618.12 L599.7,617.19 L599.7,616.26 L599.7,615.33 L599.7,614.4 L599.7,613.47 L599.7,612.54 L599.7,611.61 L599.7,610.68 L599.7,609.75 L599.7,608.82 L599.7,607.89 L599.7,606.96 L599.7,606.03 L599.7,605.1 L599.7,604.17 L599.7,603.24 L599.7,602.31 L599.7,601.38 L599.7,600.45 L599.7,599.52 L599.7,598.59 L599.7,597.66 L599.7,596.73 L599.7,595.8 L599.7,594.87 L599.7,593.94 L599.7,593.01 L599.7,592.08 L599.7,591.15 L599.7,590.22 L599.7,589.29 L599.7,588.36 L599.7,587.43 L599.7,586.5 L599.7,585.57 L599.7,584.64 L599.7,583.71 L599.7,582.78 L599.7,581.85 L599.7,580.92 L599.7,579.99 L599.7,579.06 L599.7,578.13 L599.7,577.2 L599.7,576.27 L599.7,575.34 L599.7,574.41 L599.7,573.48 L599.7,572.55 L599.7,571.62 L599.7,570.69 L599.7,569.76 L599.7,568.83 L599.7,567.9 L599.7,566.97 L599.7,566.04 L599.7,565.11 L599.7,564.18 L599.7,563.25 L599.7,562.32 L599.7,561.39 L599.7,560.46 L599.7,559.53 L599.7,558.6 L599.7,557.67 L599.7,556.74 L599.7,555.81 L599.7,554.88 L599.7,553.95 L599.7,553.02 L599.7,552.09 L599.7,551.16 L599.7,550.23 L599.7,549.3 L599.7,548.37 L599.7,547.44 L599.7,546.51 L599.7,545.58 L599.7,544.65 L599.7,543.72 L599.7,542.79 L599.7,541.86 L599.7,540.93 L599.7,540 L599.7,539.07 L599.7,538.14 L599.7,537.21 L599.7,536.28 L599.7,535.35 L599.7,534.42 L599.7,533.49 L599.7,532.56 L599.91,531.63 L600.1,530.7 L600.65,529.77 L600.94,528.84 L601.56,527.91 L602.27,526.98 L602.74,526.05 L603.56,525.12 L604.42,524.19 L605.32,523.26 L606,522.33 L607.64,521.4 L608.71,520.47 L609.53,519.54 L610.8,518.61 L612.85,517.68 L614.87,516.75 L617.04,515.82 L619.32,514.89 L622.35,513.96 L624.94,513.03 L630.62,512.1 L630.26,511.17 L627.96,510.24 L626.85,509.31 L627.3,508.38 L623.83,507.45 L619.29,506.52 L615.09,505.59 L616.06,504.66 L617.95,503.73 L621.77,502.8 L628,501.87 L633.68,500.94 L635.74,500.01 L637.51,499.08 L637.4,498.15 L636.9,497.22 L639.43,496.29 L648.03,495.36 L661.54,494.43 L669.4,493.5 L681.41,492.57 L683.37,491.64 L659.28,490.71 L640.73,489.78 L633.03,488.85 L631.85,487.92 L630.2,486.99 L628.54,486.06 L628.08,485.13 L628.36,484.2 L625.69,483.27 L618.67,482.34 L613.66,481.41 L612.15,480.48 L612.71,479.55 L612.42,478.62 L611.55,477.69 L610.1,476.76 L609.27,475.83 L608.49,474.9 L608.72,473.97 L608.88,473.04 L609,472.11 L608.53,471.18 L609.24,470.25 L610.91,469.32 L612.06,468.39 L613.46,467.46 L615.09,466.53 L617.93,465.6 L620.54,464.67 L624.48,463.74 L625.53,462.81 L624.65,461.88 L620.85,460.95 L617.7,460.02 L617.11,459.09 L618.25,458.16 L618.75,457.23 L620.68,456.3 L625.36,455.37 L629.27,454.44 L630.78,453.51 L635.1,452.58 L640.27,451.65 L642.98,450.72 L640.96,449.79 L638.03,448.86 L635.12,447.93 L630.81,447 L627.2,446.07 L622.78,445.14 L620.33,444.21 L619.39,443.28 L620.54,442.35 L620.15,441.42 L621.81,440.49 L621.71,439.56 L621.31,438.63 L619.88,437.7 L618.93,436.77 L618.84,435.84 L619.46,434.91 L619.99,433.98 L620.29,433.05 L619.94,432.12 L621.24,431.19 L622.17,430.26 L619.11,429.33 L617.25,428.4 L619.06,427.47 L622.85,426.54 L622.91,425.61 L620.4,424.68 L617.69,423.75 L615.11,422.82 L612.38,421.89 L611.68,420.96 L611.94,420.03 L612.62,419.1 L611.4,418.17 L609.93,417.24 L607.02,416.31 L604.8,415.38 L602.49,414.45 L601.06,413.52 L600.86,412.59 L600.55,411.66 L600.07,410.73 L599.7,409.8 L599.7,408.87 L599.7,407.94 L599.7,407.01 L599.7,406.08 L599.7,405.15 L599.7,404.22 L599.7,403.29 L599.7,402.36 L599.7,401.43 L599.7,400.5 L599.7,399.57 L599.7,398.64 L599.7,397.71 L599.7,396.78 L599.7,395.85 L599.7,394.92 L599.7,393.99 L599.7,393.06 L599.7,392.13 L599.7,391.2 L599.7,390.27 L599.7,389.34 L599.7,388.41 L599.7,387.48 L599.7,386.55 L599.7,385.62 L599.7,384.69 L599.7,383.76 L599.7,382.83 L599.7,381.9 L599.7,380.97 L599.7,380.04 L600.03,379.11 L600.33,378.18 L601.06,377.25 L603.84,376.32 L606.94,375.39 L610.54,374.46 L613.34,373.53 L611.29,372.6 L608.82,371.67 L607.15,370.74 L606.3,369.81 L605.37,368.88 L604.75,367.95 L604.26,367.02 L603.77,366.09 L603.32,365.16 L603.03,364.23 L602.83,363.3 L602.49,362.37 L602.52,361.44 L602.13,360.51 L601.6,359.58 L600.92,358.65 L600.64,357.72 L600.1,356.79 L599.94,355.86 L599.81,354.93 L599.7,354" fill="none" stroke="#2e8b22" stroke-width="1.8" stroke-dasharray="4,2"/>
</g>
<rect x="599.7" y="354.4" width="83.2" height="326.1" fill="none" stroke="#000" stroke-width="1.4"/>
<path d="M682.9,670.2 h-4 M682.9,651.6 h-4 M682.9,633 h-4 M682.9,614.4 h-4 M682.9,595.8 h-4 M682.9,577.2 h-4 M682.9,558.6 h-4 M682.9,540 h-4 M682.9,521.4 h-4 M682.9,502.8 h-4 M682.9,484.2 h-4 M682.9,465.6 h-4 M682.9,447 h-4 M682.9,428.4 h-4 M682.9,409.8 h-4 M682.9,391.2 h-4 M682.9,372.6 h-4" stroke="#000" stroke-width="1"/>
<rect x="611.4" y="360.6" width="63.8" height="110.2" rx="3" fill="#fff" fill-opacity="0.75" stroke="#d0d0d0" stroke-width="1"/>
<line x1="615.7" y1="369.8" x2="634" y2="369.8" stroke="#000" stroke-width="2"/>
<text x="643.7" y="374.2" font-size="13" font-weight="bold">Total</text>
<line x1="615.7" y1="387.6" x2="634" y2="387.6" stroke="#2020ff" stroke-width="2"/>
<text x="643.7" y="392" font-size="13" font-weight="bold">C</text>
<line x1="615.7" y1="405.4" x2="634" y2="405.4" stroke="#bcc62a" stroke-width="2"/>
<text x="643.7" y="409.8" font-size="13" font-weight="bold">N</text>
<line x1="615.7" y1="423.2" x2="634" y2="423.2" stroke="#52dccc" stroke-width="2"/>
<text x="643.7" y="427.6" font-size="13" font-weight="bold">H</text>
<line x1="615.7" y1="441" x2="634" y2="441" stroke="#ff2a2a" stroke-width="2"/>
<text x="643.7" y="445.4" font-size="13" font-weight="bold">Pb</text>
<line x1="615.7" y1="458.8" x2="634" y2="458.8" stroke="#2e8b22" stroke-width="2" stroke-dasharray="4,2.5"/>
<text x="643.7" y="463.2" font-size="13" font-weight="bold">I</text>
<text x="641.3" y="704.7" font-size="16" text-anchor="middle">DOS</text>
<text x="420.6" y="625" font-size="18.5" font-weight="bold" fill="#1f3a80"><tspan font-style="italic">T</tspan> = 0 K</text>
<text x="510.8" y="625" font-size="18.5" font-weight="bold" fill="#b01a30"><tspan font-style="italic">T</tspan> = 300 K</text>
<text x="602" y="625" font-size="18.5" font-weight="bold" fill="#3a8a1a"><tspan font-style="italic">T</tspan> = 500 K</text>
<text x="409" y="349" font-size="36" font-weight="bold">d</text>
<line x1="67.6" y1="540" x2="685" y2="540" stroke="#000" stroke-width="1.6" stroke-dasharray="2.6,2.4"/>
</g>
<g id="pe">
<rect x="89.9" y="773.53" width="30.1" height="267.37" fill="#8f00ff" stroke="#3a3a3a" stroke-width="0.7"/>
<rect x="140.4" y="848.23" width="31.4" height="192.67" fill="#4ea2ff" stroke="#3a3a3a" stroke-width="0.7"/>
<rect x="191.5" y="897.17" width="31.1" height="143.73" fill="#7fffd6" stroke="#3a3a3a" stroke-width="0.7"/>
<rect x="242.4" y="912.11" width="31.1" height="128.79" fill="#b2ff94" stroke="#3a3a3a" stroke-width="0.7"/>
<rect x="293.2" y="926.53" width="31.2" height="114.37" fill="#ef9354" stroke="#3a3a3a" stroke-width="0.7"/>
<rect x="344.1" y="929.62" width="31.1" height="111.28" fill="#ff2414" stroke="#3a3a3a" stroke-width="0.7"/>
<rect x="75.3" y="731.8" width="315.5" height="309.1" fill="none" stroke="#333" stroke-width="1.1"/>
<path d="M75.3,1040.9 h4.5 M75.3,1015.14 h2.8 M75.3,989.38 h4.5 M75.3,963.62 h2.8 M75.3,937.87 h4.5 M75.3,912.11 h2.8 M75.3,886.35 h4.5 M75.3,860.59 h2.8 M75.3,834.83 h4.5 M75.3,809.08 h2.8 M75.3,783.32 h4.5 M75.3,757.56 h2.8 M75.3,731.8 h4.5" stroke="#333" stroke-width="0.9"/>
<text x="73.8" y="1048.2" font-size="19" text-anchor="end">0.0</text>
<text x="73.8" y="996.68" font-size="19" text-anchor="end">0.1</text>
<text x="73.8" y="945.17" font-size="19" text-anchor="end">0.2</text>
<text x="73.8" y="893.65" font-size="19" text-anchor="end">0.3</text>
<text x="73.8" y="842.13" font-size="19" text-anchor="end">0.4</text>
<text x="73.8" y="790.62" font-size="19" text-anchor="end">0.5</text>
<text x="73.8" y="739.1" font-size="19" text-anchor="end">0.6</text>
<text transform="translate(44.5,898.3) rotate(-90)" font-size="19.7" text-anchor="middle">Force Constant |Φ| (eV·<tspan font-style="italic">Å</tspan><tspan dy="-7" font-size="14">−2</tspan><tspan dy="7">)</tspan></text>
<text transform="translate(105.95,1092) rotate(-76)" font-size="15" font-weight="bold" font-style="italic" fill="#8f00ff">Pb-I</text>
<text transform="translate(157.1,1092) rotate(-76)" font-size="15" font-weight="bold" font-style="italic" fill="#4ea2ff">I-N</text>
<text transform="translate(208.05,1092) rotate(-76)" font-size="15" font-weight="bold" font-style="italic" fill="#7fffd6">I-H</text>
<text transform="translate(258.95,1092) rotate(-76)" font-size="15" font-weight="bold" font-style="italic" fill="#b2ff94">Pb-C</text>
<text transform="translate(309.8,1092) rotate(-76)" font-size="15" font-weight="bold" font-style="italic" fill="#ef9354">Pb-H</text>
<text transform="translate(360.65,1092) rotate(-76)" font-size="15" font-weight="bold" font-style="italic" fill="#ff2414">Pb-N</text>
<text x="5" y="737" font-size="37" font-weight="bold">e</text>
</g>
<g id="pf" class="sans">
<defs><clipPath id="clipf"><rect x="456.2" y="726.0" width="216.8" height="334.20000000000005"/></clipPath></defs>
<g clip-path="url(#clipf)">
<line x1="456.2" y1="911.67" x2="673.0" y2="911.67" stroke="#333" stroke-width="1.3" stroke-dasharray="5,3"/>
<path d="M511.6,725.8 L525,728.8 L544.3,732.6 L509.9,738.5 L516.9,740.8 L542.6,742.8 L556,744.2 L550.1,745.7 L531.5,747.8 L532.6,749.8 L544.9,751.3 L561.2,756.8 L558.9,759.7 L544.3,764.4 L558.9,768.1 L542.6,769.6 L513.4,771.4 L497.2,774 L513.4,775.8 L527.4,779.6 L540.2,781.9 L553.6,783.6 L557.2,785.4 L561.2,792.4 L564.2,797.1 L561.8,797.9 L546.1,800.3 L527.4,803.1 L525.6,804.6 L528,809.3 L520.6,813.1 L523.3,815.1 L547.2,818 L557.7,821 L556.6,823.3 L546.1,825.6 L536.7,831.5 L519.8,835.5 L533.2,839 L541.4,842.3 L543.1,843.7 L542,844.7 L553.1,847.5 L561.2,849.6 L563.6,853 L564.4,870 L564.3,890 L564.5,905 L564.4,911.7 L563.8,914.6 L562.6,917.5 L563.2,921 L557.4,923.9 L554.1,926.9 L554.5,929.8 L549.2,931.8 L540.8,934.5 L543.4,937.4 L553.9,940.9 L555.6,944.4 L555,947.3 L557.4,947.9 L555,950.2 L558.5,953.1 L564.4,956.6 L566.1,960.7 L574.3,967.7 L576.1,971.2 L574.9,973.6 L583.1,978.2 L569.2,986.1 L568.5,989 L578.7,994.1 L569.9,999.2 L571.4,1002.8 L580.9,1008 L575.8,1012.3 L569.9,1014.5 L579.4,1016.7 L612.3,1020.4 L618.1,1025.5 L605.7,1027.7 L615.9,1029.1 L653,1032.4 L640,1034.2 L569.2,1040.8 L567.7,1043 L570.7,1045.9 L564.8,1049.6 L564.6,1056" fill="none" stroke="#ff2020" stroke-width="1.9" stroke-linejoin="round"/>
<path d="M563.5,800 L562.5,804 L563.5,808" fill="none" stroke="#f0a020" stroke-width="1.4" stroke-dasharray="4,1.5,1,1.5"/>
<path d="M562,938 L563,942" fill="none" stroke="#f0a020" stroke-width="1.4" stroke-dasharray="4,1.5,1,1.5"/>
<path d="M556,948 L555,951 L558,953" fill="none" stroke="#f0a020" stroke-width="1.4" stroke-dasharray="4,1.5,1,1.5"/>
<path d="M563.4,1009.4 L572,1013 L579.4,1017.4 L575,1020.4 L566.3,1025.5 L564,1032.8" fill="none" stroke="#f0a020" stroke-width="1.4" stroke-dasharray="4,1.5,1,1.5"/>
<path d="M563.5,790 L564,840" fill="none" stroke="#f0a020" stroke-width="1.4" stroke-dasharray="4,1.5,1,1.5"/>
<line x1="564.9" y1="726.0" x2="564.9" y2="1060.2" stroke="#8a2ad0" stroke-width="1.6"/>
<line x1="564.3" y1="726.0" x2="564.3" y2="1060.2" stroke="#1f1ff0" stroke-width="1.3" stroke-dasharray="4,2"/>
<line x1="564.6" y1="726.0" x2="564.6" y2="1060.2" stroke="#000" stroke-width="1.5" stroke-dasharray="1.5,1.5"/>
</g>
<rect x="456.2" y="726.0" width="216.8" height="334.20000000000005" fill="none" stroke="#222" stroke-width="1.3"/>
<path d="M456.2,1060.2 h4.5 M673.0,1060.2 h-4.5 M456.2,1023.07 h4.5 M673.0,1023.07 h-4.5 M456.2,985.93 h4.5 M673.0,985.93 h-4.5 M456.2,948.8 h4.5 M673.0,948.8 h-4.5 M456.2,911.67 h4.5 M673.0,911.67 h-4.5 M456.2,874.53 h4.5 M673.0,874.53 h-4.5 M456.2,837.4 h4.5 M673.0,837.4 h-4.5 M456.2,800.27 h4.5 M673.0,800.27 h-4.5 M456.2,763.13 h4.5 M673.0,763.13 h-4.5 M456.2,726 h4.5 M673.0,726 h-4.5 M456.2,1060.2 v-4.5 M456.2,726.0 v4.5 M510.4,1060.2 v-4.5 M510.4,726.0 v4.5 M564.6,1060.2 v-4.5 M564.6,726.0 v4.5 M618.8,1060.2 v-4.5 M618.8,726.0 v4.5 M673,1060.2 v-4.5 M673,726.0 v4.5" stroke="#222" stroke-width="1.2"/>
<text x="453.3" y="1064.8" font-size="13" text-anchor="end" style="font-family:'Liberation Sans',sans-serif">−4</text>
<text x="453.3" y="1027.67" font-size="13" text-anchor="end" style="font-family:'Liberation Sans',sans-serif">−3</text>
<text x="453.3" y="990.53" font-size="13" text-anchor="end" style="font-family:'Liberation Sans',sans-serif">−2</text>
<text x="453.3" y="953.4" font-size="13" text-anchor="end" style="font-family:'Liberation Sans',sans-serif">−1</text>
<text x="453.3" y="916.27" font-size="13" text-anchor="end" style="font-family:'Liberation Sans',sans-serif">0</text>
<text x="453.3" y="879.13" font-size="13" text-anchor="end" style="font-family:'Liberation Sans',sans-serif">1</text>
<text x="453.3" y="842" font-size="13" text-anchor="end" style="font-family:'Liberation Sans',sans-serif">2</text>
<text x="453.3" y="804.87" font-size="13" text-anchor="end" style="font-family:'Liberation Sans',sans-serif">3</text>
<text x="453.3" y="767.73" font-size="13" text-anchor="end" style="font-family:'Liberation Sans',sans-serif">4</text>
<text x="453.3" y="730.6" font-size="13" text-anchor="end" style="font-family:'Liberation Sans',sans-serif">5</text>
<text x="456.2" y="1073.3" font-size="13" text-anchor="middle" style="font-family:'Liberation Sans',sans-serif">−2</text>
<text x="510.4" y="1073.3" font-size="13" text-anchor="middle" style="font-family:'Liberation Sans',sans-serif">−1</text>
<text x="564.6" y="1073.3" font-size="13" text-anchor="middle" style="font-family:'Liberation Sans',sans-serif">0</text>
<text x="618.8" y="1073.3" font-size="13" text-anchor="middle" style="font-family:'Liberation Sans',sans-serif">1</text>
<text x="673" y="1073.3" font-size="13" text-anchor="middle" style="font-family:'Liberation Sans',sans-serif">2</text>
<text x="564.6" y="1090.8" font-size="15.5" text-anchor="middle" style="font-family:'Liberation Sans',sans-serif">-COHP</text>
<text transform="translate(427.8,893.8) rotate(-90)" font-size="17.3" text-anchor="middle" style="font-family:'Liberation Sans',sans-serif">E − E<tspan font-size="12" dy="3.5">fermi</tspan><tspan dy="-3.5"> (eV)</tspan></text>
<rect x="593.3" y="734" width="75.5" height="133.3" rx="3" fill="#888" opacity="0.55"/>
<rect x="591.5" y="732.1" width="75.5" height="133.3" rx="3" fill="#fff" stroke="#d0d0d0" stroke-width="1"/>
<line x1="596" y1="742.2" x2="622.2" y2="742.2" stroke="#ff2020" stroke-width="1.7"/>
<text x="632.4" y="746.8" font-size="13" style="font-family:'Liberation Sans',sans-serif">Pb-I</text>
<line x1="596" y1="760.6" x2="622.2" y2="760.6" stroke="#1f1ff0" stroke-width="1.7" stroke-dasharray="4,2"/>
<text x="632.4" y="765.2" font-size="13" style="font-family:'Liberation Sans',sans-serif">C-I</text>
<line x1="596" y1="779" x2="622.2" y2="779" stroke="#2a9a2a" stroke-width="1.7" stroke-dasharray="1.2,1.6"/>
<text x="632.4" y="783.6" font-size="13" style="font-family:'Liberation Sans',sans-serif">N-Pb</text>
<line x1="596" y1="797.4" x2="622.2" y2="797.4" stroke="#f0a020" stroke-width="1.7" stroke-dasharray="5,2,1.5,2"/>
<text x="632.4" y="802" font-size="13" style="font-family:'Liberation Sans',sans-serif">N-I</text>
<line x1="596" y1="815.8" x2="622.2" y2="815.8" stroke="#8a2ad0" stroke-width="1.7"/>
<text x="632.4" y="820.4" font-size="13" style="font-family:'Liberation Sans',sans-serif">H-I</text>
<line x1="596" y1="834.2" x2="622.2" y2="834.2" stroke="#9a2a2a" stroke-width="1.7" stroke-dasharray="4,2"/>
<text x="632.4" y="838.8" font-size="13" style="font-family:'Liberation Sans',sans-serif">H-Pb</text>
<line x1="596" y1="852.6" x2="622.2" y2="852.6" stroke="#000" stroke-width="1.7" stroke-dasharray="1.2,1.6"/>
<text x="632.4" y="857.2" font-size="13" style="font-family:'Liberation Sans',sans-serif">C-Pb</text>
<path d="M575.5,879.57 L577.51,880.17 L579.53,879.33 L581.54,879.97 L583.56,880 L585.57,879.56 L587.58,880.22 L589.6,879.5 L591.61,879.68 L593.62,879.25 L595.64,880.3 L597.65,880.28 L599.67,879.48 L601.68,879.94 L603.69,879.28 L605.71,879.44 L607.72,879.62 L609.74,879.56 L611.75,879.6 L613.76,879.71 L615.78,880.09 L617.79,879.61 L619.81,879.71 L621.82,879.25 L623.83,880.26 L625.85,879.48 L627.86,879.89 L629.88,879.42 L631.89,879.44 L633.9,879.82 L635.92,880.31 L637.93,879.72 L639.94,880.29 L641.96,879.5 L643.97,880.36 L645.99,879.58 L648,879.21 L648,882.58 L645.99,883.44 L643.97,883.35 L641.96,883.01 L639.94,883.08 L637.93,883.19 L635.92,882.46 L633.9,883.26 L631.89,883.36 L629.88,882.88 L627.86,882.49 L625.85,882.89 L623.83,883.58 L621.82,883.29 L619.81,883.53 L617.79,883.32 L615.78,882.56 L613.76,882.53 L611.75,883.58 L609.74,882.6 L607.72,883.32 L605.71,882.55 L603.69,882.81 L601.68,882.98 L599.67,882.94 L597.65,882.88 L595.64,883.2 L593.62,883.49 L591.61,882.63 L589.6,883.08 L587.58,882.74 L585.57,882.56 L583.56,882.78 L581.54,883.43 L579.53,883 L577.51,883.51 L575.5,883.5 Z" fill="#861426" opacity="0.9"/>
<path d="M645.2,871.6 L661.5,881.4 L645.2,891.3 L648,881.4 Z" fill="#861426" stroke="#861426" stroke-width="0.8" stroke-linejoin="round"/>
<text x="585.4" y="900.7" font-size="17.5" font-weight="bold" fill="#7a1424" style="font-family:'Liberation Serif',serif">Bonding</text>
<path d="M480,979.27 L482.01,979.15 L484.01,979.35 L486.02,979.94 L488.02,978.91 L490.03,979.95 L492.03,979.11 L494.04,979.97 L496.04,979.12 L498.05,979.25 L500.06,979.91 L502.06,979.31 L504.07,979.64 L506.07,978.9 L508.08,979.22 L510.08,979.31 L512.09,979.63 L514.09,978.83 L516.1,979.23 L518.11,979.51 L520.11,979.75 L522.12,978.93 L524.12,978.88 L526.13,979.9 L528.13,978.9 L530.14,979.92 L532.14,979.92 L534.15,979.28 L536.16,979.75 L538.16,979.49 L540.17,979.26 L542.17,978.97 L544.18,979.76 L546.18,979.61 L548.19,978.95 L550.19,979.29 L552.2,979.66 L552.2,982.55 L550.19,982.25 L548.19,982.21 L546.18,982.14 L544.18,982.72 L542.17,982.79 L540.17,982.29 L538.16,983.19 L536.16,982.19 L534.15,982.27 L532.14,982.83 L530.14,982.05 L528.13,982.78 L526.13,982.35 L524.12,982.83 L522.12,982.1 L520.11,983.15 L518.11,982.62 L516.1,982.91 L514.09,982.45 L512.09,982.27 L510.08,982.7 L508.08,982.71 L506.07,982.94 L504.07,982.7 L502.06,982.74 L500.06,982.83 L498.05,982.91 L496.04,982.16 L494.04,982.39 L492.03,982.15 L490.03,982.14 L488.02,983.01 L486.02,982.37 L484.01,982.89 L482.01,982.8 L480,983.02 Z" fill="#3a9a2a" opacity="0.9"/>
<path d="M483.1,971.5 L466.6,981.4 L483.1,991.4 L480.5,981.4 Z" fill="#3a9a2a" stroke="#3a9a2a" stroke-width="0.8" stroke-linejoin="round"/>
<text x="459.4" y="969.8" font-size="17.5" font-weight="bold" fill="#2e8a1e" style="font-family:'Liberation Serif',serif">Anti-bonding</text>
<text x="424" y="738" font-size="36" style="font-family:'Liberation Serif',serif">f</text>
</g>
</svg>
</body></html>
